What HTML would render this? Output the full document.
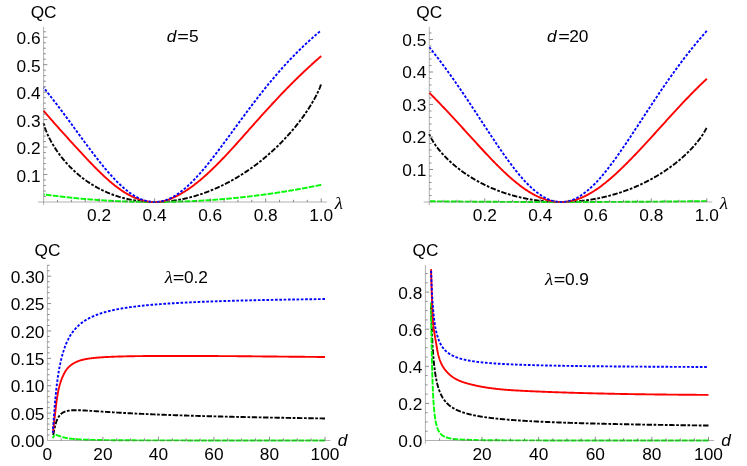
<!DOCTYPE html>
<html><head><meta charset="utf-8"><title>QC plots</title>
<style>html,body{margin:0;padding:0;background:#fff}svg{display:block;will-change:transform}text{fill:#000}</style></head>
<body><svg width="747" height="466" viewBox="0 0 747 466">
<rect width="747" height="466" fill="#fff"/>
<path d="M43.60,123.16 L44.29,125.87 L44.99,127.99 L45.68,129.88 L46.38,131.63 L47.07,133.27 L47.76,134.83 L48.46,136.31 L49.15,137.73 L49.85,139.10 L50.54,140.42 L51.23,141.69 L51.93,142.93 L52.62,144.13 L53.32,145.29 L54.01,146.43 L54.70,147.54 L55.40,148.62 L56.09,149.67 L56.79,150.70 L57.48,151.71 L58.17,152.69 L58.87,153.65 L59.56,154.60 L60.26,155.52 L60.95,156.43 L61.64,157.32 L62.34,158.19 L63.03,159.04 L63.73,159.88 L64.42,160.71 L65.11,161.51 L65.81,162.31 L66.50,163.09 L67.20,163.86 L67.89,164.61 L68.58,165.35 L69.28,166.08 L69.97,166.80 L70.67,167.50 L71.36,168.20 L72.05,168.88 L72.75,169.55 L73.44,170.21 L74.14,170.86 L74.83,171.50 L75.52,172.13 L76.22,172.75 L76.91,173.36 L77.61,173.96 L78.30,174.55 L78.99,175.13 L79.69,175.70 L80.38,176.27 L81.08,176.82 L81.77,177.37 L82.46,177.91 L83.16,178.44 L83.85,178.96 L84.55,179.47 L85.24,179.98 L85.93,180.47 L86.63,180.96 L87.32,181.45 L88.02,181.92 L88.71,182.39 L89.40,182.85 L90.10,183.30 L90.79,183.75 L91.49,184.19 L92.18,184.62 L92.87,185.05 L93.57,185.47 L94.26,185.88 L94.96,186.29 L95.65,186.69 L96.34,187.08 L97.04,187.46 L97.73,187.85 L98.43,188.22 L99.12,188.59 L99.81,188.95 L100.51,189.31 L101.20,189.66 L101.90,190.00 L102.59,190.34 L103.28,190.67 L103.98,191.00 L104.67,191.32 L105.37,191.64 L106.06,191.95 L106.75,192.25 L107.45,192.55 L108.14,192.84 L108.84,193.13 L109.53,193.42 L110.22,193.69 L110.92,193.97 L111.61,194.23 L112.31,194.50 L113.00,194.75 L113.69,195.01 L114.39,195.25 L115.08,195.49 L115.78,195.73 L116.47,195.96 L117.16,196.19 L117.86,196.41 L118.55,196.63 L119.25,196.85 L119.94,197.05 L120.63,197.26 L121.33,197.46 L122.02,197.65 L122.72,197.84 L123.41,198.03 L124.10,198.21 L124.80,198.38 L125.49,198.55 L126.19,198.72 L126.88,198.88 L127.57,199.04 L128.27,199.20 L128.96,199.35 L129.66,199.49 L130.35,199.63 L131.04,199.77 L131.74,199.90 L132.43,200.03 L133.13,200.15 L133.82,200.27 L134.51,200.39 L135.21,200.50 L135.90,200.61 L136.60,200.71 L137.29,200.81 L137.98,200.90 L138.68,200.99 L139.37,201.08 L140.07,201.16 L140.76,201.24 L141.45,201.32 L142.15,201.39 L142.84,201.45 L143.54,201.52 L144.23,201.58 L144.92,201.63 L145.62,201.68 L146.31,201.73 L147.01,201.77 L147.70,201.81 L148.39,201.85 L149.09,201.88 L149.78,201.91 L150.48,201.93 L151.17,201.95 L151.86,201.97 L152.56,201.98 L153.25,201.99 L153.95,202.00 L154.64,202.00 L155.33,202.00 L156.03,201.99 L156.72,201.98 L157.42,201.97 L158.11,201.95 L158.80,201.93 L159.50,201.91 L160.19,201.88 L160.89,201.85 L161.58,201.82 L162.27,201.78 L162.97,201.74 L163.66,201.69 L164.36,201.64 L165.05,201.59 L165.74,201.53 L166.44,201.47 L167.13,201.41 L167.83,201.34 L168.52,201.27 L169.21,201.20 L169.91,201.12 L170.60,201.04 L171.30,200.96 L171.99,200.87 L172.68,200.78 L173.38,200.68 L174.07,200.58 L174.77,200.48 L175.46,200.38 L176.15,200.27 L176.85,200.16 L177.54,200.04 L178.24,199.92 L178.93,199.80 L179.62,199.67 L180.32,199.55 L181.01,199.41 L181.71,199.28 L182.40,199.14 L183.09,198.99 L183.79,198.85 L184.48,198.70 L185.18,198.54 L185.87,198.39 L186.56,198.23 L187.26,198.07 L187.95,197.90 L188.65,197.73 L189.34,197.55 L190.03,197.38 L190.73,197.20 L191.42,197.01 L192.12,196.83 L192.81,196.64 L193.50,196.44 L194.20,196.25 L194.89,196.04 L195.59,195.84 L196.28,195.63 L196.97,195.42 L197.67,195.21 L198.36,194.99 L199.06,194.77 L199.75,194.55 L200.44,194.32 L201.14,194.09 L201.83,193.85 L202.53,193.62 L203.22,193.37 L203.91,193.13 L204.61,192.88 L205.30,192.63 L206.00,192.38 L206.69,192.12 L207.38,191.86 L208.08,191.59 L208.77,191.32 L209.47,191.05 L210.16,190.78 L210.85,190.50 L211.55,190.22 L212.24,189.93 L212.94,189.64 L213.63,189.35 L214.32,189.05 L215.02,188.75 L215.71,188.45 L216.41,188.15 L217.10,187.84 L217.79,187.52 L218.49,187.21 L219.18,186.89 L219.88,186.56 L220.57,186.24 L221.26,185.91 L221.96,185.57 L222.65,185.23 L223.35,184.89 L224.04,184.55 L224.73,184.20 L225.43,183.85 L226.12,183.49 L226.82,183.13 L227.51,182.77 L228.20,182.41 L228.90,182.04 L229.59,181.66 L230.29,181.29 L230.98,180.91 L231.67,180.52 L232.37,180.14 L233.06,179.74 L233.76,179.35 L234.45,178.95 L235.14,178.55 L235.84,178.14 L236.53,177.73 L237.23,177.32 L237.92,176.90 L238.61,176.48 L239.31,176.06 L240.00,175.63 L240.70,175.20 L241.39,174.76 L242.08,174.32 L242.78,173.88 L243.47,173.43 L244.17,172.98 L244.86,172.52 L245.55,172.06 L246.25,171.60 L246.94,171.13 L247.64,170.66 L248.33,170.18 L249.02,169.71 L249.72,169.22 L250.41,168.73 L251.11,168.24 L251.80,167.75 L252.49,167.25 L253.19,166.74 L253.88,166.24 L254.58,165.72 L255.27,165.21 L255.96,164.69 L256.66,164.16 L257.35,163.63 L258.05,163.10 L258.74,162.56 L259.43,162.02 L260.13,161.47 L260.82,160.92 L261.52,160.36 L262.21,159.80 L262.90,159.24 L263.60,158.67 L264.29,158.09 L264.99,157.51 L265.68,156.93 L266.37,156.34 L267.07,155.75 L267.76,155.15 L268.46,154.55 L269.15,153.94 L269.84,153.32 L270.54,152.71 L271.23,152.08 L271.93,151.46 L272.62,150.82 L273.31,150.18 L274.01,149.54 L274.70,148.89 L275.40,148.24 L276.09,147.58 L276.78,146.91 L277.48,146.24 L278.17,145.56 L278.87,144.88 L279.56,144.19 L280.25,143.50 L280.95,142.80 L281.64,142.09 L282.34,141.38 L283.03,140.66 L283.72,139.93 L284.42,139.20 L285.11,138.47 L285.81,137.72 L286.50,136.97 L287.19,136.21 L287.89,135.45 L288.58,134.68 L289.28,133.90 L289.97,133.11 L290.66,132.32 L291.36,131.52 L292.05,130.71 L292.75,129.89 L293.44,129.07 L294.13,128.24 L294.83,127.40 L295.52,126.55 L296.22,125.69 L296.91,124.82 L297.60,123.94 L298.30,123.06 L298.99,122.16 L299.69,121.26 L300.38,120.34 L301.07,119.42 L301.77,118.48 L302.46,117.53 L303.16,116.57 L303.85,115.60 L304.54,114.62 L305.24,113.62 L305.93,112.61 L306.63,111.58 L307.32,110.55 L308.01,109.49 L308.71,108.42 L309.40,107.33 L310.10,106.23 L310.79,105.11 L311.48,103.96 L312.18,102.80 L312.87,101.61 L313.57,100.40 L314.26,99.16 L314.95,97.89 L315.65,96.59 L316.34,95.25 L317.04,93.87 L317.73,92.45 L318.42,90.96 L319.12,89.40 L319.81,87.74 L320.51,85.94 L321.20,83.74" fill="none" stroke="#000" stroke-width="1.9" stroke-linejoin="round" stroke-dasharray="2.7 1.6 5.4 1.6" stroke-dashoffset="0.00"/>
<path d="M43.60,194.37 L44.29,194.47 L44.99,194.56 L45.68,194.66 L46.38,194.75 L47.07,194.84 L47.76,194.93 L48.46,195.03 L49.15,195.12 L49.85,195.21 L50.54,195.30 L51.23,195.38 L51.93,195.47 L52.62,195.56 L53.32,195.65 L54.01,195.74 L54.70,195.82 L55.40,195.91 L56.09,195.99 L56.79,196.08 L57.48,196.16 L58.17,196.24 L58.87,196.33 L59.56,196.41 L60.26,196.49 L60.95,196.57 L61.64,196.65 L62.34,196.73 L63.03,196.81 L63.73,196.89 L64.42,196.96 L65.11,197.04 L65.81,197.12 L66.50,197.19 L67.20,197.27 L67.89,197.34 L68.58,197.42 L69.28,197.49 L69.97,197.57 L70.67,197.64 L71.36,197.71 L72.05,197.78 L72.75,197.85 L73.44,197.92 L74.14,197.99 L74.83,198.06 L75.52,198.13 L76.22,198.20 L76.91,198.26 L77.61,198.33 L78.30,198.39 L78.99,198.46 L79.69,198.52 L80.38,198.59 L81.08,198.65 L81.77,198.71 L82.46,198.78 L83.16,198.84 L83.85,198.90 L84.55,198.96 L85.24,199.02 L85.93,199.08 L86.63,199.14 L87.32,199.20 L88.02,199.25 L88.71,199.31 L89.40,199.37 L90.10,199.42 L90.79,199.48 L91.49,199.53 L92.18,199.59 L92.87,199.64 L93.57,199.69 L94.26,199.74 L94.96,199.80 L95.65,199.85 L96.34,199.90 L97.04,199.95 L97.73,200.00 L98.43,200.05 L99.12,200.09 L99.81,200.14 L100.51,200.19 L101.20,200.23 L101.90,200.28 L102.59,200.32 L103.28,200.37 L103.98,200.41 L104.67,200.46 L105.37,200.50 L106.06,200.54 L106.75,200.58 L107.45,200.62 L108.14,200.66 L108.84,200.70 L109.53,200.74 L110.22,200.78 L110.92,200.82 L111.61,200.85 L112.31,200.89 L113.00,200.93 L113.69,200.96 L114.39,201.00 L115.08,201.03 L115.78,201.07 L116.47,201.10 L117.16,201.13 L117.86,201.16 L118.55,201.19 L119.25,201.23 L119.94,201.26 L120.63,201.28 L121.33,201.31 L122.02,201.34 L122.72,201.37 L123.41,201.40 L124.10,201.42 L124.80,201.45 L125.49,201.47 L126.19,201.50 L126.88,201.52 L127.57,201.55 L128.27,201.57 L128.96,201.59 L129.66,201.61 L130.35,201.63 L131.04,201.66 L131.74,201.68 L132.43,201.69 L133.13,201.71 L133.82,201.73 L134.51,201.75 L135.21,201.77 L135.90,201.78 L136.60,201.80 L137.29,201.81 L137.98,201.83 L138.68,201.84 L139.37,201.86 L140.07,201.87 L140.76,201.88 L141.45,201.89 L142.15,201.90 L142.84,201.91 L143.54,201.92 L144.23,201.93 L144.92,201.94 L145.62,201.95 L146.31,201.96 L147.01,201.96 L147.70,201.97 L148.39,201.98 L149.09,201.98 L149.78,201.99 L150.48,201.99 L151.17,201.99 L151.86,202.00 L152.56,202.00 L153.25,202.00 L153.95,202.00 L154.64,202.00 L155.33,202.00 L156.03,202.00 L156.72,202.00 L157.42,202.00 L158.11,201.99 L158.80,201.99 L159.50,201.99 L160.19,201.98 L160.89,201.98 L161.58,201.97 L162.27,201.96 L162.97,201.96 L163.66,201.95 L164.36,201.94 L165.05,201.93 L165.74,201.92 L166.44,201.91 L167.13,201.90 L167.83,201.89 L168.52,201.88 L169.21,201.87 L169.91,201.86 L170.60,201.84 L171.30,201.83 L171.99,201.81 L172.68,201.80 L173.38,201.78 L174.07,201.77 L174.77,201.75 L175.46,201.73 L176.15,201.71 L176.85,201.69 L177.54,201.68 L178.24,201.66 L178.93,201.63 L179.62,201.61 L180.32,201.59 L181.01,201.57 L181.71,201.55 L182.40,201.52 L183.09,201.50 L183.79,201.47 L184.48,201.45 L185.18,201.42 L185.87,201.40 L186.56,201.37 L187.26,201.34 L187.95,201.31 L188.65,201.28 L189.34,201.26 L190.03,201.23 L190.73,201.19 L191.42,201.16 L192.12,201.13 L192.81,201.10 L193.50,201.07 L194.20,201.03 L194.89,201.00 L195.59,200.96 L196.28,200.93 L196.97,200.89 L197.67,200.85 L198.36,200.82 L199.06,200.78 L199.75,200.74 L200.44,200.70 L201.14,200.66 L201.83,200.62 L202.53,200.58 L203.22,200.54 L203.91,200.50 L204.61,200.46 L205.30,200.41 L206.00,200.37 L206.69,200.32 L207.38,200.28 L208.08,200.23 L208.77,200.19 L209.47,200.14 L210.16,200.09 L210.85,200.05 L211.55,200.00 L212.24,199.95 L212.94,199.90 L213.63,199.85 L214.32,199.80 L215.02,199.74 L215.71,199.69 L216.41,199.64 L217.10,199.59 L217.79,199.53 L218.49,199.48 L219.18,199.42 L219.88,199.37 L220.57,199.31 L221.26,199.25 L221.96,199.20 L222.65,199.14 L223.35,199.08 L224.04,199.02 L224.73,198.96 L225.43,198.90 L226.12,198.84 L226.82,198.78 L227.51,198.71 L228.20,198.65 L228.90,198.59 L229.59,198.52 L230.29,198.46 L230.98,198.39 L231.67,198.33 L232.37,198.26 L233.06,198.20 L233.76,198.13 L234.45,198.06 L235.14,197.99 L235.84,197.92 L236.53,197.85 L237.23,197.78 L237.92,197.71 L238.61,197.64 L239.31,197.57 L240.00,197.49 L240.70,197.42 L241.39,197.34 L242.08,197.27 L242.78,197.19 L243.47,197.12 L244.17,197.04 L244.86,196.96 L245.55,196.89 L246.25,196.81 L246.94,196.73 L247.64,196.65 L248.33,196.57 L249.02,196.49 L249.72,196.41 L250.41,196.33 L251.11,196.24 L251.80,196.16 L252.49,196.08 L253.19,195.99 L253.88,195.91 L254.58,195.82 L255.27,195.74 L255.96,195.65 L256.66,195.56 L257.35,195.47 L258.05,195.38 L258.74,195.30 L259.43,195.21 L260.13,195.12 L260.82,195.03 L261.52,194.93 L262.21,194.84 L262.90,194.75 L263.60,194.66 L264.29,194.56 L264.99,194.47 L265.68,194.37 L266.37,194.28 L267.07,194.18 L267.76,194.08 L268.46,193.99 L269.15,193.89 L269.84,193.79 L270.54,193.69 L271.23,193.59 L271.93,193.49 L272.62,193.39 L273.31,193.29 L274.01,193.19 L274.70,193.08 L275.40,192.98 L276.09,192.87 L276.78,192.77 L277.48,192.67 L278.17,192.56 L278.87,192.45 L279.56,192.35 L280.25,192.24 L280.95,192.13 L281.64,192.02 L282.34,191.91 L283.03,191.80 L283.72,191.69 L284.42,191.58 L285.11,191.47 L285.81,191.36 L286.50,191.24 L287.19,191.13 L287.89,191.02 L288.58,190.90 L289.28,190.79 L289.97,190.67 L290.66,190.55 L291.36,190.44 L292.05,190.32 L292.75,190.20 L293.44,190.08 L294.13,189.96 L294.83,189.84 L295.52,189.72 L296.22,189.60 L296.91,189.48 L297.60,189.36 L298.30,189.23 L298.99,189.11 L299.69,188.98 L300.38,188.86 L301.07,188.73 L301.77,188.61 L302.46,188.48 L303.16,188.35 L303.85,188.23 L304.54,188.10 L305.24,187.97 L305.93,187.84 L306.63,187.71 L307.32,187.58 L308.01,187.45 L308.71,187.32 L309.40,187.18 L310.10,187.05 L310.79,186.92 L311.48,186.78 L312.18,186.65 L312.87,186.51 L313.57,186.37 L314.26,186.24 L314.95,186.10 L315.65,185.96 L316.34,185.82 L317.04,185.68 L317.73,185.55 L318.42,185.40 L319.12,185.26 L319.81,185.12 L320.51,184.98 L321.20,184.84" fill="none" stroke="#00fc00" stroke-width="1.9" stroke-linejoin="round" stroke-dasharray="5.7 1.25" stroke-dashoffset="4.58"/>
<path d="M43.60,110.73 L44.29,111.55 L44.99,112.37 L45.68,113.19 L46.38,114.00 L47.07,114.81 L47.76,115.62 L48.46,116.43 L49.15,117.23 L49.85,118.03 L50.54,118.83 L51.23,119.62 L51.93,120.42 L52.62,121.21 L53.32,122.00 L54.01,122.78 L54.70,123.57 L55.40,124.35 L56.09,125.13 L56.79,125.91 L57.48,126.69 L58.17,127.47 L58.87,128.24 L59.56,129.02 L60.26,129.79 L60.95,130.56 L61.64,131.33 L62.34,132.10 L63.03,132.87 L63.73,133.64 L64.42,134.41 L65.11,135.18 L65.81,135.94 L66.50,136.71 L67.20,137.48 L67.89,138.24 L68.58,139.01 L69.28,139.77 L69.97,140.54 L70.67,141.30 L71.36,142.07 L72.05,142.83 L72.75,143.59 L73.44,144.35 L74.14,145.12 L74.83,145.88 L75.52,146.64 L76.22,147.40 L76.91,148.15 L77.61,148.91 L78.30,149.67 L78.99,150.42 L79.69,151.18 L80.38,151.93 L81.08,152.68 L81.77,153.43 L82.46,154.18 L83.16,154.92 L83.85,155.67 L84.55,156.41 L85.24,157.15 L85.93,157.89 L86.63,158.63 L87.32,159.36 L88.02,160.09 L88.71,160.82 L89.40,161.55 L90.10,162.28 L90.79,163.00 L91.49,163.72 L92.18,164.44 L92.87,165.15 L93.57,165.86 L94.26,166.57 L94.96,167.28 L95.65,167.98 L96.34,168.68 L97.04,169.37 L97.73,170.07 L98.43,170.75 L99.12,171.44 L99.81,172.12 L100.51,172.79 L101.20,173.46 L101.90,174.13 L102.59,174.79 L103.28,175.44 L103.98,176.09 L104.67,176.74 L105.37,177.38 L106.06,178.02 L106.75,178.64 L107.45,179.27 L108.14,179.88 L108.84,180.50 L109.53,181.10 L110.22,181.70 L110.92,182.29 L111.61,182.88 L112.31,183.46 L113.00,184.03 L113.69,184.59 L114.39,185.15 L115.08,185.70 L115.78,186.24 L116.47,186.78 L117.16,187.30 L117.86,187.82 L118.55,188.33 L119.25,188.84 L119.94,189.33 L120.63,189.82 L121.33,190.29 L122.02,190.76 L122.72,191.22 L123.41,191.67 L124.10,192.11 L124.80,192.55 L125.49,192.97 L126.19,193.38 L126.88,193.79 L127.57,194.18 L128.27,194.57 L128.96,194.94 L129.66,195.31 L130.35,195.67 L131.04,196.01 L131.74,196.35 L132.43,196.68 L133.13,197.00 L133.82,197.30 L134.51,197.60 L135.21,197.89 L135.90,198.17 L136.60,198.44 L137.29,198.70 L137.98,198.95 L138.68,199.19 L139.37,199.43 L140.07,199.65 L140.76,199.86 L141.45,200.07 L142.15,200.26 L142.84,200.45 L143.54,200.63 L144.23,200.79 L144.92,200.95 L145.62,201.10 L146.31,201.24 L147.01,201.37 L147.70,201.49 L148.39,201.60 L149.09,201.70 L149.78,201.79 L150.48,201.86 L151.17,201.93 L151.86,201.99 L152.56,202.03 L153.25,202.06 L153.95,202.08 L154.64,202.09 L155.33,202.09 L156.03,202.07 L156.72,202.04 L157.42,202.00 L158.11,201.95 L158.80,201.88 L159.50,201.80 L160.19,201.71 L160.89,201.60 L161.58,201.48 L162.27,201.34 L162.97,201.20 L163.66,201.04 L164.36,200.87 L165.05,200.68 L165.74,200.49 L166.44,200.28 L167.13,200.06 L167.83,199.83 L168.52,199.59 L169.21,199.34 L169.91,199.08 L170.60,198.81 L171.30,198.53 L171.99,198.23 L172.68,197.93 L173.38,197.63 L174.07,197.31 L174.77,196.98 L175.46,196.65 L176.15,196.31 L176.85,195.96 L177.54,195.60 L178.24,195.23 L178.93,194.86 L179.62,194.48 L180.32,194.10 L181.01,193.70 L181.71,193.30 L182.40,192.89 L183.09,192.48 L183.79,192.05 L184.48,191.63 L185.18,191.19 L185.87,190.75 L186.56,190.30 L187.26,189.84 L187.95,189.38 L188.65,188.91 L189.34,188.43 L190.03,187.94 L190.73,187.45 L191.42,186.96 L192.12,186.45 L192.81,185.94 L193.50,185.42 L194.20,184.90 L194.89,184.37 L195.59,183.83 L196.28,183.29 L196.97,182.74 L197.67,182.18 L198.36,181.62 L199.06,181.05 L199.75,180.48 L200.44,179.90 L201.14,179.31 L201.83,178.72 L202.53,178.12 L203.22,177.52 L203.91,176.91 L204.61,176.30 L205.30,175.68 L206.00,175.06 L206.69,174.43 L207.38,173.79 L208.08,173.15 L208.77,172.51 L209.47,171.86 L210.16,171.21 L210.85,170.55 L211.55,169.89 L212.24,169.22 L212.94,168.55 L213.63,167.87 L214.32,167.19 L215.02,166.51 L215.71,165.82 L216.41,165.13 L217.10,164.43 L217.79,163.73 L218.49,163.03 L219.18,162.32 L219.88,161.61 L220.57,160.90 L221.26,160.18 L221.96,159.46 L222.65,158.74 L223.35,158.02 L224.04,157.29 L224.73,156.55 L225.43,155.82 L226.12,155.08 L226.82,154.34 L227.51,153.60 L228.20,152.85 L228.90,152.10 L229.59,151.35 L230.29,150.60 L230.98,149.84 L231.67,149.09 L232.37,148.33 L233.06,147.57 L233.76,146.80 L234.45,146.04 L235.14,145.27 L235.84,144.50 L236.53,143.74 L237.23,142.96 L237.92,142.19 L238.61,141.42 L239.31,140.64 L240.00,139.87 L240.70,139.09 L241.39,138.31 L242.08,137.54 L242.78,136.76 L243.47,135.98 L244.17,135.20 L244.86,134.42 L245.55,133.64 L246.25,132.85 L246.94,132.07 L247.64,131.29 L248.33,130.51 L249.02,129.73 L249.72,128.94 L250.41,128.16 L251.11,127.38 L251.80,126.60 L252.49,125.82 L253.19,125.03 L253.88,124.25 L254.58,123.47 L255.27,122.69 L255.96,121.91 L256.66,121.14 L257.35,120.36 L258.05,119.58 L258.74,118.80 L259.43,118.03 L260.13,117.25 L260.82,116.48 L261.52,115.71 L262.21,114.93 L262.90,114.16 L263.60,113.39 L264.29,112.63 L264.99,111.86 L265.68,111.09 L266.37,110.33 L267.07,109.56 L267.76,108.80 L268.46,108.04 L269.15,107.28 L269.84,106.53 L270.54,105.77 L271.23,105.02 L271.93,104.26 L272.62,103.51 L273.31,102.76 L274.01,102.02 L274.70,101.27 L275.40,100.53 L276.09,99.78 L276.78,99.04 L277.48,98.31 L278.17,97.57 L278.87,96.84 L279.56,96.10 L280.25,95.37 L280.95,94.64 L281.64,93.92 L282.34,93.19 L283.03,92.47 L283.72,91.75 L284.42,91.03 L285.11,90.32 L285.81,89.60 L286.50,88.89 L287.19,88.18 L287.89,87.47 L288.58,86.77 L289.28,86.06 L289.97,85.36 L290.66,84.66 L291.36,83.96 L292.05,83.27 L292.75,82.58 L293.44,81.89 L294.13,81.20 L294.83,80.51 L295.52,79.83 L296.22,79.15 L296.91,78.47 L297.60,77.79 L298.30,77.11 L298.99,76.44 L299.69,75.77 L300.38,75.10 L301.07,74.44 L301.77,73.77 L302.46,73.11 L303.16,72.45 L303.85,71.79 L304.54,71.14 L305.24,70.48 L305.93,69.83 L306.63,69.18 L307.32,68.54 L308.01,67.89 L308.71,67.25 L309.40,66.61 L310.10,65.97 L310.79,65.34 L311.48,64.71 L312.18,64.08 L312.87,63.45 L313.57,62.82 L314.26,62.19 L314.95,61.57 L315.65,60.95 L316.34,60.33 L317.04,59.72 L317.73,59.10 L318.42,58.49 L319.12,57.88 L319.81,57.27 L320.51,56.67 L321.20,56.07" fill="none" stroke="#ff0000" stroke-width="1.9" stroke-linejoin="round"/>
<path d="M43.60,87.58 L44.29,88.44 L44.99,89.31 L45.68,90.17 L46.38,91.04 L47.07,91.91 L47.76,92.79 L48.46,93.67 L49.15,94.55 L49.85,95.43 L50.54,96.32 L51.23,97.21 L51.93,98.10 L52.62,99.00 L53.32,99.90 L54.01,100.80 L54.70,101.70 L55.40,102.61 L56.09,103.51 L56.79,104.42 L57.48,105.34 L58.17,106.25 L58.87,107.17 L59.56,108.09 L60.26,109.01 L60.95,109.94 L61.64,110.86 L62.34,111.79 L63.03,112.72 L63.73,113.65 L64.42,114.58 L65.11,115.52 L65.81,116.45 L66.50,117.39 L67.20,118.33 L67.89,119.27 L68.58,120.21 L69.28,121.16 L69.97,122.10 L70.67,123.04 L71.36,123.99 L72.05,124.93 L72.75,125.88 L73.44,126.83 L74.14,127.78 L74.83,128.72 L75.52,129.67 L76.22,130.62 L76.91,131.57 L77.61,132.52 L78.30,133.46 L78.99,134.41 L79.69,135.36 L80.38,136.30 L81.08,137.25 L81.77,138.19 L82.46,139.14 L83.16,140.08 L83.85,141.02 L84.55,141.96 L85.24,142.90 L85.93,143.84 L86.63,144.77 L87.32,145.71 L88.02,146.64 L88.71,147.57 L89.40,148.49 L90.10,149.42 L90.79,150.34 L91.49,151.26 L92.18,152.17 L92.87,153.09 L93.57,154.00 L94.26,154.90 L94.96,155.80 L95.65,156.70 L96.34,157.60 L97.04,158.49 L97.73,159.38 L98.43,160.26 L99.12,161.14 L99.81,162.01 L100.51,162.88 L101.20,163.74 L101.90,164.60 L102.59,165.45 L103.28,166.30 L103.98,167.14 L104.67,167.98 L105.37,168.81 L106.06,169.63 L106.75,170.45 L107.45,171.26 L108.14,172.06 L108.84,172.86 L109.53,173.65 L110.22,174.43 L110.92,175.20 L111.61,175.97 L112.31,176.73 L113.00,177.48 L113.69,178.23 L114.39,178.96 L115.08,179.69 L115.78,180.40 L116.47,181.11 L117.16,181.81 L117.86,182.50 L118.55,183.18 L119.25,183.85 L119.94,184.52 L120.63,185.17 L121.33,185.81 L122.02,186.44 L122.72,187.06 L123.41,187.67 L124.10,188.27 L124.80,188.86 L125.49,189.44 L126.19,190.00 L126.88,190.56 L127.57,191.10 L128.27,191.63 L128.96,192.15 L129.66,192.66 L130.35,193.16 L131.04,193.64 L131.74,194.11 L132.43,194.57 L133.13,195.02 L133.82,195.45 L134.51,195.87 L135.21,196.28 L135.90,196.67 L136.60,197.05 L137.29,197.42 L137.98,197.77 L138.68,198.11 L139.37,198.44 L140.07,198.75 L140.76,199.05 L141.45,199.34 L142.15,199.61 L142.84,199.86 L143.54,200.11 L144.23,200.33 L144.92,200.55 L145.62,200.75 L146.31,200.93 L147.01,201.10 L147.70,201.26 L148.39,201.40 L149.09,201.52 L149.78,201.64 L150.48,201.73 L151.17,201.81 L151.86,201.88 L152.56,201.93 L153.25,201.97 L153.95,201.99 L154.64,202.00 L155.33,201.99 L156.03,201.97 L156.72,201.93 L157.42,201.88 L158.11,201.81 L158.80,201.73 L159.50,201.64 L160.19,201.52 L160.89,201.40 L161.58,201.26 L162.27,201.10 L162.97,200.93 L163.66,200.75 L164.36,200.55 L165.05,200.33 L165.74,200.11 L166.44,199.86 L167.13,199.61 L167.83,199.34 L168.52,199.05 L169.21,198.75 L169.91,198.44 L170.60,198.11 L171.30,197.77 L171.99,197.42 L172.68,197.05 L173.38,196.67 L174.07,196.28 L174.77,195.87 L175.46,195.45 L176.15,195.02 L176.85,194.57 L177.54,194.11 L178.24,193.64 L178.93,193.16 L179.62,192.66 L180.32,192.15 L181.01,191.63 L181.71,191.10 L182.40,190.56 L183.09,190.00 L183.79,189.44 L184.48,188.86 L185.18,188.27 L185.87,187.67 L186.56,187.06 L187.26,186.44 L187.95,185.81 L188.65,185.17 L189.34,184.52 L190.03,183.85 L190.73,183.18 L191.42,182.50 L192.12,181.81 L192.81,181.11 L193.50,180.40 L194.20,179.69 L194.89,178.96 L195.59,178.23 L196.28,177.48 L196.97,176.73 L197.67,175.97 L198.36,175.20 L199.06,174.43 L199.75,173.65 L200.44,172.86 L201.14,172.06 L201.83,171.26 L202.53,170.45 L203.22,169.63 L203.91,168.81 L204.61,167.98 L205.30,167.14 L206.00,166.30 L206.69,165.45 L207.38,164.60 L208.08,163.74 L208.77,162.88 L209.47,162.01 L210.16,161.14 L210.85,160.26 L211.55,159.38 L212.24,158.49 L212.94,157.60 L213.63,156.70 L214.32,155.80 L215.02,154.90 L215.71,154.00 L216.41,153.09 L217.10,152.17 L217.79,151.26 L218.49,150.34 L219.18,149.42 L219.88,148.49 L220.57,147.57 L221.26,146.64 L221.96,145.71 L222.65,144.77 L223.35,143.84 L224.04,142.90 L224.73,141.96 L225.43,141.02 L226.12,140.08 L226.82,139.14 L227.51,138.19 L228.20,137.25 L228.90,136.30 L229.59,135.36 L230.29,134.41 L230.98,133.46 L231.67,132.52 L232.37,131.57 L233.06,130.62 L233.76,129.67 L234.45,128.72 L235.14,127.78 L235.84,126.83 L236.53,125.88 L237.23,124.93 L237.92,123.99 L238.61,123.04 L239.31,122.10 L240.00,121.16 L240.70,120.21 L241.39,119.27 L242.08,118.33 L242.78,117.39 L243.47,116.45 L244.17,115.52 L244.86,114.58 L245.55,113.65 L246.25,112.72 L246.94,111.79 L247.64,110.86 L248.33,109.94 L249.02,109.01 L249.72,108.09 L250.41,107.17 L251.11,106.25 L251.80,105.34 L252.49,104.42 L253.19,103.51 L253.88,102.61 L254.58,101.70 L255.27,100.80 L255.96,99.90 L256.66,99.00 L257.35,98.10 L258.05,97.21 L258.74,96.32 L259.43,95.43 L260.13,94.55 L260.82,93.67 L261.52,92.79 L262.21,91.91 L262.90,91.04 L263.60,90.17 L264.29,89.31 L264.99,88.44 L265.68,87.58 L266.37,86.73 L267.07,85.87 L267.76,85.02 L268.46,84.18 L269.15,83.33 L269.84,82.49 L270.54,81.66 L271.23,80.82 L271.93,79.99 L272.62,79.17 L273.31,78.35 L274.01,77.53 L274.70,76.71 L275.40,75.90 L276.09,75.09 L276.78,74.28 L277.48,73.48 L278.17,72.68 L278.87,71.89 L279.56,71.10 L280.25,70.31 L280.95,69.53 L281.64,68.75 L282.34,67.97 L283.03,67.20 L283.72,66.43 L284.42,65.67 L285.11,64.91 L285.81,64.15 L286.50,63.39 L287.19,62.64 L287.89,61.90 L288.58,61.16 L289.28,60.42 L289.97,59.68 L290.66,58.95 L291.36,58.22 L292.05,57.50 L292.75,56.78 L293.44,56.06 L294.13,55.35 L294.83,54.64 L295.52,53.93 L296.22,53.23 L296.91,52.53 L297.60,51.84 L298.30,51.15 L298.99,50.46 L299.69,49.78 L300.38,49.10 L301.07,48.42 L301.77,47.75 L302.46,47.08 L303.16,46.42 L303.85,45.75 L304.54,45.10 L305.24,44.44 L305.93,43.79 L306.63,43.15 L307.32,42.50 L308.01,41.86 L308.71,41.23 L309.40,40.59 L310.10,39.96 L310.79,39.34 L311.48,38.72 L312.18,38.10 L312.87,37.48 L313.57,36.87 L314.26,36.27 L314.95,35.66 L315.65,35.06 L316.34,34.46 L317.04,33.87 L317.73,33.28 L318.42,32.69 L319.12,32.11 L319.81,31.53 L320.51,30.95 L321.20,30.37" fill="none" stroke="#0000ff" stroke-width="1.9" stroke-linejoin="round" stroke-dasharray="2.65 1.65" stroke-dashoffset="2.03"/>
<path d="M429.30,133.96 L429.99,135.81 L430.69,137.29 L431.38,138.62 L432.07,139.86 L432.77,141.03 L433.46,142.14 L434.16,143.21 L434.85,144.24 L435.54,145.24 L436.24,146.20 L436.93,147.14 L437.62,148.05 L438.32,148.93 L439.01,149.80 L439.71,150.65 L440.40,151.47 L441.09,152.28 L441.79,153.07 L442.48,153.85 L443.18,154.61 L443.87,155.36 L444.56,156.10 L445.26,156.82 L445.95,157.53 L446.64,158.22 L447.34,158.91 L448.03,159.58 L448.73,160.25 L449.42,160.90 L450.11,161.54 L450.81,162.18 L451.50,162.80 L452.19,163.42 L452.89,164.02 L453.58,164.62 L454.28,165.21 L454.97,165.79 L455.66,166.37 L456.36,166.93 L457.05,167.49 L457.74,168.04 L458.44,168.58 L459.13,169.12 L459.82,169.65 L460.52,170.17 L461.21,170.68 L461.91,171.19 L462.60,171.69 L463.29,172.19 L463.99,172.68 L464.68,173.16 L465.38,173.64 L466.07,174.11 L466.76,174.58 L467.46,175.04 L468.15,175.49 L468.84,175.94 L469.54,176.38 L470.23,176.82 L470.93,177.25 L471.62,177.68 L472.31,178.10 L473.01,178.52 L473.70,178.93 L474.39,179.34 L475.09,179.74 L475.78,180.14 L476.48,180.53 L477.17,180.92 L477.86,181.30 L478.56,181.68 L479.25,182.06 L479.94,182.43 L480.64,182.79 L481.33,183.15 L482.03,183.51 L482.72,183.86 L483.41,184.21 L484.11,184.55 L484.80,184.89 L485.49,185.23 L486.19,185.56 L486.88,185.88 L487.57,186.21 L488.27,186.53 L488.96,186.84 L489.66,187.15 L490.35,187.46 L491.04,187.76 L491.74,188.06 L492.43,188.36 L493.12,188.65 L493.82,188.94 L494.51,189.22 L495.21,189.50 L495.90,189.78 L496.59,190.05 L497.29,190.32 L497.98,190.59 L498.68,190.85 L499.37,191.11 L500.06,191.37 L500.76,191.62 L501.45,191.87 L502.14,192.11 L502.84,192.36 L503.53,192.59 L504.23,192.83 L504.92,193.06 L505.61,193.29 L506.31,193.52 L507.00,193.74 L507.69,193.96 L508.39,194.17 L509.08,194.38 L509.77,194.59 L510.47,194.80 L511.16,195.00 L511.86,195.20 L512.55,195.40 L513.24,195.59 L513.94,195.78 L514.63,195.97 L515.33,196.15 L516.02,196.33 L516.71,196.51 L517.41,196.69 L518.10,196.86 L518.79,197.03 L519.49,197.19 L520.18,197.35 L520.88,197.51 L521.57,197.67 L522.26,197.82 L522.96,197.98 L523.65,198.12 L524.34,198.27 L525.04,198.41 L525.73,198.55 L526.43,198.69 L527.12,198.82 L527.81,198.95 L528.51,199.08 L529.20,199.20 L529.89,199.32 L530.59,199.44 L531.28,199.56 L531.98,199.67 L532.67,199.78 L533.36,199.89 L534.06,200.00 L534.75,200.10 L535.44,200.20 L536.14,200.30 L536.83,200.39 L537.52,200.48 L538.22,200.57 L538.91,200.66 L539.61,200.74 L540.30,200.82 L540.99,200.90 L541.69,200.97 L542.38,201.05 L543.08,201.12 L543.77,201.18 L544.46,201.25 L545.16,201.31 L545.85,201.37 L546.54,201.42 L547.24,201.48 L547.93,201.53 L548.62,201.58 L549.32,201.62 L550.01,201.67 L550.71,201.71 L551.40,201.75 L552.09,201.78 L552.79,201.81 L553.48,201.84 L554.17,201.87 L554.87,201.89 L555.56,201.92 L556.26,201.94 L556.95,201.95 L557.64,201.97 L558.34,201.98 L559.03,201.99 L559.73,201.99 L560.42,202.00 L561.11,202.00 L561.81,202.00 L562.50,201.99 L563.19,201.99 L563.89,201.98 L564.58,201.97 L565.27,201.95 L565.97,201.94 L566.66,201.92 L567.36,201.90 L568.05,201.87 L568.74,201.84 L569.44,201.81 L570.13,201.78 L570.83,201.75 L571.52,201.71 L572.21,201.67 L572.91,201.63 L573.60,201.58 L574.29,201.53 L574.99,201.48 L575.68,201.43 L576.38,201.38 L577.07,201.32 L577.76,201.26 L578.46,201.19 L579.15,201.13 L579.84,201.06 L580.54,200.99 L581.23,200.92 L581.92,200.84 L582.62,200.76 L583.31,200.68 L584.01,200.60 L584.70,200.51 L585.39,200.42 L586.09,200.33 L586.78,200.23 L587.48,200.14 L588.17,200.04 L588.86,199.94 L589.56,199.83 L590.25,199.72 L590.94,199.61 L591.64,199.50 L592.33,199.39 L593.02,199.27 L593.72,199.15 L594.41,199.02 L595.11,198.90 L595.80,198.77 L596.49,198.64 L597.19,198.50 L597.88,198.37 L598.58,198.23 L599.27,198.09 L599.96,197.94 L600.66,197.80 L601.35,197.65 L602.04,197.49 L602.74,197.34 L603.43,197.18 L604.12,197.02 L604.82,196.86 L605.51,196.69 L606.21,196.52 L606.90,196.35 L607.59,196.18 L608.29,196.00 L608.98,195.82 L609.67,195.64 L610.37,195.45 L611.06,195.26 L611.76,195.07 L612.45,194.88 L613.14,194.68 L613.84,194.48 L614.53,194.28 L615.23,194.07 L615.92,193.86 L616.61,193.65 L617.31,193.44 L618.00,193.22 L618.69,193.00 L619.39,192.78 L620.08,192.55 L620.78,192.33 L621.47,192.09 L622.16,191.86 L622.86,191.62 L623.55,191.38 L624.24,191.14 L624.94,190.89 L625.63,190.64 L626.33,190.39 L627.02,190.13 L627.71,189.88 L628.41,189.61 L629.10,189.35 L629.79,189.08 L630.49,188.81 L631.18,188.54 L631.88,188.26 L632.57,187.98 L633.26,187.69 L633.96,187.41 L634.65,187.12 L635.34,186.82 L636.04,186.53 L636.73,186.23 L637.42,185.92 L638.12,185.62 L638.81,185.30 L639.51,184.99 L640.20,184.67 L640.89,184.35 L641.59,184.03 L642.28,183.70 L642.98,183.37 L643.67,183.04 L644.36,182.70 L645.06,182.36 L645.75,182.01 L646.44,181.66 L647.14,181.31 L647.83,180.95 L648.53,180.59 L649.22,180.23 L649.91,179.86 L650.61,179.49 L651.30,179.11 L651.99,178.73 L652.69,178.35 L653.38,177.96 L654.08,177.57 L654.77,177.18 L655.46,176.78 L656.16,176.37 L656.85,175.97 L657.54,175.55 L658.24,175.14 L658.93,174.72 L659.62,174.29 L660.32,173.86 L661.01,173.43 L661.71,172.99 L662.40,172.55 L663.09,172.10 L663.79,171.65 L664.48,171.19 L665.17,170.73 L665.87,170.26 L666.56,169.79 L667.26,169.31 L667.95,168.83 L668.64,168.35 L669.34,167.85 L670.03,167.36 L670.73,166.85 L671.42,166.34 L672.11,165.83 L672.81,165.31 L673.50,164.79 L674.19,164.25 L674.89,163.72 L675.58,163.17 L676.27,162.62 L676.97,162.07 L677.66,161.51 L678.36,160.94 L679.05,160.36 L679.74,159.78 L680.44,159.19 L681.13,158.59 L681.83,157.99 L682.52,157.38 L683.21,156.76 L683.91,156.13 L684.60,155.49 L685.29,154.85 L685.99,154.20 L686.68,153.53 L687.38,152.86 L688.07,152.18 L688.76,151.49 L689.46,150.79 L690.15,150.08 L690.84,149.36 L691.54,148.63 L692.23,147.88 L692.92,147.12 L693.62,146.35 L694.31,145.57 L695.01,144.77 L695.70,143.96 L696.39,143.13 L697.09,142.28 L697.78,141.42 L698.48,140.53 L699.17,139.63 L699.86,138.70 L700.56,137.74 L701.25,136.76 L701.94,135.75 L702.64,134.70 L703.33,133.61 L704.03,132.47 L704.72,131.26 L705.41,129.98 L706.11,128.56 L706.80,126.80" fill="none" stroke="#000" stroke-width="1.9" stroke-linejoin="round" stroke-dasharray="2.7 1.6 5.4 1.6" stroke-dashoffset="0.00"/>
<path d="M429.30,201.26 L429.99,201.27 L430.69,201.28 L431.38,201.29 L432.07,201.29 L432.77,201.30 L433.46,201.31 L434.16,201.32 L434.85,201.32 L435.54,201.33 L436.24,201.34 L436.93,201.35 L437.62,201.35 L438.32,201.36 L439.01,201.37 L439.71,201.37 L440.40,201.38 L441.09,201.39 L441.79,201.40 L442.48,201.40 L443.18,201.41 L443.87,201.42 L444.56,201.42 L445.26,201.43 L445.95,201.44 L446.64,201.44 L447.34,201.45 L448.03,201.46 L448.73,201.46 L449.42,201.47 L450.11,201.48 L450.81,201.48 L451.50,201.49 L452.19,201.50 L452.89,201.50 L453.58,201.51 L454.28,201.52 L454.97,201.52 L455.66,201.53 L456.36,201.53 L457.05,201.54 L457.74,201.55 L458.44,201.55 L459.13,201.56 L459.82,201.56 L460.52,201.57 L461.21,201.58 L461.91,201.58 L462.60,201.59 L463.29,201.59 L463.99,201.60 L464.68,201.61 L465.38,201.61 L466.07,201.62 L466.76,201.62 L467.46,201.63 L468.15,201.63 L468.84,201.64 L469.54,201.64 L470.23,201.65 L470.93,201.65 L471.62,201.66 L472.31,201.67 L473.01,201.67 L473.70,201.68 L474.39,201.68 L475.09,201.69 L475.78,201.69 L476.48,201.70 L477.17,201.70 L477.86,201.71 L478.56,201.71 L479.25,201.72 L479.94,201.72 L480.64,201.73 L481.33,201.73 L482.03,201.73 L482.72,201.74 L483.41,201.74 L484.11,201.75 L484.80,201.75 L485.49,201.76 L486.19,201.76 L486.88,201.77 L487.57,201.77 L488.27,201.77 L488.96,201.78 L489.66,201.78 L490.35,201.79 L491.04,201.79 L491.74,201.80 L492.43,201.80 L493.12,201.80 L493.82,201.81 L494.51,201.81 L495.21,201.82 L495.90,201.82 L496.59,201.82 L497.29,201.83 L497.98,201.83 L498.68,201.83 L499.37,201.84 L500.06,201.84 L500.76,201.85 L501.45,201.85 L502.14,201.85 L502.84,201.86 L503.53,201.86 L504.23,201.86 L504.92,201.87 L505.61,201.87 L506.31,201.87 L507.00,201.88 L507.69,201.88 L508.39,201.88 L509.08,201.89 L509.77,201.89 L510.47,201.89 L511.16,201.89 L511.86,201.90 L512.55,201.90 L513.24,201.90 L513.94,201.91 L514.63,201.91 L515.33,201.91 L516.02,201.91 L516.71,201.92 L517.41,201.92 L518.10,201.92 L518.79,201.92 L519.49,201.93 L520.18,201.93 L520.88,201.93 L521.57,201.93 L522.26,201.94 L522.96,201.94 L523.65,201.94 L524.34,201.94 L525.04,201.94 L525.73,201.95 L526.43,201.95 L527.12,201.95 L527.81,201.95 L528.51,201.95 L529.20,201.96 L529.89,201.96 L530.59,201.96 L531.28,201.96 L531.98,201.96 L532.67,201.97 L533.36,201.97 L534.06,201.97 L534.75,201.97 L535.44,201.97 L536.14,201.97 L536.83,201.97 L537.52,201.98 L538.22,201.98 L538.91,201.98 L539.61,201.98 L540.30,201.98 L540.99,201.98 L541.69,201.98 L542.38,201.99 L543.08,201.99 L543.77,201.99 L544.46,201.99 L545.16,201.99 L545.85,201.99 L546.54,201.99 L547.24,201.99 L547.93,201.99 L548.62,201.99 L549.32,201.99 L550.01,201.99 L550.71,202.00 L551.40,202.00 L552.09,202.00 L552.79,202.00 L553.48,202.00 L554.17,202.00 L554.87,202.00 L555.56,202.00 L556.26,202.00 L556.95,202.00 L557.64,202.00 L558.34,202.00 L559.03,202.00 L559.73,202.00 L560.42,202.00 L561.11,202.00 L561.81,202.00 L562.50,202.00 L563.19,202.00 L563.89,202.00 L564.58,202.00 L565.27,202.00 L565.97,202.00 L566.66,202.00 L567.36,202.00 L568.05,202.00 L568.74,202.00 L569.44,202.00 L570.13,202.00 L570.83,202.00 L571.52,202.00 L572.21,201.99 L572.91,201.99 L573.60,201.99 L574.29,201.99 L574.99,201.99 L575.68,201.99 L576.38,201.99 L577.07,201.99 L577.76,201.99 L578.46,201.99 L579.15,201.99 L579.84,201.99 L580.54,201.98 L581.23,201.98 L581.92,201.98 L582.62,201.98 L583.31,201.98 L584.01,201.98 L584.70,201.98 L585.39,201.97 L586.09,201.97 L586.78,201.97 L587.48,201.97 L588.17,201.97 L588.86,201.97 L589.56,201.97 L590.25,201.96 L590.94,201.96 L591.64,201.96 L592.33,201.96 L593.02,201.96 L593.72,201.95 L594.41,201.95 L595.11,201.95 L595.80,201.95 L596.49,201.95 L597.19,201.94 L597.88,201.94 L598.58,201.94 L599.27,201.94 L599.96,201.94 L600.66,201.93 L601.35,201.93 L602.04,201.93 L602.74,201.93 L603.43,201.92 L604.12,201.92 L604.82,201.92 L605.51,201.92 L606.21,201.91 L606.90,201.91 L607.59,201.91 L608.29,201.91 L608.98,201.90 L609.67,201.90 L610.37,201.90 L611.06,201.89 L611.76,201.89 L612.45,201.89 L613.14,201.89 L613.84,201.88 L614.53,201.88 L615.23,201.88 L615.92,201.87 L616.61,201.87 L617.31,201.87 L618.00,201.86 L618.69,201.86 L619.39,201.86 L620.08,201.85 L620.78,201.85 L621.47,201.85 L622.16,201.84 L622.86,201.84 L623.55,201.83 L624.24,201.83 L624.94,201.83 L625.63,201.82 L626.33,201.82 L627.02,201.82 L627.71,201.81 L628.41,201.81 L629.10,201.80 L629.79,201.80 L630.49,201.80 L631.18,201.79 L631.88,201.79 L632.57,201.78 L633.26,201.78 L633.96,201.77 L634.65,201.77 L635.34,201.77 L636.04,201.76 L636.73,201.76 L637.42,201.75 L638.12,201.75 L638.81,201.74 L639.51,201.74 L640.20,201.73 L640.89,201.73 L641.59,201.73 L642.28,201.72 L642.98,201.72 L643.67,201.71 L644.36,201.71 L645.06,201.70 L645.75,201.70 L646.44,201.69 L647.14,201.69 L647.83,201.68 L648.53,201.68 L649.22,201.67 L649.91,201.67 L650.61,201.66 L651.30,201.65 L651.99,201.65 L652.69,201.64 L653.38,201.64 L654.08,201.63 L654.77,201.63 L655.46,201.62 L656.16,201.62 L656.85,201.61 L657.54,201.61 L658.24,201.60 L658.93,201.59 L659.62,201.59 L660.32,201.58 L661.01,201.58 L661.71,201.57 L662.40,201.56 L663.09,201.56 L663.79,201.55 L664.48,201.55 L665.17,201.54 L665.87,201.53 L666.56,201.53 L667.26,201.52 L667.95,201.52 L668.64,201.51 L669.34,201.50 L670.03,201.50 L670.73,201.49 L671.42,201.48 L672.11,201.48 L672.81,201.47 L673.50,201.46 L674.19,201.46 L674.89,201.45 L675.58,201.44 L676.27,201.44 L676.97,201.43 L677.66,201.42 L678.36,201.42 L679.05,201.41 L679.74,201.40 L680.44,201.40 L681.13,201.39 L681.83,201.38 L682.52,201.37 L683.21,201.37 L683.91,201.36 L684.60,201.35 L685.29,201.35 L685.99,201.34 L686.68,201.33 L687.38,201.32 L688.07,201.32 L688.76,201.31 L689.46,201.30 L690.15,201.29 L690.84,201.29 L691.54,201.28 L692.23,201.27 L692.92,201.26 L693.62,201.26 L694.31,201.25 L695.01,201.24 L695.70,201.23 L696.39,201.22 L697.09,201.22 L697.78,201.21 L698.48,201.20 L699.17,201.19 L699.86,201.18 L700.56,201.18 L701.25,201.17 L701.94,201.16 L702.64,201.15 L703.33,201.14 L704.03,201.13 L704.72,201.13 L705.41,201.12 L706.11,201.11 L706.80,201.10" fill="none" stroke="#00fc00" stroke-width="1.9" stroke-linejoin="round" stroke-dasharray="5.7 1.25" stroke-dashoffset="6.19"/>
<path d="M429.30,92.78 L429.99,93.47 L430.69,94.17 L431.38,94.86 L432.07,95.56 L432.77,96.26 L433.46,96.97 L434.16,97.67 L434.85,98.38 L435.54,99.09 L436.24,99.80 L436.93,100.51 L437.62,101.23 L438.32,101.95 L439.01,102.67 L439.71,103.39 L440.40,104.11 L441.09,104.83 L441.79,105.56 L442.48,106.29 L443.18,107.02 L443.87,107.75 L444.56,108.48 L445.26,109.22 L445.95,109.95 L446.64,110.69 L447.34,111.43 L448.03,112.17 L448.73,112.91 L449.42,113.66 L450.11,114.40 L450.81,115.15 L451.50,115.89 L452.19,116.64 L452.89,117.39 L453.58,118.14 L454.28,118.89 L454.97,119.65 L455.66,120.40 L456.36,121.16 L457.05,121.91 L457.74,122.67 L458.44,123.43 L459.13,124.18 L459.82,124.94 L460.52,125.70 L461.21,126.46 L461.91,127.23 L462.60,127.99 L463.29,128.75 L463.99,129.51 L464.68,130.27 L465.38,131.04 L466.07,131.80 L466.76,132.56 L467.46,133.33 L468.15,134.09 L468.84,134.85 L469.54,135.62 L470.23,136.38 L470.93,137.14 L471.62,137.91 L472.31,138.67 L473.01,139.43 L473.70,140.19 L474.39,140.95 L475.09,141.71 L475.78,142.47 L476.48,143.23 L477.17,143.99 L477.86,144.75 L478.56,145.50 L479.25,146.26 L479.94,147.01 L480.64,147.76 L481.33,148.51 L482.03,149.26 L482.72,150.01 L483.41,150.76 L484.11,151.51 L484.80,152.25 L485.49,152.99 L486.19,153.73 L486.88,154.47 L487.57,155.20 L488.27,155.94 L488.96,156.67 L489.66,157.40 L490.35,158.12 L491.04,158.85 L491.74,159.57 L492.43,160.29 L493.12,161.00 L493.82,161.72 L494.51,162.43 L495.21,163.13 L495.90,163.84 L496.59,164.54 L497.29,165.23 L497.98,165.93 L498.68,166.62 L499.37,167.30 L500.06,167.98 L500.76,168.66 L501.45,169.34 L502.14,170.01 L502.84,170.67 L503.53,171.34 L504.23,171.99 L504.92,172.65 L505.61,173.30 L506.31,173.94 L507.00,174.58 L507.69,175.21 L508.39,175.84 L509.08,176.47 L509.77,177.09 L510.47,177.70 L511.16,178.31 L511.86,178.91 L512.55,179.51 L513.24,180.10 L513.94,180.69 L514.63,181.27 L515.33,181.84 L516.02,182.41 L516.71,182.97 L517.41,183.52 L518.10,184.07 L518.79,184.61 L519.49,185.15 L520.18,185.68 L520.88,186.20 L521.57,186.72 L522.26,187.22 L522.96,187.73 L523.65,188.22 L524.34,188.71 L525.04,189.18 L525.73,189.66 L526.43,190.12 L527.12,190.58 L527.81,191.02 L528.51,191.46 L529.20,191.90 L529.89,192.32 L530.59,192.74 L531.28,193.15 L531.98,193.54 L532.67,193.94 L533.36,194.32 L534.06,194.69 L534.75,195.06 L535.44,195.41 L536.14,195.76 L536.83,196.10 L537.52,196.42 L538.22,196.74 L538.91,197.05 L539.61,197.36 L540.30,197.65 L540.99,197.93 L541.69,198.20 L542.38,198.47 L543.08,198.72 L543.77,198.96 L544.46,199.20 L545.16,199.43 L545.85,199.64 L546.54,199.85 L547.24,200.04 L547.93,200.23 L548.62,200.41 L549.32,200.58 L550.01,200.74 L550.71,200.89 L551.40,201.03 L552.09,201.16 L552.79,201.28 L553.48,201.39 L554.17,201.50 L554.87,201.59 L555.56,201.67 L556.26,201.75 L556.95,201.81 L557.64,201.87 L558.34,201.91 L559.03,201.95 L559.73,201.98 L560.42,201.99 L561.11,202.00 L561.81,202.00 L562.50,201.99 L563.19,201.96 L563.89,201.93 L564.58,201.89 L565.27,201.83 L565.97,201.77 L566.66,201.70 L567.36,201.61 L568.05,201.52 L568.74,201.42 L569.44,201.30 L570.13,201.18 L570.83,201.04 L571.52,200.90 L572.21,200.74 L572.91,200.57 L573.60,200.40 L574.29,200.21 L574.99,200.02 L575.68,199.81 L576.38,199.59 L577.07,199.37 L577.76,199.13 L578.46,198.88 L579.15,198.63 L579.84,198.36 L580.54,198.09 L581.23,197.80 L581.92,197.51 L582.62,197.21 L583.31,196.90 L584.01,196.58 L584.70,196.25 L585.39,195.91 L586.09,195.56 L586.78,195.21 L587.48,194.84 L588.17,194.47 L588.86,194.09 L589.56,193.70 L590.25,193.30 L590.94,192.90 L591.64,192.48 L592.33,192.06 L593.02,191.63 L593.72,191.20 L594.41,190.75 L595.11,190.30 L595.80,189.84 L596.49,189.38 L597.19,188.90 L597.88,188.42 L598.58,187.93 L599.27,187.44 L599.96,186.94 L600.66,186.43 L601.35,185.91 L602.04,185.39 L602.74,184.86 L603.43,184.33 L604.12,183.78 L604.82,183.24 L605.51,182.68 L606.21,182.12 L606.90,181.56 L607.59,180.99 L608.29,180.41 L608.98,179.83 L609.67,179.24 L610.37,178.65 L611.06,178.05 L611.76,177.44 L612.45,176.84 L613.14,176.22 L613.84,175.60 L614.53,174.98 L615.23,174.35 L615.92,173.72 L616.61,173.08 L617.31,172.44 L618.00,171.79 L618.69,171.14 L619.39,170.49 L620.08,169.83 L620.78,169.17 L621.47,168.50 L622.16,167.83 L622.86,167.16 L623.55,166.48 L624.24,165.80 L624.94,165.12 L625.63,164.43 L626.33,163.74 L627.02,163.04 L627.71,162.34 L628.41,161.64 L629.10,160.94 L629.79,160.23 L630.49,159.53 L631.18,158.81 L631.88,158.10 L632.57,157.38 L633.26,156.66 L633.96,155.94 L634.65,155.22 L635.34,154.49 L636.04,153.76 L636.73,153.03 L637.42,152.30 L638.12,151.56 L638.81,150.83 L639.51,150.09 L640.20,149.35 L640.89,148.61 L641.59,147.86 L642.28,147.12 L642.98,146.37 L643.67,145.62 L644.36,144.87 L645.06,144.12 L645.75,143.37 L646.44,142.61 L647.14,141.86 L647.83,141.10 L648.53,140.35 L649.22,139.59 L649.91,138.83 L650.61,138.07 L651.30,137.31 L651.99,136.55 L652.69,135.79 L653.38,135.03 L654.08,134.26 L654.77,133.50 L655.46,132.74 L656.16,131.97 L656.85,131.21 L657.54,130.44 L658.24,129.67 L658.93,128.91 L659.62,128.14 L660.32,127.38 L661.01,126.61 L661.71,125.84 L662.40,125.08 L663.09,124.31 L663.79,123.54 L664.48,122.78 L665.17,122.01 L665.87,121.24 L666.56,120.48 L667.26,119.71 L667.95,118.95 L668.64,118.19 L669.34,117.42 L670.03,116.66 L670.73,115.90 L671.42,115.14 L672.11,114.38 L672.81,113.62 L673.50,112.86 L674.19,112.11 L674.89,111.35 L675.58,110.60 L676.27,109.85 L676.97,109.10 L677.66,108.35 L678.36,107.60 L679.05,106.85 L679.74,106.11 L680.44,105.36 L681.13,104.62 L681.83,103.88 L682.52,103.15 L683.21,102.41 L683.91,101.67 L684.60,100.94 L685.29,100.21 L685.99,99.48 L686.68,98.76 L687.38,98.03 L688.07,97.31 L688.76,96.59 L689.46,95.87 L690.15,95.16 L690.84,94.45 L691.54,93.74 L692.23,93.03 L692.92,92.32 L693.62,91.62 L694.31,90.92 L695.01,90.22 L695.70,89.53 L696.39,88.83 L697.09,88.14 L697.78,87.46 L698.48,86.77 L699.17,86.09 L699.86,85.41 L700.56,84.74 L701.25,84.07 L701.94,83.40 L702.64,82.73 L703.33,82.06 L704.03,81.40 L704.72,80.75 L705.41,80.09 L706.11,79.44 L706.80,78.79" fill="none" stroke="#ff0000" stroke-width="1.9" stroke-linejoin="round"/>
<path d="M429.30,47.24 L429.99,48.10 L430.69,48.96 L431.38,49.82 L432.07,50.69 L432.77,51.56 L433.46,52.44 L434.16,53.32 L434.85,54.21 L435.54,55.10 L436.24,55.99 L436.93,56.89 L437.62,57.79 L438.32,58.70 L439.01,59.60 L439.71,60.52 L440.40,61.43 L441.09,62.35 L441.79,63.28 L442.48,64.21 L443.18,65.14 L443.87,66.07 L444.56,67.01 L445.26,67.96 L445.95,68.90 L446.64,69.85 L447.34,70.81 L448.03,71.77 L448.73,72.73 L449.42,73.69 L450.11,74.66 L450.81,75.63 L451.50,76.60 L452.19,77.58 L452.89,78.56 L453.58,79.55 L454.28,80.54 L454.97,81.53 L455.66,82.52 L456.36,83.52 L457.05,84.52 L457.74,85.52 L458.44,86.53 L459.13,87.54 L459.82,88.55 L460.52,89.56 L461.21,90.58 L461.91,91.60 L462.60,92.62 L463.29,93.65 L463.99,94.67 L464.68,95.70 L465.38,96.73 L466.07,97.77 L466.76,98.80 L467.46,99.84 L468.15,100.88 L468.84,101.92 L469.54,102.97 L470.23,104.01 L470.93,105.06 L471.62,106.11 L472.31,107.16 L473.01,108.21 L473.70,109.26 L474.39,110.31 L475.09,111.37 L475.78,112.42 L476.48,113.48 L477.17,114.54 L477.86,115.60 L478.56,116.65 L479.25,117.71 L479.94,118.77 L480.64,119.83 L481.33,120.89 L482.03,121.95 L482.72,123.01 L483.41,124.07 L484.11,125.13 L484.80,126.19 L485.49,127.24 L486.19,128.30 L486.88,129.35 L487.57,130.41 L488.27,131.46 L488.96,132.51 L489.66,133.57 L490.35,134.61 L491.04,135.66 L491.74,136.71 L492.43,137.75 L493.12,138.79 L493.82,139.83 L494.51,140.86 L495.21,141.90 L495.90,142.93 L496.59,143.96 L497.29,144.98 L497.98,146.00 L498.68,147.02 L499.37,148.03 L500.06,149.04 L500.76,150.05 L501.45,151.05 L502.14,152.05 L502.84,153.04 L503.53,154.03 L504.23,155.01 L504.92,155.99 L505.61,156.96 L506.31,157.93 L507.00,158.89 L507.69,159.85 L508.39,160.80 L509.08,161.74 L509.77,162.68 L510.47,163.61 L511.16,164.54 L511.86,165.45 L512.55,166.36 L513.24,167.27 L513.94,168.16 L514.63,169.05 L515.33,169.93 L516.02,170.80 L516.71,171.67 L517.41,172.52 L518.10,173.37 L518.79,174.21 L519.49,175.04 L520.18,175.86 L520.88,176.67 L521.57,177.47 L522.26,178.26 L522.96,179.04 L523.65,179.81 L524.34,180.57 L525.04,181.32 L525.73,182.06 L526.43,182.79 L527.12,183.51 L527.81,184.21 L528.51,184.91 L529.20,185.59 L529.89,186.26 L530.59,186.92 L531.28,187.57 L531.98,188.21 L532.67,188.83 L533.36,189.44 L534.06,190.04 L534.75,190.62 L535.44,191.19 L536.14,191.75 L536.83,192.29 L537.52,192.83 L538.22,193.34 L538.91,193.85 L539.61,194.34 L540.30,194.81 L540.99,195.27 L541.69,195.72 L542.38,196.15 L543.08,196.57 L543.77,196.98 L544.46,197.36 L545.16,197.74 L545.85,198.10 L546.54,198.44 L547.24,198.77 L547.93,199.08 L548.62,199.38 L549.32,199.66 L550.01,199.92 L550.71,200.17 L551.40,200.41 L552.09,200.63 L552.79,200.83 L553.48,201.01 L554.17,201.19 L554.87,201.34 L555.56,201.48 L556.26,201.60 L556.95,201.71 L557.64,201.80 L558.34,201.87 L559.03,201.93 L559.73,201.97 L560.42,201.99 L561.11,202.00 L561.81,201.99 L562.50,201.97 L563.19,201.93 L563.89,201.87 L564.58,201.80 L565.27,201.71 L565.97,201.60 L566.66,201.48 L567.36,201.34 L568.05,201.19 L568.74,201.01 L569.44,200.83 L570.13,200.63 L570.83,200.41 L571.52,200.17 L572.21,199.92 L572.91,199.66 L573.60,199.38 L574.29,199.08 L574.99,198.77 L575.68,198.44 L576.38,198.10 L577.07,197.74 L577.76,197.36 L578.46,196.98 L579.15,196.57 L579.84,196.15 L580.54,195.72 L581.23,195.27 L581.92,194.81 L582.62,194.34 L583.31,193.85 L584.01,193.34 L584.70,192.83 L585.39,192.29 L586.09,191.75 L586.78,191.19 L587.48,190.62 L588.17,190.04 L588.86,189.44 L589.56,188.83 L590.25,188.21 L590.94,187.57 L591.64,186.92 L592.33,186.26 L593.02,185.59 L593.72,184.91 L594.41,184.21 L595.11,183.51 L595.80,182.79 L596.49,182.06 L597.19,181.32 L597.88,180.57 L598.58,179.81 L599.27,179.04 L599.96,178.26 L600.66,177.47 L601.35,176.67 L602.04,175.86 L602.74,175.04 L603.43,174.21 L604.12,173.37 L604.82,172.52 L605.51,171.67 L606.21,170.80 L606.90,169.93 L607.59,169.05 L608.29,168.16 L608.98,167.27 L609.67,166.36 L610.37,165.45 L611.06,164.54 L611.76,163.61 L612.45,162.68 L613.14,161.74 L613.84,160.80 L614.53,159.85 L615.23,158.89 L615.92,157.93 L616.61,156.96 L617.31,155.99 L618.00,155.01 L618.69,154.03 L619.39,153.04 L620.08,152.05 L620.78,151.05 L621.47,150.05 L622.16,149.04 L622.86,148.03 L623.55,147.02 L624.24,146.00 L624.94,144.98 L625.63,143.96 L626.33,142.93 L627.02,141.90 L627.71,140.86 L628.41,139.83 L629.10,138.79 L629.79,137.75 L630.49,136.71 L631.18,135.66 L631.88,134.61 L632.57,133.57 L633.26,132.51 L633.96,131.46 L634.65,130.41 L635.34,129.35 L636.04,128.30 L636.73,127.24 L637.42,126.19 L638.12,125.13 L638.81,124.07 L639.51,123.01 L640.20,121.95 L640.89,120.89 L641.59,119.83 L642.28,118.77 L642.98,117.71 L643.67,116.65 L644.36,115.60 L645.06,114.54 L645.75,113.48 L646.44,112.42 L647.14,111.37 L647.83,110.31 L648.53,109.26 L649.22,108.21 L649.91,107.16 L650.61,106.11 L651.30,105.06 L651.99,104.01 L652.69,102.97 L653.38,101.92 L654.08,100.88 L654.77,99.84 L655.46,98.80 L656.16,97.77 L656.85,96.73 L657.54,95.70 L658.24,94.67 L658.93,93.65 L659.62,92.62 L660.32,91.60 L661.01,90.58 L661.71,89.56 L662.40,88.55 L663.09,87.54 L663.79,86.53 L664.48,85.52 L665.17,84.52 L665.87,83.52 L666.56,82.52 L667.26,81.53 L667.95,80.54 L668.64,79.55 L669.34,78.56 L670.03,77.58 L670.73,76.60 L671.42,75.63 L672.11,74.66 L672.81,73.69 L673.50,72.73 L674.19,71.77 L674.89,70.81 L675.58,69.85 L676.27,68.90 L676.97,67.96 L677.66,67.01 L678.36,66.07 L679.05,65.14 L679.74,64.21 L680.44,63.28 L681.13,62.35 L681.83,61.43 L682.52,60.52 L683.21,59.60 L683.91,58.70 L684.60,57.79 L685.29,56.89 L685.99,55.99 L686.68,55.10 L687.38,54.21 L688.07,53.32 L688.76,52.44 L689.46,51.56 L690.15,50.69 L690.84,49.82 L691.54,48.96 L692.23,48.10 L692.92,47.24 L693.62,46.38 L694.31,45.54 L695.01,44.69 L695.70,43.85 L696.39,43.01 L697.09,42.18 L697.78,41.35 L698.48,40.53 L699.17,39.71 L699.86,38.89 L700.56,38.08 L701.25,37.27 L701.94,36.46 L702.64,35.66 L703.33,34.87 L704.03,34.08 L704.72,33.29 L705.41,32.50 L706.11,31.72 L706.80,30.95" fill="none" stroke="#0000ff" stroke-width="1.9" stroke-linejoin="round" stroke-dasharray="2.65 1.65" stroke-dashoffset="0.25"/>
<path d="M52.95,436.72 L52.99,436.51 L53.02,436.30 L53.06,436.09 L53.10,435.87 L53.14,435.65 L53.17,435.43 L53.21,435.21 L53.25,434.99 L53.29,434.77 L53.33,434.54 L53.37,434.32 L53.40,434.09 L53.44,433.87 L53.48,433.64 L53.52,433.41 L53.56,433.19 L53.60,432.96 L53.64,432.73 L53.69,432.51 L53.73,432.28 L53.77,432.06 L53.81,431.83 L53.85,431.60 L53.89,431.38 L53.94,431.15 L53.98,430.93 L54.02,430.71 L54.07,430.49 L54.11,430.26 L54.15,430.04 L54.20,429.82 L54.24,429.60 L54.29,429.38 L54.33,429.17 L54.38,428.95 L54.42,428.74 L54.47,428.52 L54.52,428.31 L54.56,428.10 L54.61,427.88 L54.66,427.68 L54.70,427.47 L54.75,427.26 L54.80,427.05 L54.85,426.85 L54.90,426.64 L54.95,426.44 L55.00,426.24 L55.05,426.04 L55.10,425.84 L55.15,425.65 L55.20,425.45 L55.25,425.26 L55.30,425.06 L55.35,424.87 L55.40,424.68 L55.46,424.50 L55.51,424.31 L55.56,424.12 L55.62,423.94 L55.67,423.76 L55.72,423.57 L55.78,423.40 L55.83,423.22 L55.89,423.04 L55.94,422.86 L56.00,422.69 L56.06,422.52 L56.11,422.35 L56.17,422.18 L56.23,422.01 L56.29,421.84 L56.34,421.68 L56.40,421.52 L56.46,421.35 L56.52,421.19 L56.58,421.03 L56.64,420.88 L56.70,420.72 L56.76,420.57 L56.82,420.41 L56.88,420.26 L56.95,420.11 L57.01,419.96 L57.07,419.82 L57.14,419.67 L57.20,419.53 L57.26,419.38 L57.33,419.24 L57.39,419.10 L57.46,418.96 L57.52,418.82 L57.59,418.69 L57.66,418.55 L57.73,418.42 L57.79,418.29 L57.86,418.16 L57.93,418.03 L58.00,417.90 L58.07,417.78 L58.14,417.65 L58.21,417.53 L58.28,417.41 L58.35,417.29 L58.42,417.17 L58.49,417.05 L58.57,416.93 L58.64,416.82 L58.71,416.70 L58.79,416.59 L58.86,416.48 L58.94,416.37 L59.01,416.26 L59.09,416.15 L59.17,416.04 L59.24,415.94 L59.32,415.84 L59.40,415.73 L59.48,415.63 L59.56,415.53 L59.64,415.43 L59.72,415.33 L59.80,415.24 L59.88,415.14 L59.96,415.05 L60.04,414.96 L60.13,414.86 L60.21,414.77 L60.29,414.68 L60.38,414.59 L60.46,414.51 L60.55,414.42 L60.63,414.34 L60.72,414.25 L60.81,414.17 L60.90,414.09 L60.98,414.01 L61.07,413.93 L61.16,413.85 L61.25,413.77 L61.34,413.70 L61.43,413.62 L61.53,413.55 L61.62,413.47 L61.71,413.40 L61.81,413.33 L61.90,413.26 L62.00,413.19 L62.09,413.12 L62.19,413.06 L62.28,412.99 L62.38,412.92 L62.48,412.86 L62.58,412.80 L62.68,412.73 L62.78,412.67 L62.88,412.61 L62.98,412.55 L63.08,412.50 L63.19,412.44 L63.29,412.38 L63.39,412.33 L63.50,412.27 L63.60,412.22 L63.71,412.16 L63.82,412.11 L63.92,412.06 L64.03,412.01 L64.14,411.96 L64.25,411.91 L64.36,411.86 L64.47,411.82 L64.58,411.77 L64.70,411.72 L64.81,411.68 L64.92,411.64 L65.04,411.59 L65.15,411.55 L65.27,411.51 L65.39,411.47 L65.51,411.43 L65.62,411.39 L65.74,411.35 L65.86,411.31 L65.99,411.28 L66.11,411.24 L66.23,411.21 L66.35,411.17 L66.48,411.14 L66.60,411.10 L66.73,411.07 L66.85,411.04 L66.98,411.01 L67.11,410.98 L67.24,410.95 L67.37,410.92 L67.50,410.89 L67.63,410.86 L67.76,410.84 L67.90,410.81 L68.03,410.78 L68.17,410.76 L68.30,410.73 L68.44,410.71 L68.58,410.69 L68.72,410.66 L68.86,410.64 L69.00,410.62 L69.14,410.60 L69.28,410.58 L69.43,410.56 L69.57,410.54 L69.71,410.52 L69.86,410.51 L70.01,410.49 L70.16,410.47 L70.31,410.46 L70.46,410.44 L70.61,410.42 L70.76,410.41 L70.91,410.40 L71.07,410.38 L71.22,410.37 L71.38,410.36 L71.53,410.35 L71.69,410.33 L71.85,410.32 L72.01,410.31 L72.17,410.30 L72.33,410.29 L72.50,410.29 L72.66,410.28 L72.83,410.27 L72.99,410.26 L73.16,410.25 L73.33,410.25 L73.50,410.24 L73.67,410.24 L73.84,410.23 L74.02,410.23 L74.19,410.22 L74.37,410.22 L74.54,410.22 L74.72,410.21 L74.90,410.21 L75.08,410.21 L75.26,410.21 L75.45,410.20 L75.63,410.20 L75.81,410.20 L76.00,410.20 L76.19,410.20 L76.38,410.20 L76.57,410.21 L76.76,410.21 L76.95,410.21 L77.14,410.21 L77.34,410.21 L77.53,410.22 L77.73,410.22 L77.93,410.22 L78.13,410.23 L78.33,410.23 L78.53,410.24 L78.74,410.24 L78.94,410.25 L79.15,410.25 L79.36,410.26 L79.57,410.27 L79.78,410.27 L79.99,410.28 L80.20,410.29 L80.42,410.30 L80.64,410.30 L80.85,410.31 L81.07,410.32 L81.29,410.33 L81.52,410.34 L81.74,410.35 L81.96,410.36 L82.19,410.37 L82.42,410.38 L82.65,410.39 L82.88,410.40 L83.11,410.41 L83.35,410.42 L83.58,410.44 L83.82,410.45 L84.06,410.46 L84.30,410.47 L84.54,410.49 L84.78,410.50 L85.03,410.51 L85.27,410.53 L85.52,410.54 L85.77,410.55 L86.02,410.57 L86.28,410.58 L86.53,410.60 L86.79,410.61 L87.05,410.63 L87.30,410.64 L87.57,410.66 L87.83,410.68 L88.09,410.69 L88.36,410.71 L88.63,410.72 L88.90,410.74 L89.17,410.76 L89.45,410.78 L89.72,410.79 L90.00,410.81 L90.28,410.83 L90.56,410.85 L90.84,410.86 L91.13,410.88 L91.41,410.90 L91.70,410.92 L91.99,410.94 L92.28,410.96 L92.58,410.98 L92.87,411.00 L93.17,411.02 L93.47,411.04 L93.77,411.06 L94.08,411.08 L94.38,411.10 L94.69,411.12 L95.00,411.14 L95.31,411.16 L95.63,411.18 L95.94,411.20 L96.26,411.22 L96.58,411.24 L96.90,411.27 L97.23,411.29 L97.55,411.31 L97.88,411.33 L98.21,411.35 L98.55,411.38 L98.88,411.40 L99.22,411.42 L99.56,411.44 L99.90,411.47 L100.24,411.49 L100.59,411.51 L100.94,411.54 L101.29,411.56 L101.64,411.58 L102.00,411.61 L102.35,411.63 L102.71,411.65 L103.08,411.68 L103.44,411.70 L103.81,411.73 L104.18,411.75 L104.55,411.77 L104.93,411.80 L105.30,411.82 L105.68,411.85 L106.06,411.87 L106.45,411.90 L106.84,411.92 L107.22,411.95 L107.62,411.97 L108.01,412.00 L108.41,412.02 L108.81,412.05 L109.21,412.07 L109.62,412.10 L110.02,412.13 L110.43,412.15 L110.85,412.18 L111.26,412.20 L111.68,412.23 L112.10,412.26 L112.53,412.28 L112.95,412.31 L113.38,412.33 L113.81,412.36 L114.25,412.39 L114.69,412.41 L115.13,412.44 L115.57,412.47 L116.02,412.49 L116.47,412.52 L116.92,412.55 L117.38,412.58 L117.83,412.60 L118.30,412.63 L118.76,412.66 L119.23,412.68 L119.70,412.71 L120.17,412.74 L120.65,412.77 L121.13,412.79 L121.61,412.82 L122.10,412.85 L122.59,412.88 L123.08,412.90 L123.58,412.93 L124.08,412.96 L124.58,412.99 L125.08,413.01 L125.59,413.04 L126.11,413.07 L126.62,413.10 L127.14,413.13 L127.66,413.15 L128.19,413.18 L128.72,413.21 L129.25,413.24 L129.79,413.27 L130.33,413.29 L130.87,413.32 L131.42,413.35 L131.97,413.38 L132.52,413.41 L133.08,413.44 L133.64,413.46 L134.21,413.49 L134.77,413.52 L135.35,413.55 L135.92,413.58 L136.50,413.61 L137.09,413.63 L137.68,413.66 L138.27,413.69 L138.86,413.72 L139.46,413.75 L140.06,413.78 L140.67,413.81 L141.28,413.84 L141.90,413.86 L142.52,413.89 L143.14,413.92 L143.77,413.95 L144.40,413.98 L145.03,414.01 L145.67,414.04 L146.32,414.07 L146.97,414.09 L147.62,414.12 L148.28,414.15 L148.94,414.18 L149.60,414.21 L150.27,414.24 L150.95,414.27 L151.62,414.30 L152.31,414.33 L152.99,414.35 L153.69,414.38 L154.38,414.41 L155.08,414.44 L155.79,414.47 L156.50,414.50 L157.21,414.53 L157.93,414.56 L158.66,414.59 L159.39,414.61 L160.12,414.64 L160.86,414.67 L161.60,414.70 L162.35,414.73 L163.10,414.76 L163.86,414.79 L164.63,414.82 L165.39,414.85 L166.17,414.87 L166.94,414.90 L167.73,414.93 L168.52,414.96 L169.31,414.99 L170.11,415.02 L170.91,415.05 L171.72,415.08 L172.54,415.11 L173.36,415.13 L174.18,415.16 L175.01,415.19 L175.85,415.22 L176.69,415.25 L177.54,415.28 L178.39,415.31 L179.25,415.34 L180.11,415.36 L180.98,415.39 L181.86,415.42 L182.74,415.45 L183.63,415.48 L184.52,415.51 L185.42,415.54 L186.32,415.57 L187.23,415.59 L188.15,415.62 L189.07,415.65 L190.00,415.68 L190.93,415.71 L191.87,415.74 L192.82,415.77 L193.77,415.79 L194.73,415.82 L195.70,415.85 L196.67,415.88 L197.65,415.91 L198.63,415.94 L199.62,415.96 L200.62,415.99 L201.62,416.02 L202.63,416.05 L203.65,416.08 L204.67,416.11 L205.70,416.13 L206.74,416.16 L207.79,416.19 L208.84,416.22 L209.89,416.25 L210.96,416.28 L212.03,416.30 L213.11,416.33 L214.20,416.36 L215.29,416.39 L216.39,416.42 L217.50,416.44 L218.61,416.47 L219.73,416.50 L220.86,416.53 L222.00,416.56 L223.14,416.58 L224.29,416.61 L225.45,416.64 L226.62,416.67 L227.79,416.69 L228.98,416.72 L230.17,416.75 L231.36,416.78 L232.57,416.81 L233.78,416.83 L235.00,416.86 L236.23,416.89 L237.47,416.92 L238.71,416.94 L239.97,416.97 L241.23,417.00 L242.50,417.03 L243.78,417.05 L245.06,417.08 L246.36,417.11 L247.66,417.14 L248.98,417.16 L250.30,417.19 L251.63,417.22 L252.96,417.24 L254.31,417.27 L255.67,417.30 L257.03,417.33 L258.41,417.35 L259.79,417.38 L261.18,417.41 L262.58,417.43 L263.99,417.46 L265.41,417.49 L266.84,417.51 L268.28,417.54 L269.72,417.57 L271.18,417.59 L272.65,417.62 L274.12,417.65 L275.61,417.67 L277.10,417.70 L278.61,417.73 L280.12,417.75 L281.65,417.78 L283.18,417.81 L284.73,417.83 L286.28,417.86 L287.85,417.89 L289.42,417.91 L291.01,417.94 L292.60,417.97 L294.21,417.99 L295.83,418.02 L297.46,418.04 L299.09,418.07 L300.74,418.10 L302.40,418.12 L304.07,418.15 L305.76,418.17 L307.45,418.20 L309.15,418.23 L310.87,418.25 L312.59,418.28 L314.33,418.30 L316.08,418.33 L317.84,418.36 L319.61,418.38 L321.40,418.41 L323.19,418.43 L325.00,418.46" fill="none" stroke="#000" stroke-width="1.9" stroke-linejoin="round" stroke-dasharray="2.7 1.6 5.4 1.6" stroke-dashoffset="2.68"/>
<path d="M52.95,438.07 L52.99,437.96 L53.02,437.86 L53.06,437.75 L53.10,437.65 L53.14,437.55 L53.17,437.46 L53.21,437.36 L53.25,437.27 L53.29,437.17 L53.33,437.08 L53.37,437.00 L53.40,436.91 L53.44,436.83 L53.48,436.74 L53.52,436.66 L53.56,436.59 L53.60,436.51 L53.64,436.44 L53.69,436.37 L53.73,436.30 L53.77,436.23 L53.81,436.16 L53.85,436.10 L53.89,436.04 L53.94,435.98 L53.98,435.92 L54.02,435.87 L54.07,435.82 L54.11,435.76 L54.15,435.72 L54.20,435.67 L54.24,435.62 L54.29,435.58 L54.33,435.54 L54.38,435.50 L54.42,435.46 L54.47,435.43 L54.52,435.39 L54.56,435.36 L54.61,435.33 L54.66,435.30 L54.70,435.27 L54.75,435.25 L54.80,435.22 L54.85,435.20 L54.90,435.18 L54.95,435.16 L55.00,435.14 L55.05,435.12 L55.10,435.11 L55.15,435.09 L55.20,435.08 L55.25,435.07 L55.30,435.06 L55.35,435.05 L55.40,435.04 L55.46,435.04 L55.51,435.03 L55.56,435.03 L55.62,435.03 L55.67,435.02 L55.72,435.02 L55.78,435.02 L55.83,435.02 L55.89,435.03 L55.94,435.03 L56.00,435.04 L56.06,435.04 L56.11,435.05 L56.17,435.05 L56.23,435.06 L56.29,435.07 L56.34,435.08 L56.40,435.09 L56.46,435.10 L56.52,435.11 L56.58,435.13 L56.64,435.14 L56.70,435.15 L56.76,435.17 L56.82,435.18 L56.88,435.20 L56.95,435.22 L57.01,435.23 L57.07,435.25 L57.14,435.27 L57.20,435.29 L57.26,435.31 L57.33,435.33 L57.39,435.35 L57.46,435.37 L57.52,435.39 L57.59,435.41 L57.66,435.43 L57.73,435.46 L57.79,435.48 L57.86,435.50 L57.93,435.53 L58.00,435.55 L58.07,435.57 L58.14,435.60 L58.21,435.62 L58.28,435.65 L58.35,435.67 L58.42,435.70 L58.49,435.73 L58.57,435.75 L58.64,435.78 L58.71,435.80 L58.79,435.83 L58.86,435.86 L58.94,435.89 L59.01,435.91 L59.09,435.94 L59.17,435.97 L59.24,436.00 L59.32,436.02 L59.40,436.05 L59.48,436.08 L59.56,436.11 L59.64,436.14 L59.72,436.17 L59.80,436.19 L59.88,436.22 L59.96,436.25 L60.04,436.28 L60.13,436.31 L60.21,436.34 L60.29,436.37 L60.38,436.40 L60.46,436.43 L60.55,436.46 L60.63,436.48 L60.72,436.51 L60.81,436.54 L60.90,436.57 L60.98,436.60 L61.07,436.63 L61.16,436.66 L61.25,436.69 L61.34,436.72 L61.43,436.75 L61.53,436.77 L61.62,436.80 L61.71,436.83 L61.81,436.86 L61.90,436.89 L62.00,436.92 L62.09,436.95 L62.19,436.98 L62.28,437.00 L62.38,437.03 L62.48,437.06 L62.58,437.09 L62.68,437.12 L62.78,437.14 L62.88,437.17 L62.98,437.20 L63.08,437.23 L63.19,437.26 L63.29,437.28 L63.39,437.31 L63.50,437.34 L63.60,437.36 L63.71,437.39 L63.82,437.42 L63.92,437.45 L64.03,437.47 L64.14,437.50 L64.25,437.52 L64.36,437.55 L64.47,437.58 L64.58,437.60 L64.70,437.63 L64.81,437.65 L64.92,437.68 L65.04,437.71 L65.15,437.73 L65.27,437.76 L65.39,437.78 L65.51,437.81 L65.62,437.83 L65.74,437.86 L65.86,437.88 L65.99,437.90 L66.11,437.93 L66.23,437.95 L66.35,437.98 L66.48,438.00 L66.60,438.02 L66.73,438.05 L66.85,438.07 L66.98,438.09 L67.11,438.12 L67.24,438.14 L67.37,438.16 L67.50,438.18 L67.63,438.21 L67.76,438.23 L67.90,438.25 L68.03,438.27 L68.17,438.29 L68.30,438.32 L68.44,438.34 L68.58,438.36 L68.72,438.38 L68.86,438.40 L69.00,438.42 L69.14,438.44 L69.28,438.46 L69.43,438.48 L69.57,438.50 L69.71,438.52 L69.86,438.54 L70.01,438.56 L70.16,438.58 L70.31,438.60 L70.46,438.62 L70.61,438.64 L70.76,438.66 L70.91,438.68 L71.07,438.69 L71.22,438.71 L71.38,438.73 L71.53,438.75 L71.69,438.77 L71.85,438.79 L72.01,438.80 L72.17,438.82 L72.33,438.84 L72.50,438.86 L72.66,438.87 L72.83,438.89 L72.99,438.91 L73.16,438.92 L73.33,438.94 L73.50,438.96 L73.67,438.97 L73.84,438.99 L74.02,439.00 L74.19,439.02 L74.37,439.04 L74.54,439.05 L74.72,439.07 L74.90,439.08 L75.08,439.10 L75.26,439.11 L75.45,439.13 L75.63,439.14 L75.81,439.16 L76.00,439.17 L76.19,439.18 L76.38,439.20 L76.57,439.21 L76.76,439.23 L76.95,439.24 L77.14,439.25 L77.34,439.27 L77.53,439.28 L77.73,439.29 L77.93,439.31 L78.13,439.32 L78.33,439.33 L78.53,439.35 L78.74,439.36 L78.94,439.37 L79.15,439.38 L79.36,439.40 L79.57,439.41 L79.78,439.42 L79.99,439.43 L80.20,439.44 L80.42,439.45 L80.64,439.47 L80.85,439.48 L81.07,439.49 L81.29,439.50 L81.52,439.51 L81.74,439.52 L81.96,439.53 L82.19,439.54 L82.42,439.55 L82.65,439.57 L82.88,439.58 L83.11,439.59 L83.35,439.60 L83.58,439.61 L83.82,439.62 L84.06,439.63 L84.30,439.64 L84.54,439.65 L84.78,439.66 L85.03,439.67 L85.27,439.67 L85.52,439.68 L85.77,439.69 L86.02,439.70 L86.28,439.71 L86.53,439.72 L86.79,439.73 L87.05,439.74 L87.30,439.75 L87.57,439.76 L87.83,439.76 L88.09,439.77 L88.36,439.78 L88.63,439.79 L88.90,439.80 L89.17,439.81 L89.45,439.81 L89.72,439.82 L90.00,439.83 L90.28,439.84 L90.56,439.84 L90.84,439.85 L91.13,439.86 L91.41,439.87 L91.70,439.87 L91.99,439.88 L92.28,439.89 L92.58,439.90 L92.87,439.90 L93.17,439.91 L93.47,439.92 L93.77,439.92 L94.08,439.93 L94.38,439.94 L94.69,439.94 L95.00,439.95 L95.31,439.96 L95.63,439.96 L95.94,439.97 L96.26,439.97 L96.58,439.98 L96.90,439.99 L97.23,439.99 L97.55,440.00 L97.88,440.01 L98.21,440.01 L98.55,440.02 L98.88,440.02 L99.22,440.03 L99.56,440.03 L99.90,440.04 L100.24,440.04 L100.59,440.05 L100.94,440.06 L101.29,440.06 L101.64,440.07 L102.00,440.07 L102.35,440.08 L102.71,440.08 L103.08,440.09 L103.44,440.09 L103.81,440.10 L104.18,440.10 L104.55,440.11 L104.93,440.11 L105.30,440.11 L105.68,440.12 L106.06,440.12 L106.45,440.13 L106.84,440.13 L107.22,440.14 L107.62,440.14 L108.01,440.15 L108.41,440.15 L108.81,440.15 L109.21,440.16 L109.62,440.16 L110.02,440.17 L110.43,440.17 L110.85,440.17 L111.26,440.18 L111.68,440.18 L112.10,440.19 L112.53,440.19 L112.95,440.19 L113.38,440.20 L113.81,440.20 L114.25,440.20 L114.69,440.21 L115.13,440.21 L115.57,440.21 L116.02,440.22 L116.47,440.22 L116.92,440.23 L117.38,440.23 L117.83,440.23 L118.30,440.24 L118.76,440.24 L119.23,440.24 L119.70,440.24 L120.17,440.25 L120.65,440.25 L121.13,440.25 L121.61,440.26 L122.10,440.26 L122.59,440.26 L123.08,440.27 L123.58,440.27 L124.08,440.27 L124.58,440.27 L125.08,440.28 L125.59,440.28 L126.11,440.28 L126.62,440.28 L127.14,440.29 L127.66,440.29 L128.19,440.29 L128.72,440.30 L129.25,440.30 L129.79,440.30 L130.33,440.30 L130.87,440.30 L131.42,440.31 L131.97,440.31 L132.52,440.31 L133.08,440.31 L133.64,440.32 L134.21,440.32 L134.77,440.32 L135.35,440.32 L135.92,440.33 L136.50,440.33 L137.09,440.33 L137.68,440.33 L138.27,440.33 L138.86,440.34 L139.46,440.34 L140.06,440.34 L140.67,440.34 L141.28,440.34 L141.90,440.35 L142.52,440.35 L143.14,440.35 L143.77,440.35 L144.40,440.35 L145.03,440.36 L145.67,440.36 L146.32,440.36 L146.97,440.36 L147.62,440.36 L148.28,440.36 L148.94,440.37 L149.60,440.37 L150.27,440.37 L150.95,440.37 L151.62,440.37 L152.31,440.37 L152.99,440.38 L153.69,440.38 L154.38,440.38 L155.08,440.38 L155.79,440.38 L156.50,440.38 L157.21,440.38 L157.93,440.39 L158.66,440.39 L159.39,440.39 L160.12,440.39 L160.86,440.39 L161.60,440.39 L162.35,440.39 L163.10,440.40 L163.86,440.40 L164.63,440.40 L165.39,440.40 L166.17,440.40 L166.94,440.40 L167.73,440.40 L168.52,440.40 L169.31,440.41 L170.11,440.41 L170.91,440.41 L171.72,440.41 L172.54,440.41 L173.36,440.41 L174.18,440.41 L175.01,440.41 L175.85,440.41 L176.69,440.42 L177.54,440.42 L178.39,440.42 L179.25,440.42 L180.11,440.42 L180.98,440.42 L181.86,440.42 L182.74,440.42 L183.63,440.42 L184.52,440.42 L185.42,440.43 L186.32,440.43 L187.23,440.43 L188.15,440.43 L189.07,440.43 L190.00,440.43 L190.93,440.43 L191.87,440.43 L192.82,440.43 L193.77,440.43 L194.73,440.43 L195.70,440.44 L196.67,440.44 L197.65,440.44 L198.63,440.44 L199.62,440.44 L200.62,440.44 L201.62,440.44 L202.63,440.44 L203.65,440.44 L204.67,440.44 L205.70,440.44 L206.74,440.44 L207.79,440.44 L208.84,440.44 L209.89,440.45 L210.96,440.45 L212.03,440.45 L213.11,440.45 L214.20,440.45 L215.29,440.45 L216.39,440.45 L217.50,440.45 L218.61,440.45 L219.73,440.45 L220.86,440.45 L222.00,440.45 L223.14,440.45 L224.29,440.45 L225.45,440.45 L226.62,440.46 L227.79,440.46 L228.98,440.46 L230.17,440.46 L231.36,440.46 L232.57,440.46 L233.78,440.46 L235.00,440.46 L236.23,440.46 L237.47,440.46 L238.71,440.46 L239.97,440.46 L241.23,440.46 L242.50,440.46 L243.78,440.46 L245.06,440.46 L246.36,440.46 L247.66,440.46 L248.98,440.46 L250.30,440.46 L251.63,440.47 L252.96,440.47 L254.31,440.47 L255.67,440.47 L257.03,440.47 L258.41,440.47 L259.79,440.47 L261.18,440.47 L262.58,440.47 L263.99,440.47 L265.41,440.47 L266.84,440.47 L268.28,440.47 L269.72,440.47 L271.18,440.47 L272.65,440.47 L274.12,440.47 L275.61,440.47 L277.10,440.47 L278.61,440.47 L280.12,440.47 L281.65,440.47 L283.18,440.47 L284.73,440.47 L286.28,440.47 L287.85,440.47 L289.42,440.48 L291.01,440.48 L292.60,440.48 L294.21,440.48 L295.83,440.48 L297.46,440.48 L299.09,440.48 L300.74,440.48 L302.40,440.48 L304.07,440.48 L305.76,440.48 L307.45,440.48 L309.15,440.48 L310.87,440.48 L312.59,440.48 L314.33,440.48 L316.08,440.48 L317.84,440.48 L319.61,440.48 L321.40,440.48 L323.19,440.48 L325.00,440.48" fill="none" stroke="#00fc00" stroke-width="1.9" stroke-linejoin="round" stroke-dasharray="5.7 1.25" stroke-dashoffset="2.52"/>
<path d="M52.95,432.60 L52.99,432.27 L53.02,431.94 L53.06,431.61 L53.10,431.28 L53.14,430.94 L53.17,430.60 L53.21,430.26 L53.25,429.91 L53.29,429.56 L53.33,429.21 L53.37,428.86 L53.40,428.51 L53.44,428.15 L53.48,427.79 L53.52,427.43 L53.56,427.07 L53.60,426.70 L53.64,426.34 L53.69,425.97 L53.73,425.60 L53.77,425.22 L53.81,424.85 L53.85,424.47 L53.89,424.09 L53.94,423.71 L53.98,423.33 L54.02,422.94 L54.07,422.55 L54.11,422.17 L54.15,421.78 L54.20,421.38 L54.24,420.99 L54.29,420.59 L54.33,420.20 L54.38,419.80 L54.42,419.40 L54.47,418.99 L54.52,418.59 L54.56,418.18 L54.61,417.78 L54.66,417.37 L54.70,416.96 L54.75,416.55 L54.80,416.14 L54.85,415.72 L54.90,415.31 L54.95,414.89 L55.00,414.47 L55.05,414.05 L55.10,413.63 L55.15,413.21 L55.20,412.77 L55.25,412.33 L55.30,411.88 L55.35,411.43 L55.40,410.96 L55.46,410.50 L55.51,410.02 L55.56,409.55 L55.62,409.07 L55.67,408.58 L55.72,408.10 L55.78,407.61 L55.83,407.13 L55.89,406.64 L55.94,406.15 L56.00,405.67 L56.06,405.18 L56.11,404.70 L56.17,404.23 L56.23,403.75 L56.29,403.29 L56.34,402.82 L56.40,402.37 L56.46,401.92 L56.52,401.47 L56.58,401.04 L56.64,400.61 L56.70,400.19 L56.76,399.78 L56.82,399.37 L56.88,398.97 L56.95,398.56 L57.01,398.15 L57.07,397.75 L57.14,397.35 L57.20,396.95 L57.26,396.55 L57.33,396.16 L57.39,395.77 L57.46,395.38 L57.52,394.99 L57.59,394.60 L57.66,394.22 L57.73,393.84 L57.79,393.46 L57.86,393.09 L57.93,392.72 L58.00,392.35 L58.07,391.98 L58.14,391.62 L58.21,391.26 L58.28,390.90 L58.35,390.55 L58.42,390.20 L58.49,389.86 L58.57,389.52 L58.64,389.18 L58.71,388.85 L58.79,388.52 L58.86,388.19 L58.94,387.87 L59.01,387.55 L59.09,387.24 L59.17,386.93 L59.24,386.63 L59.32,386.33 L59.40,386.03 L59.48,385.74 L59.56,385.45 L59.64,385.16 L59.72,384.87 L59.80,384.59 L59.88,384.31 L59.96,384.03 L60.04,383.76 L60.13,383.48 L60.21,383.21 L60.29,382.95 L60.38,382.68 L60.46,382.42 L60.55,382.16 L60.63,381.90 L60.72,381.64 L60.81,381.39 L60.90,381.13 L60.98,380.88 L61.07,380.63 L61.16,380.39 L61.25,380.14 L61.34,379.90 L61.43,379.65 L61.53,379.41 L61.62,379.17 L61.71,378.94 L61.81,378.70 L61.90,378.46 L62.00,378.23 L62.09,378.00 L62.19,377.76 L62.28,377.53 L62.38,377.30 L62.48,377.08 L62.58,376.85 L62.68,376.62 L62.78,376.39 L62.88,376.17 L62.98,375.94 L63.08,375.71 L63.19,375.49 L63.29,375.26 L63.39,375.04 L63.50,374.82 L63.60,374.60 L63.71,374.37 L63.82,374.15 L63.92,373.94 L64.03,373.72 L64.14,373.50 L64.25,373.29 L64.36,373.07 L64.47,372.86 L64.58,372.65 L64.70,372.45 L64.81,372.24 L64.92,372.04 L65.04,371.84 L65.15,371.64 L65.27,371.44 L65.39,371.24 L65.51,371.05 L65.62,370.86 L65.74,370.68 L65.86,370.49 L65.99,370.31 L66.11,370.13 L66.23,369.96 L66.35,369.79 L66.48,369.62 L66.60,369.45 L66.73,369.29 L66.85,369.13 L66.98,368.98 L67.11,368.82 L67.24,368.67 L67.37,368.51 L67.50,368.36 L67.63,368.21 L67.76,368.06 L67.90,367.92 L68.03,367.77 L68.17,367.63 L68.30,367.48 L68.44,367.34 L68.58,367.20 L68.72,367.06 L68.86,366.92 L69.00,366.79 L69.14,366.65 L69.28,366.52 L69.43,366.39 L69.57,366.26 L69.71,366.13 L69.86,366.00 L70.01,365.87 L70.16,365.74 L70.31,365.62 L70.46,365.50 L70.61,365.37 L70.76,365.25 L70.91,365.13 L71.07,365.02 L71.22,364.90 L71.38,364.78 L71.53,364.67 L71.69,364.56 L71.85,364.45 L72.01,364.34 L72.17,364.23 L72.33,364.12 L72.50,364.01 L72.66,363.91 L72.83,363.80 L72.99,363.70 L73.16,363.60 L73.33,363.50 L73.50,363.40 L73.67,363.30 L73.84,363.20 L74.02,363.11 L74.19,363.01 L74.37,362.92 L74.54,362.82 L74.72,362.73 L74.90,362.64 L75.08,362.54 L75.26,362.45 L75.45,362.36 L75.63,362.27 L75.81,362.18 L76.00,362.10 L76.19,362.01 L76.38,361.92 L76.57,361.84 L76.76,361.75 L76.95,361.67 L77.14,361.59 L77.34,361.50 L77.53,361.42 L77.73,361.34 L77.93,361.26 L78.13,361.19 L78.33,361.11 L78.53,361.03 L78.74,360.96 L78.94,360.88 L79.15,360.81 L79.36,360.74 L79.57,360.67 L79.78,360.60 L79.99,360.53 L80.20,360.46 L80.42,360.39 L80.64,360.33 L80.85,360.26 L81.07,360.20 L81.29,360.14 L81.52,360.08 L81.74,360.02 L81.96,359.96 L82.19,359.90 L82.42,359.84 L82.65,359.78 L82.88,359.73 L83.11,359.67 L83.35,359.62 L83.58,359.56 L83.82,359.51 L84.06,359.45 L84.30,359.40 L84.54,359.35 L84.78,359.30 L85.03,359.25 L85.27,359.20 L85.52,359.15 L85.77,359.10 L86.02,359.05 L86.28,359.01 L86.53,358.96 L86.79,358.91 L87.05,358.87 L87.30,358.83 L87.57,358.78 L87.83,358.74 L88.09,358.70 L88.36,358.66 L88.63,358.62 L88.90,358.58 L89.17,358.54 L89.45,358.50 L89.72,358.46 L90.00,358.43 L90.28,358.39 L90.56,358.35 L90.84,358.32 L91.13,358.28 L91.41,358.25 L91.70,358.22 L91.99,358.18 L92.28,358.15 L92.58,358.12 L92.87,358.08 L93.17,358.05 L93.47,358.02 L93.77,357.99 L94.08,357.95 L94.38,357.92 L94.69,357.89 L95.00,357.86 L95.31,357.83 L95.63,357.80 L95.94,357.77 L96.26,357.74 L96.58,357.71 L96.90,357.68 L97.23,357.65 L97.55,357.63 L97.88,357.60 L98.21,357.57 L98.55,357.54 L98.88,357.52 L99.22,357.49 L99.56,357.46 L99.90,357.44 L100.24,357.41 L100.59,357.39 L100.94,357.36 L101.29,357.34 L101.64,357.31 L102.00,357.29 L102.35,357.26 L102.71,357.24 L103.08,357.22 L103.44,357.19 L103.81,357.17 L104.18,357.15 L104.55,357.13 L104.93,357.11 L105.30,357.09 L105.68,357.06 L106.06,357.04 L106.45,357.02 L106.84,357.00 L107.22,356.98 L107.62,356.96 L108.01,356.94 L108.41,356.93 L108.81,356.91 L109.21,356.89 L109.62,356.87 L110.02,356.85 L110.43,356.83 L110.85,356.82 L111.26,356.80 L111.68,356.78 L112.10,356.76 L112.53,356.75 L112.95,356.73 L113.38,356.71 L113.81,356.70 L114.25,356.68 L114.69,356.67 L115.13,356.65 L115.57,356.64 L116.02,356.62 L116.47,356.60 L116.92,356.59 L117.38,356.58 L117.83,356.56 L118.30,356.55 L118.76,356.53 L119.23,356.52 L119.70,356.51 L120.17,356.49 L120.65,356.48 L121.13,356.47 L121.61,356.45 L122.10,356.44 L122.59,356.43 L123.08,356.42 L123.58,356.40 L124.08,356.39 L124.58,356.38 L125.08,356.37 L125.59,356.36 L126.11,356.34 L126.62,356.33 L127.14,356.32 L127.66,356.31 L128.19,356.30 L128.72,356.29 L129.25,356.27 L129.79,356.26 L130.33,356.25 L130.87,356.24 L131.42,356.23 L131.97,356.22 L132.52,356.21 L133.08,356.20 L133.64,356.19 L134.21,356.18 L134.77,356.17 L135.35,356.16 L135.92,356.16 L136.50,356.15 L137.09,356.14 L137.68,356.13 L138.27,356.12 L138.86,356.12 L139.46,356.11 L140.06,356.10 L140.67,356.10 L141.28,356.09 L141.90,356.09 L142.52,356.08 L143.14,356.07 L143.77,356.07 L144.40,356.06 L145.03,356.06 L145.67,356.05 L146.32,356.04 L146.97,356.04 L147.62,356.03 L148.28,356.03 L148.94,356.02 L149.60,356.02 L150.27,356.01 L150.95,356.00 L151.62,356.00 L152.31,356.00 L152.99,355.99 L153.69,355.99 L154.38,355.98 L155.08,355.98 L155.79,355.97 L156.50,355.97 L157.21,355.97 L157.93,355.96 L158.66,355.96 L159.39,355.96 L160.12,355.96 L160.86,355.95 L161.60,355.95 L162.35,355.95 L163.10,355.95 L163.86,355.95 L164.63,355.95 L165.39,355.95 L166.17,355.95 L166.94,355.95 L167.73,355.95 L168.52,355.95 L169.31,355.95 L170.11,355.95 L170.91,355.95 L171.72,355.95 L172.54,355.95 L173.36,355.96 L174.18,355.96 L175.01,355.96 L175.85,355.96 L176.69,355.96 L177.54,355.96 L178.39,355.96 L179.25,355.96 L180.11,355.97 L180.98,355.97 L181.86,355.97 L182.74,355.97 L183.63,355.97 L184.52,355.97 L185.42,355.98 L186.32,355.98 L187.23,355.98 L188.15,355.98 L189.07,355.99 L190.00,355.99 L190.93,355.99 L191.87,355.99 L192.82,355.99 L193.77,356.00 L194.73,356.00 L195.70,356.00 L196.67,356.01 L197.65,356.01 L198.63,356.01 L199.62,356.01 L200.62,356.02 L201.62,356.02 L202.63,356.02 L203.65,356.03 L204.67,356.03 L205.70,356.03 L206.74,356.04 L207.79,356.04 L208.84,356.04 L209.89,356.05 L210.96,356.05 L212.03,356.05 L213.11,356.06 L214.20,356.06 L215.29,356.07 L216.39,356.07 L217.50,356.07 L218.61,356.08 L219.73,356.08 L220.86,356.09 L222.00,356.09 L223.14,356.09 L224.29,356.10 L225.45,356.10 L226.62,356.11 L227.79,356.11 L228.98,356.12 L230.17,356.13 L231.36,356.13 L232.57,356.14 L233.78,356.15 L235.00,356.16 L236.23,356.17 L237.47,356.18 L238.71,356.19 L239.97,356.20 L241.23,356.21 L242.50,356.22 L243.78,356.24 L245.06,356.25 L246.36,356.26 L247.66,356.27 L248.98,356.29 L250.30,356.30 L251.63,356.31 L252.96,356.33 L254.31,356.34 L255.67,356.36 L257.03,356.37 L258.41,356.39 L259.79,356.40 L261.18,356.42 L262.58,356.43 L263.99,356.44 L265.41,356.46 L266.84,356.47 L268.28,356.49 L269.72,356.50 L271.18,356.51 L272.65,356.53 L274.12,356.54 L275.61,356.56 L277.10,356.57 L278.61,356.58 L280.12,356.60 L281.65,356.61 L283.18,356.62 L284.73,356.64 L286.28,356.65 L287.85,356.67 L289.42,356.68 L291.01,356.69 L292.60,356.71 L294.21,356.72 L295.83,356.74 L297.46,356.75 L299.09,356.77 L300.74,356.78 L302.40,356.80 L304.07,356.81 L305.76,356.83 L307.45,356.84 L309.15,356.86 L310.87,356.87 L312.59,356.89 L314.33,356.90 L316.08,356.92 L317.84,356.94 L319.61,356.95 L321.40,356.97 L323.19,356.98 L325.00,357.00" fill="none" stroke="#ff0000" stroke-width="1.9" stroke-linejoin="round"/>
<path d="M52.83,432.72 L52.95,430.89 L52.99,430.35 L53.02,429.81 L53.06,429.25 L53.10,428.70 L53.14,428.14 L53.17,427.57 L53.21,427.00 L53.25,426.43 L53.29,425.85 L53.33,425.27 L53.37,424.69 L53.40,424.10 L53.44,423.51 L53.48,422.92 L53.52,422.33 L53.56,421.73 L53.60,421.14 L53.64,420.54 L53.69,419.94 L53.73,419.35 L53.77,418.75 L53.81,418.15 L53.85,417.55 L53.89,416.95 L53.94,416.35 L53.98,415.75 L54.02,415.15 L54.07,414.55 L54.11,413.95 L54.15,413.35 L54.20,412.75 L54.24,412.15 L54.29,411.56 L54.33,410.96 L54.38,410.37 L54.42,409.77 L54.47,409.18 L54.52,408.59 L54.56,408.00 L54.61,407.41 L54.66,406.83 L54.70,406.24 L54.75,405.66 L54.80,405.07 L54.85,404.49 L54.90,403.91 L54.95,403.34 L55.00,402.76 L55.05,402.19 L55.10,401.61 L55.15,401.04 L55.20,400.48 L55.25,399.91 L55.30,399.35 L55.35,398.78 L55.40,398.22 L55.46,397.66 L55.51,397.11 L55.56,396.55 L55.62,396.00 L55.67,395.45 L55.72,394.90 L55.78,394.36 L55.83,393.82 L55.89,393.27 L55.94,392.73 L56.00,392.20 L56.06,391.66 L56.11,391.13 L56.17,390.60 L56.23,390.07 L56.29,389.55 L56.34,389.02 L56.40,388.50 L56.46,387.98 L56.52,387.47 L56.58,386.95 L56.64,386.44 L56.70,385.93 L56.76,385.43 L56.82,384.92 L56.88,384.42 L56.95,383.92 L57.01,383.42 L57.07,382.92 L57.14,382.43 L57.20,381.94 L57.26,381.45 L57.33,380.96 L57.39,380.48 L57.46,380.00 L57.52,379.52 L57.59,379.04 L57.66,378.57 L57.73,378.09 L57.79,377.62 L57.86,377.16 L57.93,376.69 L58.00,376.23 L58.07,375.76 L58.14,375.31 L58.21,374.85 L58.28,374.39 L58.35,373.94 L58.42,373.49 L58.49,373.04 L58.57,372.60 L58.64,372.16 L58.71,371.71 L58.79,371.28 L58.86,370.84 L58.94,370.40 L59.01,369.97 L59.09,369.54 L59.17,369.11 L59.24,368.69 L59.32,368.27 L59.40,367.84 L59.48,367.42 L59.56,367.01 L59.64,366.59 L59.72,366.18 L59.80,365.77 L59.88,365.36 L59.96,364.96 L60.04,364.55 L60.13,364.15 L60.21,363.75 L60.29,363.35 L60.38,362.96 L60.46,362.56 L60.55,362.17 L60.63,361.78 L60.72,361.39 L60.81,361.01 L60.90,360.62 L60.98,360.24 L61.07,359.86 L61.16,359.48 L61.25,359.11 L61.34,358.74 L61.43,358.36 L61.53,357.99 L61.62,357.63 L61.71,357.26 L61.81,356.90 L61.90,356.54 L62.00,356.18 L62.09,355.82 L62.19,355.46 L62.28,355.11 L62.38,354.76 L62.48,354.41 L62.58,354.06 L62.68,353.71 L62.78,353.37 L62.88,353.02 L62.98,352.68 L63.08,352.35 L63.19,352.01 L63.29,351.67 L63.39,351.34 L63.50,351.01 L63.60,350.68 L63.71,350.35 L63.82,350.02 L63.92,349.70 L64.03,349.38 L64.14,349.06 L64.25,348.74 L64.36,348.42 L64.47,348.10 L64.58,347.79 L64.70,347.48 L64.81,347.17 L64.92,346.86 L65.04,346.55 L65.15,346.25 L65.27,345.94 L65.39,345.64 L65.51,345.34 L65.62,345.04 L65.74,344.74 L65.86,344.45 L65.99,344.15 L66.11,343.86 L66.23,343.57 L66.35,343.28 L66.48,343.00 L66.60,342.71 L66.73,342.43 L66.85,342.14 L66.98,341.86 L67.11,341.58 L67.24,341.31 L67.37,341.03 L67.50,340.76 L67.63,340.48 L67.76,340.21 L67.90,339.94 L68.03,339.67 L68.17,339.41 L68.30,339.14 L68.44,338.88 L68.58,338.61 L68.72,338.35 L68.86,338.09 L69.00,337.84 L69.14,337.58 L69.28,337.32 L69.43,337.07 L69.57,336.82 L69.71,336.57 L69.86,336.32 L70.01,336.07 L70.16,335.82 L70.31,335.58 L70.46,335.33 L70.61,335.09 L70.76,334.85 L70.91,334.61 L71.07,334.37 L71.22,334.14 L71.38,333.90 L71.53,333.67 L71.69,333.43 L71.85,333.20 L72.01,332.97 L72.17,332.74 L72.33,332.52 L72.50,332.29 L72.66,332.07 L72.83,331.84 L72.99,331.62 L73.16,331.40 L73.33,331.18 L73.50,330.96 L73.67,330.74 L73.84,330.53 L74.02,330.31 L74.19,330.10 L74.37,329.89 L74.54,329.68 L74.72,329.47 L74.90,329.26 L75.08,329.05 L75.26,328.84 L75.45,328.64 L75.63,328.44 L75.81,328.23 L76.00,328.03 L76.19,327.83 L76.38,327.63 L76.57,327.44 L76.76,327.24 L76.95,327.04 L77.14,326.85 L77.34,326.66 L77.53,326.46 L77.73,326.27 L77.93,326.08 L78.13,325.89 L78.33,325.71 L78.53,325.52 L78.74,325.33 L78.94,325.15 L79.15,324.97 L79.36,324.78 L79.57,324.60 L79.78,324.42 L79.99,324.24 L80.20,324.07 L80.42,323.89 L80.64,323.71 L80.85,323.54 L81.07,323.37 L81.29,323.19 L81.52,323.02 L81.74,322.85 L81.96,322.68 L82.19,322.51 L82.42,322.34 L82.65,322.18 L82.88,322.01 L83.11,321.85 L83.35,321.68 L83.58,321.52 L83.82,321.36 L84.06,321.20 L84.30,321.04 L84.54,320.88 L84.78,320.72 L85.03,320.56 L85.27,320.41 L85.52,320.25 L85.77,320.10 L86.02,319.95 L86.28,319.79 L86.53,319.64 L86.79,319.49 L87.05,319.34 L87.30,319.19 L87.57,319.05 L87.83,318.90 L88.09,318.75 L88.36,318.61 L88.63,318.46 L88.90,318.32 L89.17,318.18 L89.45,318.04 L89.72,317.89 L90.00,317.75 L90.28,317.61 L90.56,317.48 L90.84,317.34 L91.13,317.20 L91.41,317.07 L91.70,316.93 L91.99,316.80 L92.28,316.66 L92.58,316.53 L92.87,316.40 L93.17,316.27 L93.47,316.14 L93.77,316.01 L94.08,315.88 L94.38,315.75 L94.69,315.63 L95.00,315.50 L95.31,315.37 L95.63,315.25 L95.94,315.12 L96.26,315.00 L96.58,314.88 L96.90,314.76 L97.23,314.64 L97.55,314.52 L97.88,314.40 L98.21,314.28 L98.55,314.16 L98.88,314.04 L99.22,313.93 L99.56,313.81 L99.90,313.69 L100.24,313.58 L100.59,313.47 L100.94,313.35 L101.29,313.24 L101.64,313.13 L102.00,313.02 L102.35,312.91 L102.71,312.80 L103.08,312.69 L103.44,312.58 L103.81,312.47 L104.18,312.36 L104.55,312.26 L104.93,312.15 L105.30,312.05 L105.68,311.94 L106.06,311.84 L106.45,311.74 L106.84,311.63 L107.22,311.53 L107.62,311.43 L108.01,311.33 L108.41,311.23 L108.81,311.13 L109.21,311.03 L109.62,310.93 L110.02,310.84 L110.43,310.74 L110.85,310.64 L111.26,310.55 L111.68,310.45 L112.10,310.36 L112.53,310.26 L112.95,310.17 L113.38,310.08 L113.81,309.98 L114.25,309.89 L114.69,309.80 L115.13,309.71 L115.57,309.62 L116.02,309.53 L116.47,309.44 L116.92,309.35 L117.38,309.27 L117.83,309.18 L118.30,309.09 L118.76,309.00 L119.23,308.92 L119.70,308.83 L120.17,308.75 L120.65,308.67 L121.13,308.58 L121.61,308.50 L122.10,308.42 L122.59,308.33 L123.08,308.25 L123.58,308.17 L124.08,308.09 L124.58,308.01 L125.08,307.93 L125.59,307.85 L126.11,307.77 L126.62,307.70 L127.14,307.62 L127.66,307.54 L128.19,307.46 L128.72,307.39 L129.25,307.31 L129.79,307.24 L130.33,307.16 L130.87,307.09 L131.42,307.02 L131.97,306.94 L132.52,306.87 L133.08,306.80 L133.64,306.72 L134.21,306.65 L134.77,306.58 L135.35,306.51 L135.92,306.44 L136.50,306.37 L137.09,306.30 L137.68,306.23 L138.27,306.17 L138.86,306.10 L139.46,306.03 L140.06,305.96 L140.67,305.90 L141.28,305.83 L141.90,305.76 L142.52,305.70 L143.14,305.63 L143.77,305.57 L144.40,305.50 L145.03,305.44 L145.67,305.38 L146.32,305.31 L146.97,305.25 L147.62,305.19 L148.28,305.13 L148.94,305.07 L149.60,305.00 L150.27,304.94 L150.95,304.88 L151.62,304.82 L152.31,304.76 L152.99,304.71 L153.69,304.65 L154.38,304.59 L155.08,304.53 L155.79,304.47 L156.50,304.41 L157.21,304.36 L157.93,304.30 L158.66,304.25 L159.39,304.19 L160.12,304.13 L160.86,304.08 L161.60,304.02 L162.35,303.97 L163.10,303.91 L163.86,303.86 L164.63,303.81 L165.39,303.75 L166.17,303.70 L166.94,303.65 L167.73,303.60 L168.52,303.55 L169.31,303.49 L170.11,303.44 L170.91,303.39 L171.72,303.34 L172.54,303.29 L173.36,303.24 L174.18,303.19 L175.01,303.14 L175.85,303.09 L176.69,303.04 L177.54,303.00 L178.39,302.95 L179.25,302.90 L180.11,302.85 L180.98,302.81 L181.86,302.76 L182.74,302.71 L183.63,302.67 L184.52,302.62 L185.42,302.58 L186.32,302.53 L187.23,302.48 L188.15,302.44 L189.07,302.40 L190.00,302.35 L190.93,302.31 L191.87,302.26 L192.82,302.22 L193.77,302.18 L194.73,302.13 L195.70,302.09 L196.67,302.05 L197.65,302.01 L198.63,301.97 L199.62,301.92 L200.62,301.88 L201.62,301.84 L202.63,301.80 L203.65,301.76 L204.67,301.72 L205.70,301.68 L206.74,301.64 L207.79,301.60 L208.84,301.56 L209.89,301.52 L210.96,301.49 L212.03,301.45 L213.11,301.41 L214.20,301.37 L215.29,301.33 L216.39,301.30 L217.50,301.26 L218.61,301.22 L219.73,301.18 L220.86,301.15 L222.00,301.11 L223.14,301.08 L224.29,301.04 L225.45,301.00 L226.62,300.97 L227.79,300.93 L228.98,300.90 L230.17,300.86 L231.36,300.83 L232.57,300.80 L233.78,300.76 L235.00,300.73 L236.23,300.69 L237.47,300.66 L238.71,300.63 L239.97,300.60 L241.23,300.56 L242.50,300.53 L243.78,300.50 L245.06,300.47 L246.36,300.43 L247.66,300.40 L248.98,300.37 L250.30,300.34 L251.63,300.31 L252.96,300.28 L254.31,300.25 L255.67,300.22 L257.03,300.19 L258.41,300.16 L259.79,300.13 L261.18,300.10 L262.58,300.07 L263.99,300.04 L265.41,300.01 L266.84,299.98 L268.28,299.95 L269.72,299.92 L271.18,299.89 L272.65,299.86 L274.12,299.84 L275.61,299.81 L277.10,299.78 L278.61,299.75 L280.12,299.73 L281.65,299.70 L283.18,299.67 L284.73,299.65 L286.28,299.62 L287.85,299.59 L289.42,299.57 L291.01,299.54 L292.60,299.51 L294.21,299.49 L295.83,299.46 L297.46,299.44 L299.09,299.41 L300.74,299.39 L302.40,299.36 L304.07,299.34 L305.76,299.31 L307.45,299.29 L309.15,299.26 L310.87,299.24 L312.59,299.21 L314.33,299.19 L316.08,299.17 L317.84,299.14 L319.61,299.12 L321.40,299.10 L323.19,299.07 L325.00,299.05" fill="none" stroke="#0000ff" stroke-width="1.9" stroke-linejoin="round" stroke-dasharray="2.65 1.65" stroke-dashoffset="0.63"/>
<path d="M431.06,305.85 L431.10,307.31 L431.14,308.74 L431.17,310.15 L431.21,311.52 L431.25,312.88 L431.29,314.20 L431.33,315.50 L431.37,316.78 L431.40,318.04 L431.44,319.27 L431.48,320.48 L431.52,321.67 L431.56,322.84 L431.60,323.99 L431.64,325.11 L431.69,326.22 L431.73,327.31 L431.77,328.38 L431.81,329.44 L431.85,330.47 L431.89,331.49 L431.94,332.50 L431.98,333.48 L432.02,334.45 L432.07,335.41 L432.11,336.34 L432.15,337.27 L432.20,338.18 L432.24,339.07 L432.29,339.96 L432.33,340.82 L432.38,341.68 L432.42,342.52 L432.47,343.35 L432.52,344.17 L432.56,344.97 L432.61,345.76 L432.66,346.55 L432.70,347.32 L432.75,348.07 L432.80,348.82 L432.85,349.56 L432.90,350.28 L432.95,351.00 L433.00,351.71 L433.05,352.40 L433.10,353.09 L433.15,353.77 L433.20,354.43 L433.25,355.09 L433.30,355.74 L433.35,356.38 L433.40,357.01 L433.46,357.64 L433.51,358.25 L433.56,358.86 L433.62,359.46 L433.67,360.05 L433.72,360.64 L433.78,361.21 L433.83,361.78 L433.89,362.34 L433.94,362.90 L434.00,363.44 L434.06,363.98 L434.11,364.52 L434.17,365.05 L434.23,365.57 L434.29,366.08 L434.34,366.59 L434.40,367.09 L434.46,367.59 L434.52,368.08 L434.58,368.56 L434.64,369.04 L434.70,369.51 L434.76,369.98 L434.82,370.44 L434.89,370.89 L434.95,371.35 L435.01,371.79 L435.07,372.23 L435.14,372.67 L435.20,373.10 L435.26,373.52 L435.33,373.94 L435.39,374.36 L435.46,374.77 L435.53,375.18 L435.59,375.58 L435.66,375.97 L435.73,376.37 L435.79,376.76 L435.86,377.14 L435.93,377.52 L436.00,377.90 L436.07,378.27 L436.14,378.64 L436.21,379.00 L436.28,379.36 L436.35,379.72 L436.42,380.07 L436.49,380.42 L436.57,380.77 L436.64,381.11 L436.71,381.45 L436.79,381.78 L436.86,382.11 L436.94,382.44 L437.01,382.77 L437.09,383.09 L437.17,383.41 L437.24,383.72 L437.32,384.03 L437.40,384.34 L437.48,384.65 L437.56,384.95 L437.64,385.25 L437.72,385.55 L437.80,385.84 L437.88,386.13 L437.96,386.42 L438.04,386.70 L438.13,386.99 L438.21,387.27 L438.29,387.54 L438.38,387.82 L438.46,388.09 L438.55,388.36 L438.63,388.63 L438.72,388.89 L438.81,389.15 L438.90,389.41 L438.98,389.67 L439.07,389.92 L439.16,390.17 L439.25,390.42 L439.34,390.67 L439.44,390.92 L439.53,391.16 L439.62,391.40 L439.71,391.64 L439.81,391.88 L439.90,392.11 L440.00,392.34 L440.09,392.57 L440.19,392.80 L440.28,393.03 L440.38,393.25 L440.48,393.47 L440.58,393.70 L440.68,393.91 L440.78,394.13 L440.88,394.34 L440.98,394.56 L441.08,394.77 L441.19,394.98 L441.29,395.19 L441.39,395.39 L441.50,395.59 L441.60,395.80 L441.71,396.00 L441.82,396.20 L441.92,396.39 L442.03,396.59 L442.14,396.78 L442.25,396.97 L442.36,397.17 L442.47,397.35 L442.58,397.54 L442.70,397.73 L442.81,397.91 L442.92,398.10 L443.04,398.28 L443.16,398.46 L443.27,398.64 L443.39,398.81 L443.51,398.99 L443.63,399.16 L443.74,399.34 L443.86,399.51 L443.99,399.68 L444.11,399.85 L444.23,400.01 L444.35,400.18 L444.48,400.35 L444.60,400.51 L444.73,400.67 L444.86,400.83 L444.98,400.99 L445.11,401.15 L445.24,401.31 L445.37,401.47 L445.50,401.62 L445.63,401.77 L445.77,401.93 L445.90,402.08 L446.03,402.23 L446.17,402.38 L446.30,402.53 L446.44,402.67 L446.58,402.82 L446.72,402.97 L446.86,403.11 L447.00,403.25 L447.14,403.39 L447.28,403.53 L447.43,403.67 L447.57,403.81 L447.72,403.95 L447.86,404.09 L448.01,404.22 L448.16,404.36 L448.31,404.49 L448.46,404.62 L448.61,404.76 L448.76,404.89 L448.91,405.02 L449.07,405.15 L449.22,405.27 L449.38,405.40 L449.53,405.53 L449.69,405.65 L449.85,405.78 L450.01,405.90 L450.17,406.03 L450.34,406.15 L450.50,406.27 L450.66,406.39 L450.83,406.51 L451.00,406.63 L451.16,406.75 L451.33,406.86 L451.50,406.98 L451.67,407.09 L451.85,407.21 L452.02,407.32 L452.19,407.44 L452.37,407.55 L452.55,407.66 L452.72,407.77 L452.90,407.88 L453.08,407.99 L453.26,408.10 L453.45,408.21 L453.63,408.32 L453.81,408.42 L454.00,408.53 L454.19,408.63 L454.38,408.74 L454.57,408.84 L454.76,408.95 L454.95,409.05 L455.14,409.15 L455.34,409.25 L455.54,409.35 L455.73,409.45 L455.93,409.55 L456.13,409.65 L456.33,409.75 L456.54,409.85 L456.74,409.94 L456.94,410.04 L457.15,410.13 L457.36,410.23 L457.57,410.32 L457.78,410.42 L457.99,410.51 L458.21,410.60 L458.42,410.70 L458.64,410.79 L458.85,410.88 L459.07,410.97 L459.29,411.06 L459.52,411.15 L459.74,411.24 L459.97,411.33 L460.19,411.41 L460.42,411.50 L460.65,411.59 L460.88,411.67 L461.11,411.76 L461.35,411.85 L461.58,411.93 L461.82,412.01 L462.06,412.10 L462.30,412.18 L462.54,412.26 L462.78,412.35 L463.03,412.43 L463.27,412.51 L463.52,412.59 L463.77,412.67 L464.02,412.75 L464.28,412.83 L464.53,412.91 L464.79,412.99 L465.05,413.06 L465.31,413.14 L465.57,413.22 L465.83,413.30 L466.10,413.37 L466.36,413.45 L466.63,413.52 L466.90,413.60 L467.17,413.67 L467.45,413.75 L467.72,413.82 L468.00,413.89 L468.28,413.97 L468.56,414.04 L468.84,414.11 L469.13,414.18 L469.41,414.26 L469.70,414.33 L469.99,414.40 L470.28,414.47 L470.58,414.54 L470.87,414.61 L471.17,414.67 L471.47,414.74 L471.77,414.81 L472.08,414.88 L472.38,414.95 L472.69,415.01 L473.00,415.08 L473.31,415.15 L473.63,415.21 L473.94,415.28 L474.26,415.34 L474.58,415.41 L474.90,415.47 L475.23,415.54 L475.55,415.60 L475.88,415.67 L476.21,415.73 L476.55,415.79 L476.88,415.86 L477.22,415.92 L477.56,415.98 L477.90,416.04 L478.24,416.10 L478.59,416.16 L478.94,416.23 L479.29,416.29 L479.64,416.35 L480.00,416.41 L480.36,416.47 L480.72,416.52 L481.08,416.58 L481.44,416.64 L481.81,416.70 L482.18,416.76 L482.55,416.82 L482.93,416.87 L483.30,416.93 L483.68,416.99 L484.07,417.04 L484.45,417.10 L484.84,417.16 L485.23,417.21 L485.62,417.27 L486.01,417.32 L486.41,417.38 L486.81,417.43 L487.21,417.49 L487.62,417.54 L488.02,417.60 L488.43,417.65 L488.85,417.70 L489.26,417.76 L489.68,417.81 L490.10,417.86 L490.53,417.91 L490.95,417.97 L491.38,418.02 L491.82,418.07 L492.25,418.12 L492.69,418.17 L493.13,418.22 L493.57,418.27 L494.02,418.32 L494.47,418.37 L494.92,418.42 L495.38,418.47 L495.84,418.52 L496.30,418.57 L496.76,418.62 L497.23,418.67 L497.70,418.72 L498.17,418.77 L498.65,418.82 L499.13,418.86 L499.61,418.91 L500.10,418.96 L500.59,419.01 L501.08,419.05 L501.58,419.10 L502.08,419.15 L502.58,419.19 L503.09,419.24 L503.60,419.28 L504.11,419.33 L504.62,419.38 L505.14,419.42 L505.66,419.47 L506.19,419.51 L506.72,419.56 L507.25,419.60 L507.79,419.65 L508.33,419.69 L508.87,419.73 L509.42,419.78 L509.97,419.82 L510.52,419.86 L511.08,419.91 L511.64,419.95 L512.21,419.99 L512.78,420.04 L513.35,420.08 L513.93,420.12 L514.51,420.16 L515.09,420.20 L515.68,420.25 L516.27,420.29 L516.86,420.33 L517.46,420.37 L518.07,420.41 L518.67,420.45 L519.29,420.49 L519.90,420.53 L520.52,420.57 L521.14,420.61 L521.77,420.65 L522.40,420.69 L523.04,420.73 L523.68,420.77 L524.32,420.81 L524.97,420.85 L525.62,420.89 L526.28,420.93 L526.94,420.97 L527.60,421.01 L528.27,421.04 L528.95,421.08 L529.63,421.12 L530.31,421.16 L531.00,421.20 L531.69,421.23 L532.39,421.27 L533.09,421.31 L533.79,421.35 L534.50,421.38 L535.22,421.42 L535.94,421.46 L536.66,421.49 L537.39,421.53 L538.12,421.57 L538.86,421.60 L539.61,421.64 L540.35,421.67 L541.11,421.71 L541.87,421.74 L542.63,421.78 L543.40,421.82 L544.17,421.85 L544.95,421.89 L545.73,421.92 L546.52,421.96 L547.31,421.99 L548.11,422.02 L548.92,422.06 L549.73,422.09 L550.54,422.13 L551.36,422.16 L552.19,422.19 L553.02,422.23 L553.85,422.26 L554.69,422.29 L555.54,422.33 L556.39,422.36 L557.25,422.39 L558.12,422.43 L558.99,422.46 L559.86,422.49 L560.74,422.52 L561.63,422.56 L562.52,422.59 L563.42,422.62 L564.32,422.65 L565.23,422.69 L566.15,422.72 L567.07,422.75 L568.00,422.78 L568.94,422.81 L569.88,422.84 L570.82,422.87 L571.78,422.91 L572.73,422.94 L573.70,422.97 L574.67,423.00 L575.65,423.03 L576.63,423.06 L577.63,423.09 L578.62,423.12 L579.63,423.15 L580.64,423.18 L581.65,423.21 L582.68,423.24 L583.71,423.27 L584.75,423.30 L585.79,423.33 L586.84,423.36 L587.90,423.39 L588.96,423.42 L590.04,423.45 L591.11,423.47 L592.20,423.50 L593.29,423.53 L594.39,423.56 L595.50,423.59 L596.61,423.62 L597.74,423.65 L598.87,423.67 L600.00,423.70 L601.15,423.73 L602.30,423.76 L603.46,423.79 L604.62,423.81 L605.80,423.84 L606.98,423.87 L608.17,423.90 L609.37,423.92 L610.57,423.95 L611.79,423.98 L613.01,424.01 L614.24,424.03 L615.47,424.06 L616.72,424.09 L617.97,424.11 L619.23,424.14 L620.50,424.17 L621.78,424.19 L623.07,424.22 L624.37,424.25 L625.67,424.27 L626.98,424.30 L628.30,424.32 L629.63,424.35 L630.97,424.38 L632.32,424.40 L633.67,424.43 L635.04,424.45 L636.41,424.48 L637.79,424.50 L639.18,424.53 L640.59,424.55 L642.00,424.58 L643.41,424.60 L644.84,424.63 L646.28,424.65 L647.73,424.68 L649.19,424.70 L650.65,424.73 L652.13,424.75 L653.61,424.78 L655.11,424.80 L656.61,424.83 L658.13,424.85 L659.65,424.88 L661.19,424.90 L662.73,424.92 L664.29,424.95 L665.85,424.97 L667.43,425.00 L669.01,425.02 L670.61,425.04 L672.22,425.07 L673.84,425.09 L675.46,425.11 L677.10,425.14 L678.75,425.16 L680.41,425.18 L682.08,425.21 L683.76,425.23 L685.46,425.25 L687.16,425.28 L688.88,425.30 L690.60,425.32 L692.34,425.34 L694.09,425.37 L695.85,425.39 L697.62,425.41 L699.40,425.43 L701.20,425.46 L703.01,425.48 L704.83,425.50 L706.66,425.52 L708.50,425.54" fill="none" stroke="#000" stroke-width="1.9" stroke-linejoin="round" stroke-dasharray="2.7 1.6 5.4 1.6" stroke-dashoffset="6.06"/>
<path d="M431.06,301.17 L431.10,304.84 L431.14,308.39 L431.17,311.83 L431.21,315.16 L431.25,318.38 L431.29,321.51 L431.33,324.53 L431.37,327.46 L431.40,330.30 L431.44,333.05 L431.48,335.72 L431.52,338.31 L431.56,340.82 L431.60,343.26 L431.64,345.62 L431.69,347.92 L431.73,350.14 L431.77,352.31 L431.81,354.41 L431.85,356.45 L431.89,358.43 L431.94,360.35 L431.98,362.22 L432.02,364.04 L432.07,365.81 L432.11,367.53 L432.15,369.20 L432.20,370.83 L432.24,372.41 L432.29,373.95 L432.33,375.44 L432.38,376.90 L432.42,378.32 L432.47,379.70 L432.52,381.05 L432.56,382.35 L432.61,383.63 L432.66,384.87 L432.70,386.08 L432.75,387.26 L432.80,388.41 L432.85,389.53 L432.90,390.62 L432.95,391.68 L433.00,392.72 L433.05,393.73 L433.10,394.72 L433.15,395.68 L433.20,396.62 L433.25,397.53 L433.30,398.42 L433.35,399.29 L433.40,400.14 L433.46,400.97 L433.51,401.78 L433.56,402.57 L433.62,403.34 L433.67,404.10 L433.72,404.83 L433.78,405.55 L433.83,406.25 L433.89,406.94 L433.94,407.61 L434.00,408.26 L434.06,408.90 L434.11,409.52 L434.17,410.13 L434.23,410.73 L434.29,411.31 L434.34,411.88 L434.40,412.44 L434.46,412.98 L434.52,413.51 L434.58,414.03 L434.64,414.54 L434.70,415.04 L434.76,415.53 L434.82,416.00 L434.89,416.47 L434.95,416.93 L435.01,417.37 L435.07,417.81 L435.14,418.23 L435.20,418.65 L435.26,419.06 L435.33,419.46 L435.39,419.85 L435.46,420.23 L435.53,420.61 L435.59,420.98 L435.66,421.34 L435.73,421.69 L435.79,422.03 L435.86,422.37 L435.93,422.70 L436.00,423.03 L436.07,423.34 L436.14,423.65 L436.21,423.96 L436.28,424.26 L436.35,424.55 L436.42,424.83 L436.49,425.11 L436.57,425.39 L436.64,425.66 L436.71,425.92 L436.79,426.18 L436.86,426.43 L436.94,426.68 L437.01,426.93 L437.09,427.16 L437.17,427.40 L437.24,427.63 L437.32,427.85 L437.40,428.07 L437.48,428.29 L437.56,428.50 L437.64,428.71 L437.72,428.91 L437.80,429.11 L437.88,429.31 L437.96,429.50 L438.04,429.69 L438.13,429.88 L438.21,430.06 L438.29,430.24 L438.38,430.41 L438.46,430.58 L438.55,430.75 L438.63,430.92 L438.72,431.08 L438.81,431.24 L438.90,431.39 L438.98,431.55 L439.07,431.70 L439.16,431.84 L439.25,431.99 L439.34,432.13 L439.44,432.27 L439.53,432.41 L439.62,432.54 L439.71,432.67 L439.81,432.80 L439.90,432.93 L440.00,433.06 L440.09,433.18 L440.19,433.30 L440.28,433.42 L440.38,433.53 L440.48,433.65 L440.58,433.76 L440.68,433.87 L440.78,433.98 L440.88,434.08 L440.98,434.19 L441.08,434.29 L441.19,434.39 L441.29,434.49 L441.39,434.59 L441.50,434.68 L441.60,434.78 L441.71,434.87 L441.82,434.96 L441.92,435.05 L442.03,435.14 L442.14,435.22 L442.25,435.31 L442.36,435.39 L442.47,435.47 L442.58,435.55 L442.70,435.63 L442.81,435.71 L442.92,435.78 L443.04,435.86 L443.16,435.93 L443.27,436.00 L443.39,436.07 L443.51,436.14 L443.63,436.21 L443.74,436.28 L443.86,436.34 L443.99,436.41 L444.11,436.47 L444.23,436.54 L444.35,436.60 L444.48,436.66 L444.60,436.72 L444.73,436.78 L444.86,436.84 L444.98,436.89 L445.11,436.95 L445.24,437.00 L445.37,437.06 L445.50,437.11 L445.63,437.16 L445.77,437.21 L445.90,437.26 L446.03,437.31 L446.17,437.36 L446.30,437.41 L446.44,437.46 L446.58,437.50 L446.72,437.55 L446.86,437.60 L447.00,437.64 L447.14,437.68 L447.28,437.73 L447.43,437.77 L447.57,437.81 L447.72,437.85 L447.86,437.89 L448.01,437.93 L448.16,437.97 L448.31,438.01 L448.46,438.04 L448.61,438.08 L448.76,438.12 L448.91,438.15 L449.07,438.19 L449.22,438.22 L449.38,438.26 L449.53,438.29 L449.69,438.33 L449.85,438.36 L450.01,438.39 L450.17,438.42 L450.34,438.45 L450.50,438.48 L450.66,438.51 L450.83,438.54 L451.00,438.57 L451.16,438.60 L451.33,438.63 L451.50,438.66 L451.67,438.68 L451.85,438.71 L452.02,438.74 L452.19,438.76 L452.37,438.79 L452.55,438.81 L452.72,438.84 L452.90,438.86 L453.08,438.89 L453.26,438.91 L453.45,438.93 L453.63,438.96 L453.81,438.98 L454.00,439.00 L454.19,439.02 L454.38,439.05 L454.57,439.07 L454.76,439.09 L454.95,439.11 L455.14,439.13 L455.34,439.15 L455.54,439.17 L455.73,439.19 L455.93,439.21 L456.13,439.23 L456.33,439.24 L456.54,439.26 L456.74,439.28 L456.94,439.30 L457.15,439.32 L457.36,439.33 L457.57,439.35 L457.78,439.37 L457.99,439.38 L458.21,439.40 L458.42,439.41 L458.64,439.43 L458.85,439.45 L459.07,439.46 L459.29,439.48 L459.52,439.49 L459.74,439.50 L459.97,439.52 L460.19,439.53 L460.42,439.55 L460.65,439.56 L460.88,439.57 L461.11,439.59 L461.35,439.60 L461.58,439.61 L461.82,439.63 L462.06,439.64 L462.30,439.65 L462.54,439.66 L462.78,439.67 L463.03,439.69 L463.27,439.70 L463.52,439.71 L463.77,439.72 L464.02,439.73 L464.28,439.74 L464.53,439.75 L464.79,439.76 L465.05,439.77 L465.31,439.78 L465.57,439.79 L465.83,439.80 L466.10,439.81 L466.36,439.82 L466.63,439.83 L466.90,439.84 L467.17,439.85 L467.45,439.86 L467.72,439.87 L468.00,439.88 L468.28,439.89 L468.56,439.90 L468.84,439.91 L469.13,439.91 L469.41,439.92 L469.70,439.93 L469.99,439.94 L470.28,439.95 L470.58,439.95 L470.87,439.96 L471.17,439.97 L471.47,439.98 L471.77,439.98 L472.08,439.99 L472.38,440.00 L472.69,440.00 L473.00,440.01 L473.31,440.02 L473.63,440.03 L473.94,440.03 L474.26,440.04 L474.58,440.04 L474.90,440.05 L475.23,440.06 L475.55,440.06 L475.88,440.07 L476.21,440.08 L476.55,440.08 L476.88,440.09 L477.22,440.09 L477.56,440.10 L477.90,440.10 L478.24,440.11 L478.59,440.12 L478.94,440.12 L479.29,440.13 L479.64,440.13 L480.00,440.14 L480.36,440.14 L480.72,440.15 L481.08,440.15 L481.44,440.16 L481.81,440.16 L482.18,440.17 L482.55,440.17 L482.93,440.17 L483.30,440.18 L483.68,440.18 L484.07,440.19 L484.45,440.19 L484.84,440.20 L485.23,440.20 L485.62,440.20 L486.01,440.21 L486.41,440.21 L486.81,440.22 L487.21,440.22 L487.62,440.22 L488.02,440.23 L488.43,440.23 L488.85,440.24 L489.26,440.24 L489.68,440.24 L490.10,440.25 L490.53,440.25 L490.95,440.25 L491.38,440.26 L491.82,440.26 L492.25,440.26 L492.69,440.27 L493.13,440.27 L493.57,440.27 L494.02,440.28 L494.47,440.28 L494.92,440.28 L495.38,440.28 L495.84,440.29 L496.30,440.29 L496.76,440.29 L497.23,440.30 L497.70,440.30 L498.17,440.30 L498.65,440.30 L499.13,440.31 L499.61,440.31 L500.10,440.31 L500.59,440.31 L501.08,440.32 L501.58,440.32 L502.08,440.32 L502.58,440.32 L503.09,440.33 L503.60,440.33 L504.11,440.33 L504.62,440.33 L505.14,440.34 L505.66,440.34 L506.19,440.34 L506.72,440.34 L507.25,440.35 L507.79,440.35 L508.33,440.35 L508.87,440.35 L509.42,440.35 L509.97,440.36 L510.52,440.36 L511.08,440.36 L511.64,440.36 L512.21,440.36 L512.78,440.36 L513.35,440.37 L513.93,440.37 L514.51,440.37 L515.09,440.37 L515.68,440.37 L516.27,440.38 L516.86,440.38 L517.46,440.38 L518.07,440.38 L518.67,440.38 L519.29,440.38 L519.90,440.39 L520.52,440.39 L521.14,440.39 L521.77,440.39 L522.40,440.39 L523.04,440.39 L523.68,440.39 L524.32,440.40 L524.97,440.40 L525.62,440.40 L526.28,440.40 L526.94,440.40 L527.60,440.40 L528.27,440.40 L528.95,440.40 L529.63,440.41 L530.31,440.41 L531.00,440.41 L531.69,440.41 L532.39,440.41 L533.09,440.41 L533.79,440.41 L534.50,440.41 L535.22,440.42 L535.94,440.42 L536.66,440.42 L537.39,440.42 L538.12,440.42 L538.86,440.42 L539.61,440.42 L540.35,440.42 L541.11,440.42 L541.87,440.43 L542.63,440.43 L543.40,440.43 L544.17,440.43 L544.95,440.43 L545.73,440.43 L546.52,440.43 L547.31,440.43 L548.11,440.43 L548.92,440.43 L549.73,440.43 L550.54,440.44 L551.36,440.44 L552.19,440.44 L553.02,440.44 L553.85,440.44 L554.69,440.44 L555.54,440.44 L556.39,440.44 L557.25,440.44 L558.12,440.44 L558.99,440.44 L559.86,440.44 L560.74,440.45 L561.63,440.45 L562.52,440.45 L563.42,440.45 L564.32,440.45 L565.23,440.45 L566.15,440.45 L567.07,440.45 L568.00,440.45 L568.94,440.45 L569.88,440.45 L570.82,440.45 L571.78,440.45 L572.73,440.45 L573.70,440.45 L574.67,440.46 L575.65,440.46 L576.63,440.46 L577.63,440.46 L578.62,440.46 L579.63,440.46 L580.64,440.46 L581.65,440.46 L582.68,440.46 L583.71,440.46 L584.75,440.46 L585.79,440.46 L586.84,440.46 L587.90,440.46 L588.96,440.46 L590.04,440.46 L591.11,440.46 L592.20,440.46 L593.29,440.46 L594.39,440.47 L595.50,440.47 L596.61,440.47 L597.74,440.47 L598.87,440.47 L600.00,440.47 L601.15,440.47 L602.30,440.47 L603.46,440.47 L604.62,440.47 L605.80,440.47 L606.98,440.47 L608.17,440.47 L609.37,440.47 L610.57,440.47 L611.79,440.47 L613.01,440.47 L614.24,440.47 L615.47,440.47 L616.72,440.47 L617.97,440.47 L619.23,440.47 L620.50,440.47 L621.78,440.47 L623.07,440.47 L624.37,440.48 L625.67,440.48 L626.98,440.48 L628.30,440.48 L629.63,440.48 L630.97,440.48 L632.32,440.48 L633.67,440.48 L635.04,440.48 L636.41,440.48 L637.79,440.48 L639.18,440.48 L640.59,440.48 L642.00,440.48 L643.41,440.48 L644.84,440.48 L646.28,440.48 L647.73,440.48 L649.19,440.48 L650.65,440.48 L652.13,440.48 L653.61,440.48 L655.11,440.48 L656.61,440.48 L658.13,440.48 L659.65,440.48 L661.19,440.48 L662.73,440.48 L664.29,440.48 L665.85,440.48 L667.43,440.48 L669.01,440.48 L670.61,440.48 L672.22,440.48 L673.84,440.48 L675.46,440.48 L677.10,440.48 L678.75,440.48 L680.41,440.48 L682.08,440.49 L683.76,440.49 L685.46,440.49 L687.16,440.49 L688.88,440.49 L690.60,440.49 L692.34,440.49 L694.09,440.49 L695.85,440.49 L697.62,440.49 L699.40,440.49 L701.20,440.49 L703.01,440.49 L704.83,440.49 L706.66,440.49 L708.50,440.49" fill="none" stroke="#00fc00" stroke-width="1.9" stroke-linejoin="round" stroke-dasharray="5.7 1.25" stroke-dashoffset="5.67"/>
<path d="M431.06,269.10 L431.10,270.62 L431.14,272.12 L431.17,273.61 L431.21,275.09 L431.25,276.55 L431.29,278.00 L431.33,279.43 L431.37,280.84 L431.40,282.23 L431.44,283.61 L431.48,284.97 L431.52,286.31 L431.56,287.63 L431.60,288.92 L431.64,290.20 L431.69,291.45 L431.73,292.67 L431.77,293.88 L431.81,295.06 L431.85,296.21 L431.89,297.33 L431.94,298.43 L431.98,299.50 L432.02,300.55 L432.07,301.59 L432.11,302.62 L432.15,303.64 L432.20,304.65 L432.24,305.66 L432.29,306.65 L432.33,307.63 L432.38,308.61 L432.42,309.57 L432.47,310.52 L432.52,311.45 L432.56,312.37 L432.61,313.27 L432.66,314.16 L432.70,315.04 L432.75,315.89 L432.80,316.73 L432.85,317.55 L432.90,318.35 L432.95,319.13 L433.00,319.89 L433.05,320.63 L433.10,321.35 L433.15,322.04 L433.20,322.71 L433.25,323.36 L433.30,323.98 L433.35,324.57 L433.40,325.14 L433.46,325.69 L433.51,326.22 L433.56,326.74 L433.62,327.25 L433.67,327.74 L433.72,328.22 L433.78,328.69 L433.83,329.15 L433.89,329.60 L433.94,330.03 L434.00,330.46 L434.06,330.88 L434.11,331.29 L434.17,331.69 L434.23,332.09 L434.29,332.47 L434.34,332.85 L434.40,333.23 L434.46,333.60 L434.52,333.97 L434.58,334.33 L434.64,334.69 L434.70,335.04 L434.76,335.40 L434.82,335.75 L434.89,336.10 L434.95,336.45 L435.01,336.80 L435.07,337.15 L435.14,337.50 L435.20,337.85 L435.26,338.20 L435.33,338.56 L435.39,338.92 L435.46,339.28 L435.53,339.65 L435.59,340.02 L435.66,340.40 L435.73,340.78 L435.79,341.17 L435.86,341.57 L435.93,341.98 L436.00,342.39 L436.07,342.80 L436.14,343.22 L436.21,343.65 L436.28,344.08 L436.35,344.51 L436.42,344.94 L436.49,345.38 L436.57,345.82 L436.64,346.25 L436.71,346.69 L436.79,347.13 L436.86,347.57 L436.94,348.01 L437.01,348.44 L437.09,348.88 L437.17,349.31 L437.24,349.74 L437.32,350.16 L437.40,350.58 L437.48,351.00 L437.56,351.41 L437.64,351.81 L437.72,352.21 L437.80,352.60 L437.88,352.99 L437.96,353.36 L438.04,353.73 L438.13,354.09 L438.21,354.44 L438.29,354.78 L438.38,355.11 L438.46,355.44 L438.55,355.75 L438.63,356.07 L438.72,356.38 L438.81,356.69 L438.90,356.99 L438.98,357.29 L439.07,357.59 L439.16,357.88 L439.25,358.17 L439.34,358.46 L439.44,358.74 L439.53,359.02 L439.62,359.30 L439.71,359.57 L439.81,359.84 L439.90,360.11 L440.00,360.37 L440.09,360.63 L440.19,360.89 L440.28,361.15 L440.38,361.40 L440.48,361.65 L440.58,361.90 L440.68,362.14 L440.78,362.38 L440.88,362.62 L440.98,362.85 L441.08,363.08 L441.19,363.31 L441.29,363.54 L441.39,363.76 L441.50,363.99 L441.60,364.20 L441.71,364.42 L441.82,364.63 L441.92,364.84 L442.03,365.05 L442.14,365.26 L442.25,365.46 L442.36,365.67 L442.47,365.86 L442.58,366.06 L442.70,366.26 L442.81,366.45 L442.92,366.64 L443.04,366.83 L443.16,367.02 L443.27,367.20 L443.39,367.39 L443.51,367.57 L443.63,367.75 L443.74,367.93 L443.86,368.10 L443.99,368.28 L444.11,368.45 L444.23,368.63 L444.35,368.80 L444.48,368.97 L444.60,369.14 L444.73,369.30 L444.86,369.47 L444.98,369.63 L445.11,369.80 L445.24,369.96 L445.37,370.12 L445.50,370.29 L445.63,370.45 L445.77,370.61 L445.90,370.77 L446.03,370.92 L446.17,371.08 L446.30,371.24 L446.44,371.40 L446.58,371.55 L446.72,371.71 L446.86,371.86 L447.00,372.02 L447.14,372.17 L447.28,372.33 L447.43,372.48 L447.57,372.63 L447.72,372.79 L447.86,372.94 L448.01,373.09 L448.16,373.24 L448.31,373.39 L448.46,373.53 L448.61,373.68 L448.76,373.83 L448.91,373.97 L449.07,374.12 L449.22,374.26 L449.38,374.41 L449.53,374.55 L449.69,374.69 L449.85,374.83 L450.01,374.97 L450.17,375.11 L450.34,375.25 L450.50,375.39 L450.66,375.52 L450.83,375.66 L451.00,375.79 L451.16,375.93 L451.33,376.06 L451.50,376.19 L451.67,376.32 L451.85,376.45 L452.02,376.58 L452.19,376.71 L452.37,376.83 L452.55,376.96 L452.72,377.08 L452.90,377.20 L453.08,377.33 L453.26,377.45 L453.45,377.57 L453.63,377.68 L453.81,377.80 L454.00,377.92 L454.19,378.03 L454.38,378.15 L454.57,378.26 L454.76,378.38 L454.95,378.49 L455.14,378.60 L455.34,378.71 L455.54,378.82 L455.73,378.93 L455.93,379.04 L456.13,379.15 L456.33,379.26 L456.54,379.37 L456.74,379.47 L456.94,379.58 L457.15,379.68 L457.36,379.79 L457.57,379.89 L457.78,379.99 L457.99,380.09 L458.21,380.19 L458.42,380.29 L458.64,380.39 L458.85,380.49 L459.07,380.59 L459.29,380.69 L459.52,380.78 L459.74,380.88 L459.97,380.97 L460.19,381.07 L460.42,381.16 L460.65,381.25 L460.88,381.35 L461.11,381.44 L461.35,381.53 L461.58,381.62 L461.82,381.71 L462.06,381.80 L462.30,381.88 L462.54,381.97 L462.78,382.05 L463.03,382.14 L463.27,382.22 L463.52,382.31 L463.77,382.39 L464.02,382.47 L464.28,382.55 L464.53,382.63 L464.79,382.71 L465.05,382.79 L465.31,382.87 L465.57,382.94 L465.83,383.02 L466.10,383.10 L466.36,383.17 L466.63,383.25 L466.90,383.33 L467.17,383.40 L467.45,383.48 L467.72,383.55 L468.00,383.63 L468.28,383.70 L468.56,383.78 L468.84,383.85 L469.13,383.92 L469.41,384.00 L469.70,384.07 L469.99,384.15 L470.28,384.22 L470.58,384.30 L470.87,384.37 L471.17,384.44 L471.47,384.52 L471.77,384.59 L472.08,384.67 L472.38,384.74 L472.69,384.82 L473.00,384.89 L473.31,384.96 L473.63,385.04 L473.94,385.11 L474.26,385.19 L474.58,385.26 L474.90,385.33 L475.23,385.41 L475.55,385.48 L475.88,385.55 L476.21,385.63 L476.55,385.70 L476.88,385.77 L477.22,385.84 L477.56,385.91 L477.90,385.99 L478.24,386.06 L478.59,386.13 L478.94,386.20 L479.29,386.27 L479.64,386.34 L480.00,386.41 L480.36,386.48 L480.72,386.55 L481.08,386.61 L481.44,386.68 L481.81,386.75 L482.18,386.82 L482.55,386.88 L482.93,386.95 L483.30,387.02 L483.68,387.08 L484.07,387.15 L484.45,387.21 L484.84,387.27 L485.23,387.34 L485.62,387.40 L486.01,387.46 L486.41,387.53 L486.81,387.59 L487.21,387.65 L487.62,387.71 L488.02,387.77 L488.43,387.83 L488.85,387.89 L489.26,387.95 L489.68,388.01 L490.10,388.07 L490.53,388.12 L490.95,388.18 L491.38,388.24 L491.82,388.30 L492.25,388.36 L492.69,388.41 L493.13,388.47 L493.57,388.53 L494.02,388.58 L494.47,388.64 L494.92,388.69 L495.38,388.75 L495.84,388.80 L496.30,388.86 L496.76,388.91 L497.23,388.96 L497.70,389.01 L498.17,389.07 L498.65,389.12 L499.13,389.17 L499.61,389.22 L500.10,389.27 L500.59,389.31 L501.08,389.36 L501.58,389.41 L502.08,389.46 L502.58,389.50 L503.09,389.55 L503.60,389.59 L504.11,389.63 L504.62,389.68 L505.14,389.72 L505.66,389.76 L506.19,389.80 L506.72,389.84 L507.25,389.88 L507.79,389.92 L508.33,389.96 L508.87,390.00 L509.42,390.04 L509.97,390.07 L510.52,390.11 L511.08,390.15 L511.64,390.19 L512.21,390.22 L512.78,390.26 L513.35,390.29 L513.93,390.33 L514.51,390.36 L515.09,390.40 L515.68,390.43 L516.27,390.47 L516.86,390.50 L517.46,390.54 L518.07,390.57 L518.67,390.60 L519.29,390.64 L519.90,390.67 L520.52,390.71 L521.14,390.74 L521.77,390.77 L522.40,390.81 L523.04,390.84 L523.68,390.87 L524.32,390.91 L524.97,390.94 L525.62,390.97 L526.28,391.01 L526.94,391.04 L527.60,391.07 L528.27,391.10 L528.95,391.13 L529.63,391.16 L530.31,391.20 L531.00,391.23 L531.69,391.26 L532.39,391.29 L533.09,391.32 L533.79,391.35 L534.50,391.38 L535.22,391.41 L535.94,391.44 L536.66,391.47 L537.39,391.51 L538.12,391.54 L538.86,391.57 L539.61,391.60 L540.35,391.63 L541.11,391.66 L541.87,391.69 L542.63,391.72 L543.40,391.75 L544.17,391.78 L544.95,391.81 L545.73,391.84 L546.52,391.87 L547.31,391.90 L548.11,391.93 L548.92,391.96 L549.73,391.99 L550.54,392.02 L551.36,392.05 L552.19,392.08 L553.02,392.11 L553.85,392.14 L554.69,392.18 L555.54,392.21 L556.39,392.24 L557.25,392.27 L558.12,392.30 L558.99,392.33 L559.86,392.36 L560.74,392.39 L561.63,392.42 L562.52,392.45 L563.42,392.48 L564.32,392.51 L565.23,392.54 L566.15,392.57 L567.07,392.59 L568.00,392.62 L568.94,392.65 L569.88,392.68 L570.82,392.71 L571.78,392.74 L572.73,392.77 L573.70,392.80 L574.67,392.83 L575.65,392.86 L576.63,392.89 L577.63,392.91 L578.62,392.94 L579.63,392.97 L580.64,393.00 L581.65,393.03 L582.68,393.05 L583.71,393.08 L584.75,393.11 L585.79,393.14 L586.84,393.17 L587.90,393.19 L588.96,393.22 L590.04,393.25 L591.11,393.27 L592.20,393.30 L593.29,393.33 L594.39,393.36 L595.50,393.38 L596.61,393.41 L597.74,393.44 L598.87,393.47 L600.00,393.49 L601.15,393.52 L602.30,393.55 L603.46,393.57 L604.62,393.60 L605.80,393.63 L606.98,393.66 L608.17,393.68 L609.37,393.71 L610.57,393.73 L611.79,393.76 L613.01,393.79 L614.24,393.81 L615.47,393.84 L616.72,393.86 L617.97,393.89 L619.23,393.91 L620.50,393.94 L621.78,393.96 L623.07,393.98 L624.37,394.01 L625.67,394.03 L626.98,394.05 L628.30,394.08 L629.63,394.10 L630.97,394.12 L632.32,394.14 L633.67,394.16 L635.04,394.18 L636.41,394.20 L637.79,394.22 L639.18,394.24 L640.59,394.26 L642.00,394.28 L643.41,394.30 L644.84,394.31 L646.28,394.33 L647.73,394.35 L649.19,394.37 L650.65,394.39 L652.13,394.41 L653.61,394.42 L655.11,394.44 L656.61,394.46 L658.13,394.48 L659.65,394.49 L661.19,394.51 L662.73,394.53 L664.29,394.54 L665.85,394.56 L667.43,394.58 L669.01,394.59 L670.61,394.61 L672.22,394.62 L673.84,394.64 L675.46,394.65 L677.10,394.67 L678.75,394.68 L680.41,394.70 L682.08,394.71 L683.76,394.73 L685.46,394.74 L687.16,394.76 L688.88,394.77 L690.60,394.78 L692.34,394.79 L694.09,394.81 L695.85,394.82 L697.62,394.83 L699.40,394.84 L701.20,394.86 L703.01,394.87 L704.83,394.88 L706.66,394.89 L708.50,394.90" fill="none" stroke="#ff0000" stroke-width="1.9" stroke-linejoin="round"/>
<path d="M431.06,269.19 L431.10,270.42 L431.14,271.62 L431.17,272.81 L431.21,273.97 L431.25,275.11 L431.29,276.22 L431.33,277.32 L431.37,278.40 L431.40,279.46 L431.44,280.50 L431.48,281.52 L431.52,282.53 L431.56,283.51 L431.60,284.48 L431.64,285.44 L431.69,286.38 L431.73,287.30 L431.77,288.21 L431.81,289.10 L431.85,289.98 L431.89,290.84 L431.94,291.69 L431.98,292.53 L432.02,293.35 L432.07,294.16 L432.11,294.95 L432.15,295.74 L432.20,296.51 L432.24,297.27 L432.29,298.02 L432.33,298.76 L432.38,299.49 L432.42,300.20 L432.47,300.91 L432.52,301.60 L432.56,302.29 L432.61,302.96 L432.66,303.63 L432.70,304.29 L432.75,304.93 L432.80,305.57 L432.85,306.20 L432.90,306.82 L432.95,307.43 L433.00,308.03 L433.05,308.62 L433.10,309.21 L433.15,309.79 L433.20,310.36 L433.25,310.92 L433.30,311.48 L433.35,312.02 L433.40,312.57 L433.46,313.10 L433.51,313.62 L433.56,314.14 L433.62,314.66 L433.67,315.16 L433.72,315.66 L433.78,316.16 L433.83,316.64 L433.89,317.13 L433.94,317.60 L434.00,318.07 L434.06,318.53 L434.11,318.99 L434.17,319.44 L434.23,319.89 L434.29,320.33 L434.34,320.77 L434.40,321.20 L434.46,321.62 L434.52,322.04 L434.58,322.46 L434.64,322.87 L434.70,323.27 L434.76,323.67 L434.82,324.07 L434.89,324.46 L434.95,324.85 L435.01,325.23 L435.07,325.61 L435.14,325.98 L435.20,326.35 L435.26,326.72 L435.33,327.08 L435.39,327.43 L435.46,327.79 L435.53,328.14 L435.59,328.48 L435.66,328.82 L435.73,329.16 L435.79,329.50 L435.86,329.83 L435.93,330.15 L436.00,330.48 L436.07,330.80 L436.14,331.11 L436.21,331.43 L436.28,331.74 L436.35,332.04 L436.42,332.35 L436.49,332.65 L436.57,332.94 L436.64,333.24 L436.71,333.53 L436.79,333.81 L436.86,334.10 L436.94,334.38 L437.01,334.66 L437.09,334.94 L437.17,335.21 L437.24,335.48 L437.32,335.75 L437.40,336.01 L437.48,336.27 L437.56,336.53 L437.64,336.79 L437.72,337.04 L437.80,337.30 L437.88,337.55 L437.96,337.79 L438.04,338.04 L438.13,338.28 L438.21,338.52 L438.29,338.76 L438.38,338.99 L438.46,339.23 L438.55,339.46 L438.63,339.68 L438.72,339.91 L438.81,340.13 L438.90,340.36 L438.98,340.58 L439.07,340.79 L439.16,341.01 L439.25,341.22 L439.34,341.43 L439.44,341.64 L439.53,341.85 L439.62,342.06 L439.71,342.26 L439.81,342.46 L439.90,342.66 L440.00,342.86 L440.09,343.06 L440.19,343.25 L440.28,343.44 L440.38,343.64 L440.48,343.83 L440.58,344.01 L440.68,344.20 L440.78,344.38 L440.88,344.57 L440.98,344.75 L441.08,344.93 L441.19,345.10 L441.29,345.28 L441.39,345.45 L441.50,345.63 L441.60,345.80 L441.71,345.97 L441.82,346.14 L441.92,346.30 L442.03,346.47 L442.14,346.63 L442.25,346.79 L442.36,346.96 L442.47,347.12 L442.58,347.27 L442.70,347.43 L442.81,347.59 L442.92,347.74 L443.04,347.89 L443.16,348.04 L443.27,348.19 L443.39,348.34 L443.51,348.49 L443.63,348.64 L443.74,348.78 L443.86,348.93 L443.99,349.07 L444.11,349.21 L444.23,349.35 L444.35,349.49 L444.48,349.63 L444.60,349.77 L444.73,349.90 L444.86,350.04 L444.98,350.17 L445.11,350.30 L445.24,350.43 L445.37,350.56 L445.50,350.69 L445.63,350.82 L445.77,350.95 L445.90,351.07 L446.03,351.20 L446.17,351.32 L446.30,351.44 L446.44,351.57 L446.58,351.69 L446.72,351.81 L446.86,351.92 L447.00,352.04 L447.14,352.16 L447.28,352.28 L447.43,352.39 L447.57,352.50 L447.72,352.62 L447.86,352.73 L448.01,352.84 L448.16,352.95 L448.31,353.06 L448.46,353.17 L448.61,353.28 L448.76,353.38 L448.91,353.49 L449.07,353.60 L449.22,353.70 L449.38,353.80 L449.53,353.91 L449.69,354.01 L449.85,354.11 L450.01,354.21 L450.17,354.31 L450.34,354.41 L450.50,354.51 L450.66,354.60 L450.83,354.70 L451.00,354.80 L451.16,354.89 L451.33,354.98 L451.50,355.08 L451.67,355.17 L451.85,355.26 L452.02,355.35 L452.19,355.45 L452.37,355.53 L452.55,355.62 L452.72,355.71 L452.90,355.80 L453.08,355.89 L453.26,355.97 L453.45,356.06 L453.63,356.15 L453.81,356.23 L454.00,356.31 L454.19,356.40 L454.38,356.48 L454.57,356.56 L454.76,356.64 L454.95,356.72 L455.14,356.80 L455.34,356.88 L455.54,356.96 L455.73,357.04 L455.93,357.12 L456.13,357.19 L456.33,357.27 L456.54,357.35 L456.74,357.42 L456.94,357.50 L457.15,357.57 L457.36,357.65 L457.57,357.72 L457.78,357.79 L457.99,357.86 L458.21,357.93 L458.42,358.01 L458.64,358.08 L458.85,358.15 L459.07,358.22 L459.29,358.28 L459.52,358.35 L459.74,358.42 L459.97,358.49 L460.19,358.55 L460.42,358.62 L460.65,358.69 L460.88,358.75 L461.11,358.82 L461.35,358.88 L461.58,358.95 L461.82,359.01 L462.06,359.07 L462.30,359.13 L462.54,359.20 L462.78,359.26 L463.03,359.32 L463.27,359.38 L463.52,359.44 L463.77,359.50 L464.02,359.56 L464.28,359.62 L464.53,359.68 L464.79,359.73 L465.05,359.79 L465.31,359.85 L465.57,359.91 L465.83,359.96 L466.10,360.02 L466.36,360.07 L466.63,360.13 L466.90,360.18 L467.17,360.24 L467.45,360.29 L467.72,360.35 L468.00,360.40 L468.28,360.45 L468.56,360.51 L468.84,360.56 L469.13,360.61 L469.41,360.66 L469.70,360.71 L469.99,360.76 L470.28,360.81 L470.58,360.86 L470.87,360.91 L471.17,360.96 L471.47,361.01 L471.77,361.06 L472.08,361.11 L472.38,361.15 L472.69,361.20 L473.00,361.25 L473.31,361.30 L473.63,361.34 L473.94,361.39 L474.26,361.43 L474.58,361.48 L474.90,361.52 L475.23,361.57 L475.55,361.61 L475.88,361.66 L476.21,361.70 L476.55,361.74 L476.88,361.79 L477.22,361.83 L477.56,361.87 L477.90,361.92 L478.24,361.96 L478.59,362.00 L478.94,362.04 L479.29,362.08 L479.64,362.12 L480.00,362.16 L480.36,362.20 L480.72,362.24 L481.08,362.28 L481.44,362.32 L481.81,362.36 L482.18,362.40 L482.55,362.44 L482.93,362.48 L483.30,362.52 L483.68,362.55 L484.07,362.59 L484.45,362.63 L484.84,362.67 L485.23,362.70 L485.62,362.74 L486.01,362.77 L486.41,362.81 L486.81,362.85 L487.21,362.88 L487.62,362.92 L488.02,362.95 L488.43,362.99 L488.85,363.02 L489.26,363.06 L489.68,363.09 L490.10,363.12 L490.53,363.16 L490.95,363.19 L491.38,363.22 L491.82,363.26 L492.25,363.29 L492.69,363.32 L493.13,363.35 L493.57,363.39 L494.02,363.42 L494.47,363.45 L494.92,363.48 L495.38,363.51 L495.84,363.54 L496.30,363.57 L496.76,363.60 L497.23,363.63 L497.70,363.66 L498.17,363.69 L498.65,363.72 L499.13,363.75 L499.61,363.78 L500.10,363.81 L500.59,363.84 L501.08,363.87 L501.58,363.90 L502.08,363.92 L502.58,363.95 L503.09,363.98 L503.60,364.01 L504.11,364.03 L504.62,364.06 L505.14,364.09 L505.66,364.12 L506.19,364.14 L506.72,364.17 L507.25,364.20 L507.79,364.22 L508.33,364.25 L508.87,364.27 L509.42,364.30 L509.97,364.32 L510.52,364.35 L511.08,364.37 L511.64,364.40 L512.21,364.42 L512.78,364.45 L513.35,364.47 L513.93,364.50 L514.51,364.52 L515.09,364.55 L515.68,364.57 L516.27,364.59 L516.86,364.62 L517.46,364.64 L518.07,364.66 L518.67,364.69 L519.29,364.71 L519.90,364.73 L520.52,364.75 L521.14,364.78 L521.77,364.80 L522.40,364.82 L523.04,364.84 L523.68,364.86 L524.32,364.89 L524.97,364.91 L525.62,364.93 L526.28,364.95 L526.94,364.97 L527.60,364.99 L528.27,365.01 L528.95,365.03 L529.63,365.05 L530.31,365.07 L531.00,365.09 L531.69,365.11 L532.39,365.13 L533.09,365.15 L533.79,365.17 L534.50,365.19 L535.22,365.21 L535.94,365.23 L536.66,365.25 L537.39,365.27 L538.12,365.29 L538.86,365.31 L539.61,365.32 L540.35,365.34 L541.11,365.36 L541.87,365.38 L542.63,365.40 L543.40,365.42 L544.17,365.43 L544.95,365.45 L545.73,365.47 L546.52,365.49 L547.31,365.50 L548.11,365.52 L548.92,365.54 L549.73,365.56 L550.54,365.57 L551.36,365.59 L552.19,365.61 L553.02,365.62 L553.85,365.64 L554.69,365.66 L555.54,365.67 L556.39,365.69 L557.25,365.70 L558.12,365.72 L558.99,365.74 L559.86,365.75 L560.74,365.77 L561.63,365.78 L562.52,365.80 L563.42,365.81 L564.32,365.83 L565.23,365.84 L566.15,365.86 L567.07,365.87 L568.00,365.89 L568.94,365.90 L569.88,365.92 L570.82,365.93 L571.78,365.95 L572.73,365.96 L573.70,365.97 L574.67,365.99 L575.65,366.00 L576.63,366.02 L577.63,366.03 L578.62,366.04 L579.63,366.06 L580.64,366.07 L581.65,366.08 L582.68,366.10 L583.71,366.11 L584.75,366.12 L585.79,366.14 L586.84,366.15 L587.90,366.16 L588.96,366.18 L590.04,366.19 L591.11,366.20 L592.20,366.21 L593.29,366.23 L594.39,366.24 L595.50,366.25 L596.61,366.26 L597.74,366.28 L598.87,366.29 L600.00,366.30 L601.15,366.31 L602.30,366.32 L603.46,366.34 L604.62,366.35 L605.80,366.36 L606.98,366.37 L608.17,366.38 L609.37,366.39 L610.57,366.40 L611.79,366.42 L613.01,366.43 L614.24,366.44 L615.47,366.45 L616.72,366.46 L617.97,366.47 L619.23,366.48 L620.50,366.49 L621.78,366.50 L623.07,366.51 L624.37,366.52 L625.67,366.53 L626.98,366.54 L628.30,366.55 L629.63,366.56 L630.97,366.58 L632.32,366.59 L633.67,366.60 L635.04,366.61 L636.41,366.61 L637.79,366.62 L639.18,366.63 L640.59,366.64 L642.00,366.65 L643.41,366.66 L644.84,366.67 L646.28,366.68 L647.73,366.69 L649.19,366.70 L650.65,366.71 L652.13,366.72 L653.61,366.73 L655.11,366.74 L656.61,366.75 L658.13,366.76 L659.65,366.76 L661.19,366.77 L662.73,366.78 L664.29,366.79 L665.85,366.80 L667.43,366.81 L669.01,366.82 L670.61,366.83 L672.22,366.83 L673.84,366.84 L675.46,366.85 L677.10,366.86 L678.75,366.87 L680.41,366.87 L682.08,366.88 L683.76,366.89 L685.46,366.90 L687.16,366.91 L688.88,366.91 L690.60,366.92 L692.34,366.93 L694.09,366.94 L695.85,366.95 L697.62,366.95 L699.40,366.96 L701.20,366.97 L703.01,366.98 L704.83,366.98 L706.66,366.99 L708.50,367.00" fill="none" stroke="#0000ff" stroke-width="1.9" stroke-linejoin="round" stroke-dasharray="2.65 1.65" stroke-dashoffset="2.78"/>
<line x1="38.10" y1="202.00" x2="326.90" y2="202.00" stroke="#666666" stroke-opacity="0.5" stroke-width="1"/>
<line x1="43.60" y1="26.90" x2="43.60" y2="205.00" stroke="#666666" stroke-opacity="0.5" stroke-width="1"/>
<line x1="57.48" y1="202.00" x2="57.48" y2="199.80" stroke="#666666" stroke-opacity="0.9" stroke-width="0.85"/>
<line x1="71.36" y1="202.00" x2="71.36" y2="199.80" stroke="#666666" stroke-opacity="0.9" stroke-width="0.85"/>
<line x1="85.24" y1="202.00" x2="85.24" y2="199.80" stroke="#666666" stroke-opacity="0.9" stroke-width="0.85"/>
<line x1="99.12" y1="202.00" x2="99.12" y2="198.30" stroke="#666666" stroke-opacity="0.9" stroke-width="0.85"/>
<line x1="113.00" y1="202.00" x2="113.00" y2="199.80" stroke="#666666" stroke-opacity="0.9" stroke-width="0.85"/>
<line x1="126.88" y1="202.00" x2="126.88" y2="199.80" stroke="#666666" stroke-opacity="0.9" stroke-width="0.85"/>
<line x1="140.76" y1="202.00" x2="140.76" y2="199.80" stroke="#666666" stroke-opacity="0.9" stroke-width="0.85"/>
<line x1="154.64" y1="202.00" x2="154.64" y2="198.30" stroke="#666666" stroke-opacity="0.9" stroke-width="0.85"/>
<line x1="168.52" y1="202.00" x2="168.52" y2="199.80" stroke="#666666" stroke-opacity="0.9" stroke-width="0.85"/>
<line x1="182.40" y1="202.00" x2="182.40" y2="199.80" stroke="#666666" stroke-opacity="0.9" stroke-width="0.85"/>
<line x1="196.28" y1="202.00" x2="196.28" y2="199.80" stroke="#666666" stroke-opacity="0.9" stroke-width="0.85"/>
<line x1="210.16" y1="202.00" x2="210.16" y2="198.30" stroke="#666666" stroke-opacity="0.9" stroke-width="0.85"/>
<line x1="224.04" y1="202.00" x2="224.04" y2="199.80" stroke="#666666" stroke-opacity="0.9" stroke-width="0.85"/>
<line x1="237.92" y1="202.00" x2="237.92" y2="199.80" stroke="#666666" stroke-opacity="0.9" stroke-width="0.85"/>
<line x1="251.80" y1="202.00" x2="251.80" y2="199.80" stroke="#666666" stroke-opacity="0.9" stroke-width="0.85"/>
<line x1="265.68" y1="202.00" x2="265.68" y2="198.30" stroke="#666666" stroke-opacity="0.9" stroke-width="0.85"/>
<line x1="279.56" y1="202.00" x2="279.56" y2="199.80" stroke="#666666" stroke-opacity="0.9" stroke-width="0.85"/>
<line x1="293.44" y1="202.00" x2="293.44" y2="199.80" stroke="#666666" stroke-opacity="0.9" stroke-width="0.85"/>
<line x1="307.32" y1="202.00" x2="307.32" y2="199.80" stroke="#666666" stroke-opacity="0.9" stroke-width="0.85"/>
<line x1="321.20" y1="202.00" x2="321.20" y2="198.30" stroke="#666666" stroke-opacity="0.9" stroke-width="0.85"/>
<line x1="43.60" y1="196.51" x2="45.80" y2="196.51" stroke="#666666" stroke-opacity="0.9" stroke-width="0.85"/>
<line x1="43.60" y1="191.02" x2="45.80" y2="191.02" stroke="#666666" stroke-opacity="0.9" stroke-width="0.85"/>
<line x1="43.60" y1="185.52" x2="45.80" y2="185.52" stroke="#666666" stroke-opacity="0.9" stroke-width="0.85"/>
<line x1="43.60" y1="180.03" x2="45.80" y2="180.03" stroke="#666666" stroke-opacity="0.9" stroke-width="0.85"/>
<line x1="43.60" y1="174.54" x2="47.30" y2="174.54" stroke="#666666" stroke-opacity="0.9" stroke-width="0.85"/>
<line x1="43.60" y1="169.05" x2="45.80" y2="169.05" stroke="#666666" stroke-opacity="0.9" stroke-width="0.85"/>
<line x1="43.60" y1="163.56" x2="45.80" y2="163.56" stroke="#666666" stroke-opacity="0.9" stroke-width="0.85"/>
<line x1="43.60" y1="158.06" x2="45.80" y2="158.06" stroke="#666666" stroke-opacity="0.9" stroke-width="0.85"/>
<line x1="43.60" y1="152.57" x2="45.80" y2="152.57" stroke="#666666" stroke-opacity="0.9" stroke-width="0.85"/>
<line x1="43.60" y1="147.08" x2="47.30" y2="147.08" stroke="#666666" stroke-opacity="0.9" stroke-width="0.85"/>
<line x1="43.60" y1="141.59" x2="45.80" y2="141.59" stroke="#666666" stroke-opacity="0.9" stroke-width="0.85"/>
<line x1="43.60" y1="136.10" x2="45.80" y2="136.10" stroke="#666666" stroke-opacity="0.9" stroke-width="0.85"/>
<line x1="43.60" y1="130.60" x2="45.80" y2="130.60" stroke="#666666" stroke-opacity="0.9" stroke-width="0.85"/>
<line x1="43.60" y1="125.11" x2="45.80" y2="125.11" stroke="#666666" stroke-opacity="0.9" stroke-width="0.85"/>
<line x1="43.60" y1="119.62" x2="47.30" y2="119.62" stroke="#666666" stroke-opacity="0.9" stroke-width="0.85"/>
<line x1="43.60" y1="114.13" x2="45.80" y2="114.13" stroke="#666666" stroke-opacity="0.9" stroke-width="0.85"/>
<line x1="43.60" y1="108.64" x2="45.80" y2="108.64" stroke="#666666" stroke-opacity="0.9" stroke-width="0.85"/>
<line x1="43.60" y1="103.14" x2="45.80" y2="103.14" stroke="#666666" stroke-opacity="0.9" stroke-width="0.85"/>
<line x1="43.60" y1="97.65" x2="45.80" y2="97.65" stroke="#666666" stroke-opacity="0.9" stroke-width="0.85"/>
<line x1="43.60" y1="92.16" x2="47.30" y2="92.16" stroke="#666666" stroke-opacity="0.9" stroke-width="0.85"/>
<line x1="43.60" y1="86.67" x2="45.80" y2="86.67" stroke="#666666" stroke-opacity="0.9" stroke-width="0.85"/>
<line x1="43.60" y1="81.18" x2="45.80" y2="81.18" stroke="#666666" stroke-opacity="0.9" stroke-width="0.85"/>
<line x1="43.60" y1="75.68" x2="45.80" y2="75.68" stroke="#666666" stroke-opacity="0.9" stroke-width="0.85"/>
<line x1="43.60" y1="70.19" x2="45.80" y2="70.19" stroke="#666666" stroke-opacity="0.9" stroke-width="0.85"/>
<line x1="43.60" y1="64.70" x2="47.30" y2="64.70" stroke="#666666" stroke-opacity="0.9" stroke-width="0.85"/>
<line x1="43.60" y1="59.21" x2="45.80" y2="59.21" stroke="#666666" stroke-opacity="0.9" stroke-width="0.85"/>
<line x1="43.60" y1="53.72" x2="45.80" y2="53.72" stroke="#666666" stroke-opacity="0.9" stroke-width="0.85"/>
<line x1="43.60" y1="48.22" x2="45.80" y2="48.22" stroke="#666666" stroke-opacity="0.9" stroke-width="0.85"/>
<line x1="43.60" y1="42.73" x2="45.80" y2="42.73" stroke="#666666" stroke-opacity="0.9" stroke-width="0.85"/>
<line x1="43.60" y1="37.24" x2="47.30" y2="37.24" stroke="#666666" stroke-opacity="0.9" stroke-width="0.85"/>
<line x1="43.60" y1="31.75" x2="45.80" y2="31.75" stroke="#666666" stroke-opacity="0.9" stroke-width="0.85"/>
<text x="99.12" y="221.15" font-family="Liberation Sans" font-size="17.3" font-style="normal" text-anchor="middle" >0.2</text>
<text x="154.64" y="221.15" font-family="Liberation Sans" font-size="17.3" font-style="normal" text-anchor="middle" >0.4</text>
<text x="210.16" y="221.15" font-family="Liberation Sans" font-size="17.3" font-style="normal" text-anchor="middle" >0.6</text>
<text x="265.68" y="221.15" font-family="Liberation Sans" font-size="17.3" font-style="normal" text-anchor="middle" >0.8</text>
<text x="321.20" y="221.15" font-family="Liberation Sans" font-size="17.3" font-style="normal" text-anchor="middle" >1.0</text>
<text x="40.60" y="181.54" font-family="Liberation Sans" font-size="17.3" font-style="normal" text-anchor="end" >0.1</text>
<text x="40.60" y="154.08" font-family="Liberation Sans" font-size="17.3" font-style="normal" text-anchor="end" >0.2</text>
<text x="40.60" y="126.62" font-family="Liberation Sans" font-size="17.3" font-style="normal" text-anchor="end" >0.3</text>
<text x="40.60" y="99.16" font-family="Liberation Sans" font-size="17.3" font-style="normal" text-anchor="end" >0.4</text>
<text x="40.60" y="71.70" font-family="Liberation Sans" font-size="17.3" font-style="normal" text-anchor="end" >0.5</text>
<text x="40.60" y="44.24" font-family="Liberation Sans" font-size="17.3" font-style="normal" text-anchor="end" >0.6</text>
<text x="43.60" y="18.10" font-family="Liberation Sans" font-size="17.3" font-style="normal" text-anchor="middle" >QC</text>
<line x1="423.70" y1="202.00" x2="712.30" y2="202.00" stroke="#666666" stroke-opacity="0.5" stroke-width="1"/>
<line x1="429.30" y1="26.80" x2="429.30" y2="205.00" stroke="#666666" stroke-opacity="0.5" stroke-width="1"/>
<line x1="443.18" y1="202.00" x2="443.18" y2="199.80" stroke="#666666" stroke-opacity="0.9" stroke-width="0.85"/>
<line x1="457.05" y1="202.00" x2="457.05" y2="199.80" stroke="#666666" stroke-opacity="0.9" stroke-width="0.85"/>
<line x1="470.93" y1="202.00" x2="470.93" y2="199.80" stroke="#666666" stroke-opacity="0.9" stroke-width="0.85"/>
<line x1="484.80" y1="202.00" x2="484.80" y2="198.30" stroke="#666666" stroke-opacity="0.9" stroke-width="0.85"/>
<line x1="498.68" y1="202.00" x2="498.68" y2="199.80" stroke="#666666" stroke-opacity="0.9" stroke-width="0.85"/>
<line x1="512.55" y1="202.00" x2="512.55" y2="199.80" stroke="#666666" stroke-opacity="0.9" stroke-width="0.85"/>
<line x1="526.43" y1="202.00" x2="526.43" y2="199.80" stroke="#666666" stroke-opacity="0.9" stroke-width="0.85"/>
<line x1="540.30" y1="202.00" x2="540.30" y2="198.30" stroke="#666666" stroke-opacity="0.9" stroke-width="0.85"/>
<line x1="554.17" y1="202.00" x2="554.17" y2="199.80" stroke="#666666" stroke-opacity="0.9" stroke-width="0.85"/>
<line x1="568.05" y1="202.00" x2="568.05" y2="199.80" stroke="#666666" stroke-opacity="0.9" stroke-width="0.85"/>
<line x1="581.92" y1="202.00" x2="581.92" y2="199.80" stroke="#666666" stroke-opacity="0.9" stroke-width="0.85"/>
<line x1="595.80" y1="202.00" x2="595.80" y2="198.30" stroke="#666666" stroke-opacity="0.9" stroke-width="0.85"/>
<line x1="609.68" y1="202.00" x2="609.68" y2="199.80" stroke="#666666" stroke-opacity="0.9" stroke-width="0.85"/>
<line x1="623.55" y1="202.00" x2="623.55" y2="199.80" stroke="#666666" stroke-opacity="0.9" stroke-width="0.85"/>
<line x1="637.43" y1="202.00" x2="637.43" y2="199.80" stroke="#666666" stroke-opacity="0.9" stroke-width="0.85"/>
<line x1="651.30" y1="202.00" x2="651.30" y2="198.30" stroke="#666666" stroke-opacity="0.9" stroke-width="0.85"/>
<line x1="665.18" y1="202.00" x2="665.18" y2="199.80" stroke="#666666" stroke-opacity="0.9" stroke-width="0.85"/>
<line x1="679.05" y1="202.00" x2="679.05" y2="199.80" stroke="#666666" stroke-opacity="0.9" stroke-width="0.85"/>
<line x1="692.92" y1="202.00" x2="692.92" y2="199.80" stroke="#666666" stroke-opacity="0.9" stroke-width="0.85"/>
<line x1="706.80" y1="202.00" x2="706.80" y2="198.30" stroke="#666666" stroke-opacity="0.9" stroke-width="0.85"/>
<line x1="429.30" y1="195.50" x2="431.50" y2="195.50" stroke="#666666" stroke-opacity="0.9" stroke-width="0.85"/>
<line x1="429.30" y1="189.00" x2="431.50" y2="189.00" stroke="#666666" stroke-opacity="0.9" stroke-width="0.85"/>
<line x1="429.30" y1="182.50" x2="431.50" y2="182.50" stroke="#666666" stroke-opacity="0.9" stroke-width="0.85"/>
<line x1="429.30" y1="176.00" x2="431.50" y2="176.00" stroke="#666666" stroke-opacity="0.9" stroke-width="0.85"/>
<line x1="429.30" y1="169.50" x2="433.00" y2="169.50" stroke="#666666" stroke-opacity="0.9" stroke-width="0.85"/>
<line x1="429.30" y1="163.00" x2="431.50" y2="163.00" stroke="#666666" stroke-opacity="0.9" stroke-width="0.85"/>
<line x1="429.30" y1="156.50" x2="431.50" y2="156.50" stroke="#666666" stroke-opacity="0.9" stroke-width="0.85"/>
<line x1="429.30" y1="150.00" x2="431.50" y2="150.00" stroke="#666666" stroke-opacity="0.9" stroke-width="0.85"/>
<line x1="429.30" y1="143.50" x2="431.50" y2="143.50" stroke="#666666" stroke-opacity="0.9" stroke-width="0.85"/>
<line x1="429.30" y1="137.00" x2="433.00" y2="137.00" stroke="#666666" stroke-opacity="0.9" stroke-width="0.85"/>
<line x1="429.30" y1="130.50" x2="431.50" y2="130.50" stroke="#666666" stroke-opacity="0.9" stroke-width="0.85"/>
<line x1="429.30" y1="124.00" x2="431.50" y2="124.00" stroke="#666666" stroke-opacity="0.9" stroke-width="0.85"/>
<line x1="429.30" y1="117.50" x2="431.50" y2="117.50" stroke="#666666" stroke-opacity="0.9" stroke-width="0.85"/>
<line x1="429.30" y1="111.00" x2="431.50" y2="111.00" stroke="#666666" stroke-opacity="0.9" stroke-width="0.85"/>
<line x1="429.30" y1="104.50" x2="433.00" y2="104.50" stroke="#666666" stroke-opacity="0.9" stroke-width="0.85"/>
<line x1="429.30" y1="98.00" x2="431.50" y2="98.00" stroke="#666666" stroke-opacity="0.9" stroke-width="0.85"/>
<line x1="429.30" y1="91.50" x2="431.50" y2="91.50" stroke="#666666" stroke-opacity="0.9" stroke-width="0.85"/>
<line x1="429.30" y1="85.00" x2="431.50" y2="85.00" stroke="#666666" stroke-opacity="0.9" stroke-width="0.85"/>
<line x1="429.30" y1="78.50" x2="431.50" y2="78.50" stroke="#666666" stroke-opacity="0.9" stroke-width="0.85"/>
<line x1="429.30" y1="72.00" x2="433.00" y2="72.00" stroke="#666666" stroke-opacity="0.9" stroke-width="0.85"/>
<line x1="429.30" y1="65.50" x2="431.50" y2="65.50" stroke="#666666" stroke-opacity="0.9" stroke-width="0.85"/>
<line x1="429.30" y1="59.00" x2="431.50" y2="59.00" stroke="#666666" stroke-opacity="0.9" stroke-width="0.85"/>
<line x1="429.30" y1="52.50" x2="431.50" y2="52.50" stroke="#666666" stroke-opacity="0.9" stroke-width="0.85"/>
<line x1="429.30" y1="46.00" x2="431.50" y2="46.00" stroke="#666666" stroke-opacity="0.9" stroke-width="0.85"/>
<line x1="429.30" y1="39.50" x2="433.00" y2="39.50" stroke="#666666" stroke-opacity="0.9" stroke-width="0.85"/>
<line x1="429.30" y1="33.00" x2="431.50" y2="33.00" stroke="#666666" stroke-opacity="0.9" stroke-width="0.85"/>
<text x="484.80" y="221.15" font-family="Liberation Sans" font-size="17.3" font-style="normal" text-anchor="middle" >0.2</text>
<text x="540.30" y="221.15" font-family="Liberation Sans" font-size="17.3" font-style="normal" text-anchor="middle" >0.4</text>
<text x="595.80" y="221.15" font-family="Liberation Sans" font-size="17.3" font-style="normal" text-anchor="middle" >0.6</text>
<text x="651.30" y="221.15" font-family="Liberation Sans" font-size="17.3" font-style="normal" text-anchor="middle" >0.8</text>
<text x="706.80" y="221.15" font-family="Liberation Sans" font-size="17.3" font-style="normal" text-anchor="middle" >1.0</text>
<text x="426.30" y="175.60" font-family="Liberation Sans" font-size="17.3" font-style="normal" text-anchor="end" >0.1</text>
<text x="426.30" y="143.10" font-family="Liberation Sans" font-size="17.3" font-style="normal" text-anchor="end" >0.2</text>
<text x="426.30" y="110.60" font-family="Liberation Sans" font-size="17.3" font-style="normal" text-anchor="end" >0.3</text>
<text x="426.30" y="78.10" font-family="Liberation Sans" font-size="17.3" font-style="normal" text-anchor="end" >0.4</text>
<text x="426.30" y="45.60" font-family="Liberation Sans" font-size="17.3" font-style="normal" text-anchor="end" >0.5</text>
<text x="429.30" y="18.00" font-family="Liberation Sans" font-size="17.3" font-style="normal" text-anchor="middle" >QC</text>
<line x1="47.40" y1="440.50" x2="330.40" y2="440.50" stroke="#666666" stroke-opacity="0.5" stroke-width="1"/>
<line x1="47.40" y1="265.10" x2="47.40" y2="440.50" stroke="#666666" stroke-opacity="0.5" stroke-width="1"/>
<line x1="61.28" y1="440.50" x2="61.28" y2="438.30" stroke="#666666" stroke-opacity="0.9" stroke-width="0.85"/>
<line x1="75.16" y1="440.50" x2="75.16" y2="438.30" stroke="#666666" stroke-opacity="0.9" stroke-width="0.85"/>
<line x1="89.04" y1="440.50" x2="89.04" y2="438.30" stroke="#666666" stroke-opacity="0.9" stroke-width="0.85"/>
<line x1="102.92" y1="440.50" x2="102.92" y2="436.80" stroke="#666666" stroke-opacity="0.9" stroke-width="0.85"/>
<line x1="116.80" y1="440.50" x2="116.80" y2="438.30" stroke="#666666" stroke-opacity="0.9" stroke-width="0.85"/>
<line x1="130.68" y1="440.50" x2="130.68" y2="438.30" stroke="#666666" stroke-opacity="0.9" stroke-width="0.85"/>
<line x1="144.56" y1="440.50" x2="144.56" y2="438.30" stroke="#666666" stroke-opacity="0.9" stroke-width="0.85"/>
<line x1="158.44" y1="440.50" x2="158.44" y2="436.80" stroke="#666666" stroke-opacity="0.9" stroke-width="0.85"/>
<line x1="172.32" y1="440.50" x2="172.32" y2="438.30" stroke="#666666" stroke-opacity="0.9" stroke-width="0.85"/>
<line x1="186.20" y1="440.50" x2="186.20" y2="438.30" stroke="#666666" stroke-opacity="0.9" stroke-width="0.85"/>
<line x1="200.08" y1="440.50" x2="200.08" y2="438.30" stroke="#666666" stroke-opacity="0.9" stroke-width="0.85"/>
<line x1="213.96" y1="440.50" x2="213.96" y2="436.80" stroke="#666666" stroke-opacity="0.9" stroke-width="0.85"/>
<line x1="227.84" y1="440.50" x2="227.84" y2="438.30" stroke="#666666" stroke-opacity="0.9" stroke-width="0.85"/>
<line x1="241.72" y1="440.50" x2="241.72" y2="438.30" stroke="#666666" stroke-opacity="0.9" stroke-width="0.85"/>
<line x1="255.60" y1="440.50" x2="255.60" y2="438.30" stroke="#666666" stroke-opacity="0.9" stroke-width="0.85"/>
<line x1="269.48" y1="440.50" x2="269.48" y2="436.80" stroke="#666666" stroke-opacity="0.9" stroke-width="0.85"/>
<line x1="283.36" y1="440.50" x2="283.36" y2="438.30" stroke="#666666" stroke-opacity="0.9" stroke-width="0.85"/>
<line x1="297.24" y1="440.50" x2="297.24" y2="438.30" stroke="#666666" stroke-opacity="0.9" stroke-width="0.85"/>
<line x1="311.12" y1="440.50" x2="311.12" y2="438.30" stroke="#666666" stroke-opacity="0.9" stroke-width="0.85"/>
<line x1="325.00" y1="440.50" x2="325.00" y2="436.80" stroke="#666666" stroke-opacity="0.9" stroke-width="0.85"/>
<line x1="47.40" y1="435.02" x2="49.60" y2="435.02" stroke="#666666" stroke-opacity="0.9" stroke-width="0.85"/>
<line x1="47.40" y1="429.55" x2="49.60" y2="429.55" stroke="#666666" stroke-opacity="0.9" stroke-width="0.85"/>
<line x1="47.40" y1="424.07" x2="49.60" y2="424.07" stroke="#666666" stroke-opacity="0.9" stroke-width="0.85"/>
<line x1="47.40" y1="418.59" x2="49.60" y2="418.59" stroke="#666666" stroke-opacity="0.9" stroke-width="0.85"/>
<line x1="47.40" y1="413.12" x2="51.10" y2="413.12" stroke="#666666" stroke-opacity="0.9" stroke-width="0.85"/>
<line x1="47.40" y1="407.64" x2="49.60" y2="407.64" stroke="#666666" stroke-opacity="0.9" stroke-width="0.85"/>
<line x1="47.40" y1="402.16" x2="49.60" y2="402.16" stroke="#666666" stroke-opacity="0.9" stroke-width="0.85"/>
<line x1="47.40" y1="396.68" x2="49.60" y2="396.68" stroke="#666666" stroke-opacity="0.9" stroke-width="0.85"/>
<line x1="47.40" y1="391.21" x2="49.60" y2="391.21" stroke="#666666" stroke-opacity="0.9" stroke-width="0.85"/>
<line x1="47.40" y1="385.73" x2="51.10" y2="385.73" stroke="#666666" stroke-opacity="0.9" stroke-width="0.85"/>
<line x1="47.40" y1="380.25" x2="49.60" y2="380.25" stroke="#666666" stroke-opacity="0.9" stroke-width="0.85"/>
<line x1="47.40" y1="374.78" x2="49.60" y2="374.78" stroke="#666666" stroke-opacity="0.9" stroke-width="0.85"/>
<line x1="47.40" y1="369.30" x2="49.60" y2="369.30" stroke="#666666" stroke-opacity="0.9" stroke-width="0.85"/>
<line x1="47.40" y1="363.82" x2="49.60" y2="363.82" stroke="#666666" stroke-opacity="0.9" stroke-width="0.85"/>
<line x1="47.40" y1="358.34" x2="51.10" y2="358.34" stroke="#666666" stroke-opacity="0.9" stroke-width="0.85"/>
<line x1="47.40" y1="352.87" x2="49.60" y2="352.87" stroke="#666666" stroke-opacity="0.9" stroke-width="0.85"/>
<line x1="47.40" y1="347.39" x2="49.60" y2="347.39" stroke="#666666" stroke-opacity="0.9" stroke-width="0.85"/>
<line x1="47.40" y1="341.91" x2="49.60" y2="341.91" stroke="#666666" stroke-opacity="0.9" stroke-width="0.85"/>
<line x1="47.40" y1="336.44" x2="49.60" y2="336.44" stroke="#666666" stroke-opacity="0.9" stroke-width="0.85"/>
<line x1="47.40" y1="330.96" x2="51.10" y2="330.96" stroke="#666666" stroke-opacity="0.9" stroke-width="0.85"/>
<line x1="47.40" y1="325.48" x2="49.60" y2="325.48" stroke="#666666" stroke-opacity="0.9" stroke-width="0.85"/>
<line x1="47.40" y1="320.01" x2="49.60" y2="320.01" stroke="#666666" stroke-opacity="0.9" stroke-width="0.85"/>
<line x1="47.40" y1="314.53" x2="49.60" y2="314.53" stroke="#666666" stroke-opacity="0.9" stroke-width="0.85"/>
<line x1="47.40" y1="309.05" x2="49.60" y2="309.05" stroke="#666666" stroke-opacity="0.9" stroke-width="0.85"/>
<line x1="47.40" y1="303.57" x2="51.10" y2="303.57" stroke="#666666" stroke-opacity="0.9" stroke-width="0.85"/>
<line x1="47.40" y1="298.10" x2="49.60" y2="298.10" stroke="#666666" stroke-opacity="0.9" stroke-width="0.85"/>
<line x1="47.40" y1="292.62" x2="49.60" y2="292.62" stroke="#666666" stroke-opacity="0.9" stroke-width="0.85"/>
<line x1="47.40" y1="287.14" x2="49.60" y2="287.14" stroke="#666666" stroke-opacity="0.9" stroke-width="0.85"/>
<line x1="47.40" y1="281.67" x2="49.60" y2="281.67" stroke="#666666" stroke-opacity="0.9" stroke-width="0.85"/>
<line x1="47.40" y1="276.19" x2="51.10" y2="276.19" stroke="#666666" stroke-opacity="0.9" stroke-width="0.85"/>
<line x1="47.40" y1="270.71" x2="49.60" y2="270.71" stroke="#666666" stroke-opacity="0.9" stroke-width="0.85"/>
<line x1="47.40" y1="265.24" x2="49.60" y2="265.24" stroke="#666666" stroke-opacity="0.9" stroke-width="0.85"/>
<text x="47.40" y="459.50" font-family="Liberation Sans" font-size="17.3" font-style="normal" text-anchor="middle" >0</text>
<text x="102.92" y="459.50" font-family="Liberation Sans" font-size="17.3" font-style="normal" text-anchor="middle" >20</text>
<text x="158.44" y="459.50" font-family="Liberation Sans" font-size="17.3" font-style="normal" text-anchor="middle" >40</text>
<text x="213.96" y="459.50" font-family="Liberation Sans" font-size="17.3" font-style="normal" text-anchor="middle" >60</text>
<text x="269.48" y="459.50" font-family="Liberation Sans" font-size="17.3" font-style="normal" text-anchor="middle" >80</text>
<text x="325.00" y="459.50" font-family="Liberation Sans" font-size="17.3" font-style="normal" text-anchor="middle" >100</text>
<text x="44.40" y="447.20" font-family="Liberation Sans" font-size="17.3" font-style="normal" text-anchor="end" >0.00</text>
<text x="44.40" y="419.81" font-family="Liberation Sans" font-size="17.3" font-style="normal" text-anchor="end" >0.05</text>
<text x="44.40" y="392.43" font-family="Liberation Sans" font-size="17.3" font-style="normal" text-anchor="end" >0.10</text>
<text x="44.40" y="365.05" font-family="Liberation Sans" font-size="17.3" font-style="normal" text-anchor="end" >0.15</text>
<text x="44.40" y="337.66" font-family="Liberation Sans" font-size="17.3" font-style="normal" text-anchor="end" >0.20</text>
<text x="44.40" y="310.27" font-family="Liberation Sans" font-size="17.3" font-style="normal" text-anchor="end" >0.25</text>
<text x="44.40" y="282.89" font-family="Liberation Sans" font-size="17.3" font-style="normal" text-anchor="end" >0.30</text>
<text x="47.40" y="256.30" font-family="Liberation Sans" font-size="17.3" font-style="normal" text-anchor="middle" >QC</text>
<line x1="425.40" y1="440.50" x2="714.10" y2="440.50" stroke="#666666" stroke-opacity="0.5" stroke-width="1"/>
<line x1="425.40" y1="265.10" x2="425.40" y2="443.60" stroke="#666666" stroke-opacity="0.5" stroke-width="1"/>
<line x1="439.55" y1="440.50" x2="439.55" y2="438.30" stroke="#666666" stroke-opacity="0.9" stroke-width="0.85"/>
<line x1="453.71" y1="440.50" x2="453.71" y2="438.30" stroke="#666666" stroke-opacity="0.9" stroke-width="0.85"/>
<line x1="467.86" y1="440.50" x2="467.86" y2="438.30" stroke="#666666" stroke-opacity="0.9" stroke-width="0.85"/>
<line x1="482.02" y1="440.50" x2="482.02" y2="436.80" stroke="#666666" stroke-opacity="0.9" stroke-width="0.85"/>
<line x1="496.17" y1="440.50" x2="496.17" y2="438.30" stroke="#666666" stroke-opacity="0.9" stroke-width="0.85"/>
<line x1="510.33" y1="440.50" x2="510.33" y2="438.30" stroke="#666666" stroke-opacity="0.9" stroke-width="0.85"/>
<line x1="524.49" y1="440.50" x2="524.49" y2="438.30" stroke="#666666" stroke-opacity="0.9" stroke-width="0.85"/>
<line x1="538.64" y1="440.50" x2="538.64" y2="436.80" stroke="#666666" stroke-opacity="0.9" stroke-width="0.85"/>
<line x1="552.79" y1="440.50" x2="552.79" y2="438.30" stroke="#666666" stroke-opacity="0.9" stroke-width="0.85"/>
<line x1="566.95" y1="440.50" x2="566.95" y2="438.30" stroke="#666666" stroke-opacity="0.9" stroke-width="0.85"/>
<line x1="581.11" y1="440.50" x2="581.11" y2="438.30" stroke="#666666" stroke-opacity="0.9" stroke-width="0.85"/>
<line x1="595.26" y1="440.50" x2="595.26" y2="436.80" stroke="#666666" stroke-opacity="0.9" stroke-width="0.85"/>
<line x1="609.41" y1="440.50" x2="609.41" y2="438.30" stroke="#666666" stroke-opacity="0.9" stroke-width="0.85"/>
<line x1="623.57" y1="440.50" x2="623.57" y2="438.30" stroke="#666666" stroke-opacity="0.9" stroke-width="0.85"/>
<line x1="637.72" y1="440.50" x2="637.72" y2="438.30" stroke="#666666" stroke-opacity="0.9" stroke-width="0.85"/>
<line x1="651.88" y1="440.50" x2="651.88" y2="436.80" stroke="#666666" stroke-opacity="0.9" stroke-width="0.85"/>
<line x1="666.03" y1="440.50" x2="666.03" y2="438.30" stroke="#666666" stroke-opacity="0.9" stroke-width="0.85"/>
<line x1="680.19" y1="440.50" x2="680.19" y2="438.30" stroke="#666666" stroke-opacity="0.9" stroke-width="0.85"/>
<line x1="694.35" y1="440.50" x2="694.35" y2="438.30" stroke="#666666" stroke-opacity="0.9" stroke-width="0.85"/>
<line x1="708.50" y1="440.50" x2="708.50" y2="436.80" stroke="#666666" stroke-opacity="0.9" stroke-width="0.85"/>
<line x1="425.40" y1="431.23" x2="427.60" y2="431.23" stroke="#666666" stroke-opacity="0.9" stroke-width="0.85"/>
<line x1="425.40" y1="421.95" x2="427.60" y2="421.95" stroke="#666666" stroke-opacity="0.9" stroke-width="0.85"/>
<line x1="425.40" y1="412.68" x2="427.60" y2="412.68" stroke="#666666" stroke-opacity="0.9" stroke-width="0.85"/>
<line x1="425.40" y1="403.40" x2="429.10" y2="403.40" stroke="#666666" stroke-opacity="0.9" stroke-width="0.85"/>
<line x1="425.40" y1="394.12" x2="427.60" y2="394.12" stroke="#666666" stroke-opacity="0.9" stroke-width="0.85"/>
<line x1="425.40" y1="384.85" x2="427.60" y2="384.85" stroke="#666666" stroke-opacity="0.9" stroke-width="0.85"/>
<line x1="425.40" y1="375.57" x2="427.60" y2="375.57" stroke="#666666" stroke-opacity="0.9" stroke-width="0.85"/>
<line x1="425.40" y1="366.30" x2="429.10" y2="366.30" stroke="#666666" stroke-opacity="0.9" stroke-width="0.85"/>
<line x1="425.40" y1="357.02" x2="427.60" y2="357.02" stroke="#666666" stroke-opacity="0.9" stroke-width="0.85"/>
<line x1="425.40" y1="347.75" x2="427.60" y2="347.75" stroke="#666666" stroke-opacity="0.9" stroke-width="0.85"/>
<line x1="425.40" y1="338.48" x2="427.60" y2="338.48" stroke="#666666" stroke-opacity="0.9" stroke-width="0.85"/>
<line x1="425.40" y1="329.20" x2="429.10" y2="329.20" stroke="#666666" stroke-opacity="0.9" stroke-width="0.85"/>
<line x1="425.40" y1="319.92" x2="427.60" y2="319.92" stroke="#666666" stroke-opacity="0.9" stroke-width="0.85"/>
<line x1="425.40" y1="310.65" x2="427.60" y2="310.65" stroke="#666666" stroke-opacity="0.9" stroke-width="0.85"/>
<line x1="425.40" y1="301.38" x2="427.60" y2="301.38" stroke="#666666" stroke-opacity="0.9" stroke-width="0.85"/>
<line x1="425.40" y1="292.10" x2="429.10" y2="292.10" stroke="#666666" stroke-opacity="0.9" stroke-width="0.85"/>
<line x1="425.40" y1="282.82" x2="427.60" y2="282.82" stroke="#666666" stroke-opacity="0.9" stroke-width="0.85"/>
<line x1="425.40" y1="273.55" x2="427.60" y2="273.55" stroke="#666666" stroke-opacity="0.9" stroke-width="0.85"/>
<text x="482.02" y="459.50" font-family="Liberation Sans" font-size="17.3" font-style="normal" text-anchor="middle" >20</text>
<text x="538.64" y="459.50" font-family="Liberation Sans" font-size="17.3" font-style="normal" text-anchor="middle" >40</text>
<text x="595.26" y="459.50" font-family="Liberation Sans" font-size="17.3" font-style="normal" text-anchor="middle" >60</text>
<text x="651.88" y="459.50" font-family="Liberation Sans" font-size="17.3" font-style="normal" text-anchor="middle" >80</text>
<text x="708.50" y="459.50" font-family="Liberation Sans" font-size="17.3" font-style="normal" text-anchor="middle" >100</text>
<text x="422.40" y="446.90" font-family="Liberation Sans" font-size="17.3" font-style="normal" text-anchor="end" >0.0</text>
<text x="422.40" y="409.80" font-family="Liberation Sans" font-size="17.3" font-style="normal" text-anchor="end" >0.2</text>
<text x="422.40" y="372.70" font-family="Liberation Sans" font-size="17.3" font-style="normal" text-anchor="end" >0.4</text>
<text x="422.40" y="335.60" font-family="Liberation Sans" font-size="17.3" font-style="normal" text-anchor="end" >0.6</text>
<text x="422.40" y="298.50" font-family="Liberation Sans" font-size="17.3" font-style="normal" text-anchor="end" >0.8</text>
<text x="425.40" y="256.30" font-family="Liberation Sans" font-size="17.3" font-style="normal" text-anchor="middle" >QC</text>
<text transform="translate(334.66,208.90) scale(1.1,1)" font-family="Liberation Serif" font-size="17.3" font-style="italic">λ</text>
<text transform="translate(719.66,208.80) scale(1.1,1)" font-family="Liberation Serif" font-size="17.3" font-style="italic">λ</text>
<text x="337.72" y="446.30" font-family="Liberation Sans" font-size="17.3" font-style="italic" text-anchor="start" >d</text>
<text x="721.22" y="446.20" font-family="Liberation Sans" font-size="17.3" font-style="italic" text-anchor="start" >d</text>
<text x="166.72" y="42.00" font-family="Liberation Sans" font-size="17.3" font-style="italic" text-anchor="start" >d</text>
<text transform="translate(177.13,42.00) scale(1.15,1)" font-family="Liberation Sans" font-size="17.3" font-style="normal">=</text>
<text x="188.91" y="42.00" font-family="Liberation Sans" font-size="17.3" font-style="normal" text-anchor="start" >5</text>
<text x="546.92" y="42.00" font-family="Liberation Sans" font-size="17.3" font-style="italic" text-anchor="start" >d</text>
<text transform="translate(558.13,42.00) scale(1.15,1)" font-family="Liberation Sans" font-size="17.3" font-style="normal">=</text>
<text x="569.13" y="42.00" font-family="Liberation Sans" font-size="17.3" font-style="normal" text-anchor="start" >20</text>
<text transform="translate(164.86,282.70) scale(1.1,1)" font-family="Liberation Serif" font-size="17.3" font-style="italic">λ</text>
<text transform="translate(172.73,282.70) scale(1.15,1)" font-family="Liberation Sans" font-size="17.3" font-style="normal">=</text>
<text x="183.92" y="282.70" font-family="Liberation Sans" font-size="17.3" font-style="normal" text-anchor="start" >0.2</text>
<text transform="translate(545.06,285.00) scale(1.1,1)" font-family="Liberation Serif" font-size="17.3" font-style="italic">λ</text>
<text transform="translate(553.63,285.00) scale(1.15,1)" font-family="Liberation Sans" font-size="17.3" font-style="normal">=</text>
<text x="564.92" y="285.00" font-family="Liberation Sans" font-size="17.3" font-style="normal" text-anchor="start" >0.9</text>
</svg></body></html>
